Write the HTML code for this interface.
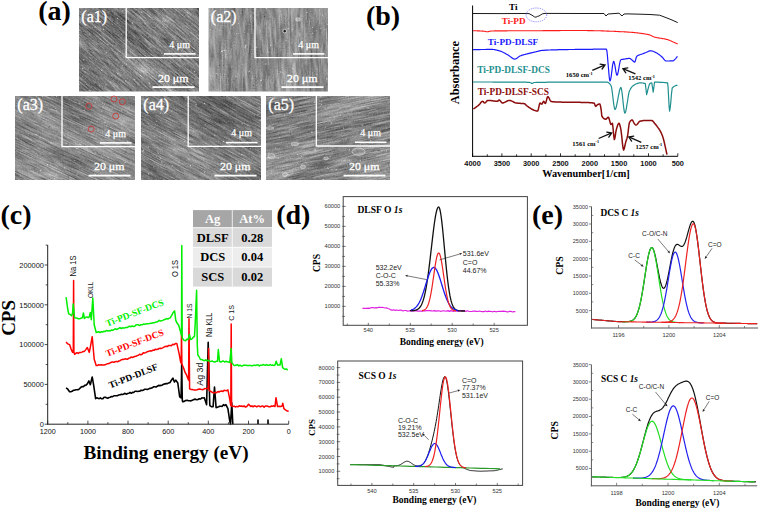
<!DOCTYPE html>
<html><head><meta charset="utf-8"><style>
html,body{margin:0;padding:0;background:#fff;width:760px;height:509px;overflow:hidden;}
svg{display:block;}
</style></head><body>
<svg width="760" height="509" viewBox="0 0 760 509">
<rect width="760" height="509" fill="#fff"/>
<text x="38.2" y="20.3" font-family='"Liberation Serif", serif' font-size="28" font-weight="bold" fill="#000" text-anchor="start"  >(a)</text>
<text x="365.9" y="25.3" font-family='"Liberation Serif", serif' font-size="28" font-weight="bold" fill="#000" text-anchor="start"  >(b)</text>
<text x="0.5" y="224.1" font-family='"Liberation Serif", serif' font-size="28" font-weight="bold" fill="#000" text-anchor="start"  >(c)</text>
<text x="276.2" y="223.5" font-family='"Liberation Serif", serif' font-size="28" font-weight="bold" fill="#000" text-anchor="start"  >(d)</text>
<text x="532.0" y="223.6" font-family='"Liberation Serif", serif' font-size="28" font-weight="bold" fill="#000" text-anchor="start"  >(e)</text>
<defs>
<clipPath id="ca1"><rect x="79" y="8" width="120" height="83.5"/></clipPath>
<filter id="fa1" x="0" y="0" width="1" height="1" color-interpolation-filters="sRGB"><feTurbulence type="fractalNoise" baseFrequency="0.06 0.9" numOctaves="3" seed="3" result="t"/><feColorMatrix in="t" type="matrix" values="1 0 0 0 0  1 0 0 0 0  1 0 0 0 0  0 0 0 0 1" result="g1"/><feTurbulence type="fractalNoise" baseFrequency="0.8" numOctaves="1" seed="23" result="t2"/><feColorMatrix in="t2" type="matrix" values="1 0 0 0 0  1 0 0 0 0  1 0 0 0 0  0 0 0 0 1" result="g2"/><feComposite in="g1" in2="g2" operator="arithmetic" k2="0.6" k3="0.4" result="g3"/><feTurbulence type="fractalNoise" baseFrequency="0.012 0.04" numOctaves="2" seed="43" result="t4"/><feColorMatrix in="t4" type="matrix" values="1 0 0 0 0  1 0 0 0 0  1 0 0 0 0  0 0 0 0 1" result="g4"/><feComposite in="g3" in2="g4" operator="arithmetic" k2="0.75" k3="0.35" k4="-0.05" result="g5"/><feColorMatrix in="g5" type="matrix" values="1.25 0 0 0 -0.145  1.25 0 0 0 -0.145  1.25 0 0 0 -0.145  0 0 0 0 1"/></filter>
<clipPath id="ca2"><rect x="208.5" y="8" width="119.5" height="83.5"/></clipPath>
<filter id="fa2" x="0" y="0" width="1" height="1" color-interpolation-filters="sRGB"><feTurbulence type="fractalNoise" baseFrequency="0.05 0.35" numOctaves="3" seed="7" result="t"/><feColorMatrix in="t" type="matrix" values="1 0 0 0 0  1 0 0 0 0  1 0 0 0 0  0 0 0 0 1" result="g1"/><feTurbulence type="fractalNoise" baseFrequency="0.8" numOctaves="1" seed="27" result="t2"/><feColorMatrix in="t2" type="matrix" values="1 0 0 0 0  1 0 0 0 0  1 0 0 0 0  0 0 0 0 1" result="g2"/><feComposite in="g1" in2="g2" operator="arithmetic" k2="0.6" k3="0.4" result="g3"/><feTurbulence type="fractalNoise" baseFrequency="0.012 0.04" numOctaves="2" seed="47" result="t4"/><feColorMatrix in="t4" type="matrix" values="1 0 0 0 0  1 0 0 0 0  1 0 0 0 0  0 0 0 0 1" result="g4"/><feComposite in="g3" in2="g4" operator="arithmetic" k2="0.75" k3="0.35" k4="-0.05" result="g5"/><feColorMatrix in="g5" type="matrix" values="0.9 0 0 0 0.100  0.9 0 0 0 0.100  0.9 0 0 0 0.100  0 0 0 0 1"/></filter>
<clipPath id="ca3"><rect x="15" y="96" width="120" height="84"/></clipPath>
<filter id="fa3" x="0" y="0" width="1" height="1" color-interpolation-filters="sRGB"><feTurbulence type="fractalNoise" baseFrequency="0.05 0.9" numOctaves="3" seed="11" result="t"/><feColorMatrix in="t" type="matrix" values="1 0 0 0 0  1 0 0 0 0  1 0 0 0 0  0 0 0 0 1" result="g1"/><feTurbulence type="fractalNoise" baseFrequency="0.8" numOctaves="1" seed="31" result="t2"/><feColorMatrix in="t2" type="matrix" values="1 0 0 0 0  1 0 0 0 0  1 0 0 0 0  0 0 0 0 1" result="g2"/><feComposite in="g1" in2="g2" operator="arithmetic" k2="0.6" k3="0.4" result="g3"/><feTurbulence type="fractalNoise" baseFrequency="0.012 0.04" numOctaves="2" seed="51" result="t4"/><feColorMatrix in="t4" type="matrix" values="1 0 0 0 0  1 0 0 0 0  1 0 0 0 0  0 0 0 0 1" result="g4"/><feComposite in="g3" in2="g4" operator="arithmetic" k2="0.75" k3="0.35" k4="-0.05" result="g5"/><feColorMatrix in="g5" type="matrix" values="1.05 0 0 0 0.005  1.05 0 0 0 0.005  1.05 0 0 0 0.005  0 0 0 0 1"/></filter>
<clipPath id="ca4"><rect x="141" y="96" width="120" height="84"/></clipPath>
<filter id="fa4" x="0" y="0" width="1" height="1" color-interpolation-filters="sRGB"><feTurbulence type="fractalNoise" baseFrequency="0.05 0.8" numOctaves="3" seed="5" result="t"/><feColorMatrix in="t" type="matrix" values="1 0 0 0 0  1 0 0 0 0  1 0 0 0 0  0 0 0 0 1" result="g1"/><feTurbulence type="fractalNoise" baseFrequency="0.8" numOctaves="1" seed="25" result="t2"/><feColorMatrix in="t2" type="matrix" values="1 0 0 0 0  1 0 0 0 0  1 0 0 0 0  0 0 0 0 1" result="g2"/><feComposite in="g1" in2="g2" operator="arithmetic" k2="0.6" k3="0.4" result="g3"/><feTurbulence type="fractalNoise" baseFrequency="0.012 0.04" numOctaves="2" seed="45" result="t4"/><feColorMatrix in="t4" type="matrix" values="1 0 0 0 0  1 0 0 0 0  1 0 0 0 0  0 0 0 0 1" result="g4"/><feComposite in="g3" in2="g4" operator="arithmetic" k2="0.75" k3="0.35" k4="-0.05" result="g5"/><feColorMatrix in="g5" type="matrix" values="1.1 0 0 0 -0.080  1.1 0 0 0 -0.080  1.1 0 0 0 -0.080  0 0 0 0 1"/></filter>
<clipPath id="ca5"><rect x="266" y="96" width="124" height="84"/></clipPath>
<filter id="fa5" x="0" y="0" width="1" height="1" color-interpolation-filters="sRGB"><feTurbulence type="fractalNoise" baseFrequency="0.04 0.8" numOctaves="3" seed="9" result="t"/><feColorMatrix in="t" type="matrix" values="1 0 0 0 0  1 0 0 0 0  1 0 0 0 0  0 0 0 0 1" result="g1"/><feTurbulence type="fractalNoise" baseFrequency="0.8" numOctaves="1" seed="29" result="t2"/><feColorMatrix in="t2" type="matrix" values="1 0 0 0 0  1 0 0 0 0  1 0 0 0 0  0 0 0 0 1" result="g2"/><feComposite in="g1" in2="g2" operator="arithmetic" k2="0.6" k3="0.4" result="g3"/><feTurbulence type="fractalNoise" baseFrequency="0.012 0.04" numOctaves="2" seed="49" result="t4"/><feColorMatrix in="t4" type="matrix" values="1 0 0 0 0  1 0 0 0 0  1 0 0 0 0  0 0 0 0 1" result="g4"/><feComposite in="g3" in2="g4" operator="arithmetic" k2="0.75" k3="0.35" k4="-0.05" result="g5"/><feColorMatrix in="g5" type="matrix" values="1.1 0 0 0 -0.030  1.1 0 0 0 -0.030  1.1 0 0 0 -0.030  0 0 0 0 1"/></filter>
</defs>
<g clip-path="url(#ca1)"><rect x="29.0" y="-60.25" width="220" height="220" filter="url(#fa1)" transform="rotate(40 139.0 49.75)"/></g>
<path d="M139.2,34.1L158.8,50.6M84.8,71.3L110.9,93.1M151.4,7.0L169.6,22.2M100.2,11.5L129.6,36.2M195.0,-8.7L222.0,13.9M147.5,32.5L159.4,42.5M152.3,35.9L174.7,54.7M149.4,1.4L174.0,22.1M196.3,89.7L216.8,107.0M71.2,-5.0L79.2,1.8M193.7,23.4L207.8,35.3M185.3,22.6L204.2,38.5M120.1,-3.6L140.0,13.0M182.0,9.8L192.4,18.6M118.0,-5.5L135.6,9.2M174.3,58.3L192.8,73.8M179.0,5.4L198.4,21.6M117.6,57.1L125.2,63.4M173.1,4.3L182.0,11.7M174.1,89.4L190.0,102.7M121.1,18.5L132.8,28.3M151.6,13.2L159.3,19.7M122.1,6.1L143.5,24.1M175.4,71.3L192.5,85.6M115.3,41.0L120.0,45.0M162.3,26.9L175.2,37.7M70.3,36.1L90.1,52.7M112.6,78.7L134.7,97.3M88.6,40.5L117.0,64.3M138.7,57.7L144.9,62.9M130.0,39.4L145.0,52.1M118.5,50.7L137.2,66.4M129.5,8.4L145.6,21.9M201.9,38.7L207.4,43.3M66.4,50.9L72.4,55.9M73.8,2.4L90.2,16.1M199.7,41.3L216.2,55.1M122.0,43.1L138.2,56.7M159.3,81.4L182.1,100.5M114.1,53.4L142.4,77.1M80.1,13.9L100.9,31.3M155.2,56.1L175.1,72.9M172.3,36.8L197.9,58.3M190.2,31.7L217.2,54.4M166.7,87.5L172.5,92.4M182.0,64.9L211.7,89.8M195.4,18.3L217.4,36.8M74.5,47.6L103.1,71.6M92.5,31.4L99.2,37.0M92.7,16.5L99.8,22.5M200.6,82.9L217.3,96.9M164.0,62.3L182.2,77.6M118.8,58.7L137.8,74.7M95.8,26.9L116.7,44.5M146.6,11.1L167.0,28.3M180.7,79.1L202.3,97.2M75.4,38.9L82.3,44.7M68.5,17.4L85.0,31.3M169.3,58.1L181.3,68.1M157.4,42.9L175.2,57.9M99.2,38.0L112.7,49.4M162.6,41.1L178.8,54.8M124.5,38.2L147.1,57.1M162.2,74.6L177.4,87.3M164.9,85.1L195.3,110.6M156.6,-6.4L183.2,16.0M179.5,-5.8L192.7,5.2M103.8,66.0L124.3,83.2M104.0,13.5L113.0,21.1M67.9,67.7L96.8,92.0" stroke="#fff" stroke-opacity="0.35" stroke-width="0.6" fill="none" clip-path="url(#ca1)"/>
<path d="M121.5,46.9L143.1,65.0M126.5,44.1L141.9,57.0M86.8,44.2L102.9,57.8M174.9,3.5L185.1,12.0M73.0,74.5L90.4,89.1M63.7,90.3L86.0,109.0M156.8,58.6L164.3,64.9M68.3,50.3L73.9,55.1M93.1,20.9L98.2,25.2M123.9,35.2L144.0,52.0M134.8,58.5L148.6,70.1M156.9,41.3L166.6,49.4M198.7,92.6L218.7,109.5M163.7,26.9L172.5,34.3M100.1,-2.6L118.8,13.1M119.2,80.7L130.9,90.5M200.8,83.8L205.4,87.6M91.7,86.7L105.0,97.8M203.3,36.6L209.2,41.6M152.3,74.6L161.9,82.6M70.0,23.1L92.4,41.8M170.6,6.4L179.7,14.0M73.5,-3.9L92.8,12.3M87.5,50.5L100.3,61.3M92.2,70.8L99.2,76.7M153.0,4.9L165.3,15.2M87.6,16.5L110.0,35.3M171.0,20.7L191.9,38.2M88.3,30.3L108.7,47.3M147.5,-1.2L170.2,17.9" stroke="#000" stroke-opacity="0.18" stroke-width="0.8" fill="none" clip-path="url(#ca1)"/>
<path d="M135.4,62.9a0.57,0.57 0 1,0 1.13,0a0.57,0.57 0 1,0 -1.13,0M95.7,8.9a0.45,0.45 0 1,0 0.90,0a0.45,0.45 0 1,0 -0.90,0M111.3,75.7a0.58,0.58 0 1,0 1.15,0a0.58,0.58 0 1,0 -1.15,0M150.6,54.6a0.56,0.56 0 1,0 1.13,0a0.56,0.56 0 1,0 -1.13,0M96.1,44.7a0.36,0.36 0 1,0 0.73,0a0.36,0.36 0 1,0 -0.73,0M187.1,12.9a0.63,0.63 0 1,0 1.26,0a0.63,0.63 0 1,0 -1.26,0M87.5,65.4a0.43,0.43 0 1,0 0.87,0a0.43,0.43 0 1,0 -0.87,0M127.2,78.3a0.31,0.31 0 1,0 0.61,0a0.31,0.31 0 1,0 -0.61,0M85.8,84.4a0.50,0.50 0 1,0 1.01,0a0.50,0.50 0 1,0 -1.01,0M89.2,90.4a0.68,0.68 0 1,0 1.36,0a0.68,0.68 0 1,0 -1.36,0M92.1,43.3a0.35,0.35 0 1,0 0.71,0a0.35,0.35 0 1,0 -0.71,0M116.1,59.9a0.37,0.37 0 1,0 0.73,0a0.37,0.37 0 1,0 -0.73,0M162.3,12.3a0.37,0.37 0 1,0 0.74,0a0.37,0.37 0 1,0 -0.74,0M176.4,41.4a0.47,0.47 0 1,0 0.94,0a0.47,0.47 0 1,0 -0.94,0M150.1,47.8a0.45,0.45 0 1,0 0.91,0a0.45,0.45 0 1,0 -0.91,0M82.0,68.6a0.69,0.69 0 1,0 1.37,0a0.69,0.69 0 1,0 -1.37,0M195.7,63.4a0.44,0.44 0 1,0 0.89,0a0.44,0.44 0 1,0 -0.89,0M122.0,65.6a0.57,0.57 0 1,0 1.14,0a0.57,0.57 0 1,0 -1.14,0M92.2,27.6a0.45,0.45 0 1,0 0.89,0a0.45,0.45 0 1,0 -0.89,0M139.9,75.6a0.50,0.50 0 1,0 1.00,0a0.50,0.50 0 1,0 -1.00,0M81.9,76.7a0.47,0.47 0 1,0 0.94,0a0.47,0.47 0 1,0 -0.94,0M140.8,26.6a0.47,0.47 0 1,0 0.94,0a0.47,0.47 0 1,0 -0.94,0M125.2,72.5a0.34,0.34 0 1,0 0.68,0a0.34,0.34 0 1,0 -0.68,0M144.4,22.9a0.58,0.58 0 1,0 1.16,0a0.58,0.58 0 1,0 -1.16,0M83.0,31.1a0.44,0.44 0 1,0 0.88,0a0.44,0.44 0 1,0 -0.88,0M154.9,12.3a0.48,0.48 0 1,0 0.97,0a0.48,0.48 0 1,0 -0.97,0M103.6,31.5a0.49,0.49 0 1,0 0.98,0a0.49,0.49 0 1,0 -0.98,0M193.4,48.2a0.68,0.68 0 1,0 1.36,0a0.68,0.68 0 1,0 -1.36,0M98.7,85.2a0.45,0.45 0 1,0 0.89,0a0.45,0.45 0 1,0 -0.89,0M101.0,70.5a0.66,0.66 0 1,0 1.33,0a0.66,0.66 0 1,0 -1.33,0M79.2,30.4a0.61,0.61 0 1,0 1.22,0a0.61,0.61 0 1,0 -1.22,0M119.7,28.2a0.30,0.30 0 1,0 0.61,0a0.30,0.30 0 1,0 -0.61,0M83.1,59.7a0.69,0.69 0 1,0 1.39,0a0.69,0.69 0 1,0 -1.39,0M198.5,50.1a0.31,0.31 0 1,0 0.62,0a0.31,0.31 0 1,0 -0.62,0M117.1,73.7a0.63,0.63 0 1,0 1.27,0a0.63,0.63 0 1,0 -1.27,0M155.2,27.2a0.51,0.51 0 1,0 1.02,0a0.51,0.51 0 1,0 -1.02,0M135.9,60.4a0.41,0.41 0 1,0 0.81,0a0.41,0.41 0 1,0 -0.81,0M192.2,82.7a0.36,0.36 0 1,0 0.73,0a0.36,0.36 0 1,0 -0.73,0M113.5,80.9a0.41,0.41 0 1,0 0.82,0a0.41,0.41 0 1,0 -0.82,0M191.7,51.0a0.58,0.58 0 1,0 1.16,0a0.58,0.58 0 1,0 -1.16,0M163.1,25.9a0.41,0.41 0 1,0 0.83,0a0.41,0.41 0 1,0 -0.83,0M109.0,65.1a0.58,0.58 0 1,0 1.16,0a0.58,0.58 0 1,0 -1.16,0M94.3,82.0a0.47,0.47 0 1,0 0.94,0a0.47,0.47 0 1,0 -0.94,0M107.3,44.3a0.69,0.69 0 1,0 1.38,0a0.69,0.69 0 1,0 -1.38,0M145.5,60.2a0.67,0.67 0 1,0 1.34,0a0.67,0.67 0 1,0 -1.34,0M194.0,71.5a0.47,0.47 0 1,0 0.93,0a0.47,0.47 0 1,0 -0.93,0M149.0,83.2a0.62,0.62 0 1,0 1.23,0a0.62,0.62 0 1,0 -1.23,0M148.2,37.0a0.45,0.45 0 1,0 0.89,0a0.45,0.45 0 1,0 -0.89,0M167.0,55.0a0.31,0.31 0 1,0 0.61,0a0.31,0.31 0 1,0 -0.61,0M163.6,83.5a0.62,0.62 0 1,0 1.24,0a0.62,0.62 0 1,0 -1.24,0M186.2,84.0a0.51,0.51 0 1,0 1.03,0a0.51,0.51 0 1,0 -1.03,0M173.4,39.7a0.34,0.34 0 1,0 0.68,0a0.34,0.34 0 1,0 -0.68,0M120.7,34.1a0.67,0.67 0 1,0 1.35,0a0.67,0.67 0 1,0 -1.35,0M161.1,53.2a0.55,0.55 0 1,0 1.10,0a0.55,0.55 0 1,0 -1.10,0M93.4,52.6a0.58,0.58 0 1,0 1.16,0a0.58,0.58 0 1,0 -1.16,0M125.8,28.5a0.46,0.46 0 1,0 0.93,0a0.46,0.46 0 1,0 -0.93,0M117.5,65.2a0.36,0.36 0 1,0 0.71,0a0.36,0.36 0 1,0 -0.71,0M89.3,34.1a0.58,0.58 0 1,0 1.16,0a0.58,0.58 0 1,0 -1.16,0M169.5,63.1a0.67,0.67 0 1,0 1.35,0a0.67,0.67 0 1,0 -1.35,0M122.4,10.5a0.50,0.50 0 1,0 0.99,0a0.50,0.50 0 1,0 -0.99,0M131.7,23.0a0.57,0.57 0 1,0 1.13,0a0.57,0.57 0 1,0 -1.13,0M119.5,27.9a0.43,0.43 0 1,0 0.86,0a0.43,0.43 0 1,0 -0.86,0M191.8,8.6a0.44,0.44 0 1,0 0.89,0a0.44,0.44 0 1,0 -0.89,0M112.1,24.8a0.47,0.47 0 1,0 0.95,0a0.47,0.47 0 1,0 -0.95,0M104.9,84.7a0.50,0.50 0 1,0 1.00,0a0.50,0.50 0 1,0 -1.00,0M162.3,21.6a0.49,0.49 0 1,0 0.97,0a0.49,0.49 0 1,0 -0.97,0M151.4,78.4a0.40,0.40 0 1,0 0.80,0a0.40,0.40 0 1,0 -0.80,0M133.5,79.4a0.63,0.63 0 1,0 1.27,0a0.63,0.63 0 1,0 -1.27,0M105.7,52.9a0.60,0.60 0 1,0 1.21,0a0.60,0.60 0 1,0 -1.21,0M125.9,64.2a0.57,0.57 0 1,0 1.13,0a0.57,0.57 0 1,0 -1.13,0M195.1,54.2a0.57,0.57 0 1,0 1.14,0a0.57,0.57 0 1,0 -1.14,0M120.6,69.1a0.43,0.43 0 1,0 0.86,0a0.43,0.43 0 1,0 -0.86,0M138.6,38.1a0.42,0.42 0 1,0 0.85,0a0.42,0.42 0 1,0 -0.85,0M94.8,26.8a0.52,0.52 0 1,0 1.04,0a0.52,0.52 0 1,0 -1.04,0M108.6,11.8a0.62,0.62 0 1,0 1.24,0a0.62,0.62 0 1,0 -1.24,0M112.7,86.2a0.54,0.54 0 1,0 1.08,0a0.54,0.54 0 1,0 -1.08,0M125.0,80.9a0.66,0.66 0 1,0 1.32,0a0.66,0.66 0 1,0 -1.32,0M117.0,18.5a0.56,0.56 0 1,0 1.11,0a0.56,0.56 0 1,0 -1.11,0M179.5,58.8a0.61,0.61 0 1,0 1.23,0a0.61,0.61 0 1,0 -1.23,0M128.1,59.6a0.41,0.41 0 1,0 0.81,0a0.41,0.41 0 1,0 -0.81,0M127.4,39.7a0.45,0.45 0 1,0 0.91,0a0.45,0.45 0 1,0 -0.91,0M126.6,75.4a0.37,0.37 0 1,0 0.74,0a0.37,0.37 0 1,0 -0.74,0M102.9,29.3a0.69,0.69 0 1,0 1.38,0a0.69,0.69 0 1,0 -1.38,0M141.1,12.4a0.63,0.63 0 1,0 1.27,0a0.63,0.63 0 1,0 -1.27,0M183.4,76.6a0.44,0.44 0 1,0 0.89,0a0.44,0.44 0 1,0 -0.89,0M166.8,33.5a0.35,0.35 0 1,0 0.71,0a0.35,0.35 0 1,0 -0.71,0M182.4,77.6a0.38,0.38 0 1,0 0.77,0a0.38,0.38 0 1,0 -0.77,0M184.2,10.1a0.42,0.42 0 1,0 0.85,0a0.42,0.42 0 1,0 -0.85,0M80.2,22.3a0.37,0.37 0 1,0 0.73,0a0.37,0.37 0 1,0 -0.73,0M164.5,32.8a0.38,0.38 0 1,0 0.75,0a0.38,0.38 0 1,0 -0.75,0" fill="#fff" fill-opacity="0.55" clip-path="url(#ca1)"/>
<path d="M109.6,65.2a0.51,0.51 0 1,0 1.01,0a0.51,0.51 0 1,0 -1.01,0M180.6,23.5a0.37,0.37 0 1,0 0.74,0a0.37,0.37 0 1,0 -0.74,0M96.1,26.8a0.52,0.52 0 1,0 1.04,0a0.52,0.52 0 1,0 -1.04,0M94.3,52.4a0.36,0.36 0 1,0 0.73,0a0.36,0.36 0 1,0 -0.73,0M113.8,44.0a0.55,0.55 0 1,0 1.10,0a0.55,0.55 0 1,0 -1.10,0M151.6,9.2a0.38,0.38 0 1,0 0.77,0a0.38,0.38 0 1,0 -0.77,0M96.1,80.8a0.54,0.54 0 1,0 1.09,0a0.54,0.54 0 1,0 -1.09,0M175.2,77.0a0.52,0.52 0 1,0 1.05,0a0.52,0.52 0 1,0 -1.05,0M192.5,74.3a0.38,0.38 0 1,0 0.75,0a0.38,0.38 0 1,0 -0.75,0M180.5,48.6a0.53,0.53 0 1,0 1.05,0a0.53,0.53 0 1,0 -1.05,0M146.3,43.9a0.41,0.41 0 1,0 0.82,0a0.41,0.41 0 1,0 -0.82,0M130.2,34.2a0.34,0.34 0 1,0 0.67,0a0.34,0.34 0 1,0 -0.67,0M176.8,74.7a0.60,0.60 0 1,0 1.19,0a0.60,0.60 0 1,0 -1.19,0M161.4,54.3a0.52,0.52 0 1,0 1.05,0a0.52,0.52 0 1,0 -1.05,0M94.7,64.5a0.43,0.43 0 1,0 0.87,0a0.43,0.43 0 1,0 -0.87,0M99.7,24.9a0.46,0.46 0 1,0 0.91,0a0.46,0.46 0 1,0 -0.91,0M108.9,46.4a0.48,0.48 0 1,0 0.96,0a0.48,0.48 0 1,0 -0.96,0M126.0,18.9a0.45,0.45 0 1,0 0.89,0a0.45,0.45 0 1,0 -0.89,0M106.9,27.7a0.36,0.36 0 1,0 0.72,0a0.36,0.36 0 1,0 -0.72,0M122.5,14.1a0.50,0.50 0 1,0 0.99,0a0.50,0.50 0 1,0 -0.99,0M192.9,40.5a0.52,0.52 0 1,0 1.03,0a0.52,0.52 0 1,0 -1.03,0M190.6,11.6a0.34,0.34 0 1,0 0.69,0a0.34,0.34 0 1,0 -0.69,0M175.2,78.0a0.49,0.49 0 1,0 0.98,0a0.49,0.49 0 1,0 -0.98,0M97.6,42.5a0.56,0.56 0 1,0 1.12,0a0.56,0.56 0 1,0 -1.12,0M185.0,75.1a0.36,0.36 0 1,0 0.72,0a0.36,0.36 0 1,0 -0.72,0" fill="#000" fill-opacity="0.35" clip-path="url(#ca1)"/>
<polyline points="126.2,8 126.2,57.6 199,57.6" fill="none" stroke="#fff" stroke-width="1.3"/>
<text x="81.3" y="21.6" font-family='"Liberation Serif", serif' font-size="16" fill="#fff" stroke="#fff" stroke-width="0.3">(a1)</text>
<text x="190" y="47.6" font-family='"Liberation Serif", serif' font-size="10" fill="#fff" stroke="#fff" stroke-width="0.25" text-anchor="end">4 μm</text>
<rect x="164" y="53.1" width="31.5" height="1.6" fill="#fff"/>
<text x="188.5" y="81.8" font-family='"Liberation Serif", serif' font-size="11" fill="#fff" stroke="#fff" stroke-width="0.3" text-anchor="end" textLength="30.5" lengthAdjust="spacingAndGlyphs">20 μm</text>
<rect x="152.5" y="86.2" width="42" height="1.8" fill="#fff"/>
<g clip-path="url(#ca2)"><rect x="158.25" y="-60.25" width="220" height="220" filter="url(#fa2)" transform="rotate(88 268.25 49.75)"/></g>
<path d="M332.1,9.1L332.3,15.9M337.6,12.0L338.0,22.1M288.7,15.7L290.0,51.9M230.5,88.9L231.1,105.7M281.8,79.8L282.9,109.1M327.2,67.5L327.5,75.1M321.2,50.7L321.7,67.3M224.6,73.1L225.5,98.9M328.7,58.8L330.0,97.4M277.0,56.9L278.0,83.7M234.3,88.7L234.8,105.3M307.0,82.7L308.0,110.9M217.8,69.1L218.8,97.7M223.9,-8.9L224.7,15.1M202.6,82.1L203.4,105.3M270.2,26.1L271.2,54.6M326.0,20.5L326.7,39.2M279.3,15.7L280.2,41.9M273.8,28.4L274.8,57.3M271.5,-12.8L272.9,27.0M247.8,32.8L248.5,52.5M327.8,84.9L328.6,108.2M253.8,-10.2L255.0,26.2M222.1,45.6L222.7,63.5M244.1,28.7L244.5,41.2M203.1,36.9L204.2,69.9M288.3,4.1L289.3,33.6M205.2,23.4L206.4,57.6M326.4,28.3L327.6,63.1M267.6,39.3L268.5,65.2M336.4,63.9L337.2,86.0M299.6,55.6L300.3,73.6M307.4,69.5L308.4,96.2M329.6,-11.6L330.4,11.4M286.8,27.3L287.2,39.2M294.8,35.4L295.3,50.5M204.0,89.1L204.7,107.1M214.7,13.1L215.2,27.7M319.1,9.0L319.6,24.4M211.9,40.1L212.3,53.2M245.9,55.3L247.2,92.8M314.5,-7.5L315.2,11.4M316.7,-5.0L317.2,7.9M266.3,21.8L267.4,53.3M298.4,38.8L298.9,53.3M230.5,21.5L230.8,29.7M290.7,-3.8L292.0,32.4M288.2,-7.6L289.0,15.3M282.3,-8.9L283.1,13.6M202.6,74.2L202.8,80.4M286.1,82.6L287.3,117.4M230.9,48.0L231.2,58.7M245.7,70.5L246.8,104.3M199.3,23.4L200.3,51.2M222.3,62.9L223.6,99.2M274.8,18.1L276.0,52.9M269.8,9.8L270.3,25.2M220.3,73.1L221.1,96.5M295.0,63.1L296.4,102.1M224.5,22.1L225.7,57.8M304.3,23.9L305.2,52.2M225.6,10.9L225.8,18.6M251.1,10.6L251.9,34.2M333.3,1.3L334.2,26.3M318.7,48.0L319.5,71.9M304.9,-18.9L306.3,19.4M293.7,64.5L294.9,98.5M212.0,-1.1L212.5,10.9M268.3,76.7L269.6,113.6M255.4,46.9L256.5,78.0" stroke="#fff" stroke-opacity="0.35" stroke-width="0.6" fill="none" clip-path="url(#ca2)"/>
<path d="M327.0,82.5L328.0,109.9M209.9,51.2L210.4,67.4M272.3,6.2L272.6,16.8M260.2,12.4L260.8,29.3M201.6,-4.6L202.4,18.4M256.9,39.3L257.7,62.9M248.1,-8.4L249.0,16.3M280.3,55.6L281.0,76.5M333.5,23.4L334.3,47.7M249.6,46.3L250.3,68.1M242.1,-1.8L242.7,15.6M298.4,50.8L298.9,67.5M287.9,11.7L288.3,22.0M243.4,77.1L243.8,87.8M214.3,4.7L214.6,11.7M236.5,44.4L237.4,70.1M244.4,29.8L244.9,42.7M240.7,68.9L241.4,88.1M234.1,-3.3L235.0,21.5M296.9,77.9L297.4,89.6M274.2,83.0L274.9,103.2M329.9,0.6L330.9,30.0M206.2,37.8L206.4,44.4M310.9,54.4L311.9,83.8M310.5,86.7L311.1,105.7M336.1,68.4L336.6,82.7M334.2,31.7L334.6,42.3M208.9,40.9L209.3,51.6M328.5,90.8L328.9,102.0M212.8,47.7L213.1,57.8" stroke="#000" stroke-opacity="0.18" stroke-width="0.8" fill="none" clip-path="url(#ca2)"/>
<path d="M293.3,78.1a0.37,0.37 0 1,0 0.75,0a0.37,0.37 0 1,0 -0.75,0M327.2,24.2a0.57,0.57 0 1,0 1.14,0a0.57,0.57 0 1,0 -1.14,0M219.1,71.3a0.36,0.36 0 1,0 0.72,0a0.36,0.36 0 1,0 -0.72,0M292.3,68.5a0.61,0.61 0 1,0 1.21,0a0.61,0.61 0 1,0 -1.21,0M260.5,80.3a0.70,0.70 0 1,0 1.39,0a0.70,0.70 0 1,0 -1.39,0M221.6,51.2a0.68,0.68 0 1,0 1.37,0a0.68,0.68 0 1,0 -1.37,0M296.4,45.1a0.42,0.42 0 1,0 0.84,0a0.42,0.42 0 1,0 -0.84,0M321.8,15.1a0.60,0.60 0 1,0 1.21,0a0.60,0.60 0 1,0 -1.21,0M308.8,21.2a0.43,0.43 0 1,0 0.86,0a0.43,0.43 0 1,0 -0.86,0M244.5,53.3a0.45,0.45 0 1,0 0.89,0a0.45,0.45 0 1,0 -0.89,0M314.9,85.2a0.43,0.43 0 1,0 0.85,0a0.43,0.43 0 1,0 -0.85,0M315.1,13.8a0.34,0.34 0 1,0 0.68,0a0.34,0.34 0 1,0 -0.68,0M287.4,74.7a0.63,0.63 0 1,0 1.26,0a0.63,0.63 0 1,0 -1.26,0M326.6,79.8a0.41,0.41 0 1,0 0.81,0a0.41,0.41 0 1,0 -0.81,0M296.9,85.2a0.34,0.34 0 1,0 0.67,0a0.34,0.34 0 1,0 -0.67,0M267.2,20.9a0.36,0.36 0 1,0 0.71,0a0.36,0.36 0 1,0 -0.71,0M265.1,64.0a0.69,0.69 0 1,0 1.38,0a0.69,0.69 0 1,0 -1.38,0M223.5,50.2a0.70,0.70 0 1,0 1.40,0a0.70,0.70 0 1,0 -1.40,0M299.5,52.4a0.40,0.40 0 1,0 0.79,0a0.40,0.40 0 1,0 -0.79,0M283.3,29.8a0.56,0.56 0 1,0 1.12,0a0.56,0.56 0 1,0 -1.12,0M285.4,40.7a0.62,0.62 0 1,0 1.24,0a0.62,0.62 0 1,0 -1.24,0M256.1,47.2a0.63,0.63 0 1,0 1.27,0a0.63,0.63 0 1,0 -1.27,0M237.9,23.5a0.53,0.53 0 1,0 1.06,0a0.53,0.53 0 1,0 -1.06,0M260.0,81.0a0.40,0.40 0 1,0 0.80,0a0.40,0.40 0 1,0 -0.80,0M252.4,12.8a0.48,0.48 0 1,0 0.96,0a0.48,0.48 0 1,0 -0.96,0M245.2,45.5a0.61,0.61 0 1,0 1.21,0a0.61,0.61 0 1,0 -1.21,0M212.4,90.6a0.58,0.58 0 1,0 1.17,0a0.58,0.58 0 1,0 -1.17,0M304.9,53.0a0.53,0.53 0 1,0 1.06,0a0.53,0.53 0 1,0 -1.06,0M257.1,41.1a0.39,0.39 0 1,0 0.78,0a0.39,0.39 0 1,0 -0.78,0M244.3,32.5a0.43,0.43 0 1,0 0.87,0a0.43,0.43 0 1,0 -0.87,0M316.4,74.7a0.56,0.56 0 1,0 1.11,0a0.56,0.56 0 1,0 -1.11,0M210.0,29.9a0.52,0.52 0 1,0 1.03,0a0.52,0.52 0 1,0 -1.03,0M290.7,43.0a0.55,0.55 0 1,0 1.11,0a0.55,0.55 0 1,0 -1.11,0M316.2,30.3a0.45,0.45 0 1,0 0.91,0a0.45,0.45 0 1,0 -0.91,0M298.8,34.6a0.59,0.59 0 1,0 1.18,0a0.59,0.59 0 1,0 -1.18,0M255.5,9.6a0.49,0.49 0 1,0 0.97,0a0.49,0.49 0 1,0 -0.97,0M216.0,73.5a0.64,0.64 0 1,0 1.28,0a0.64,0.64 0 1,0 -1.28,0M271.4,83.1a0.39,0.39 0 1,0 0.77,0a0.39,0.39 0 1,0 -0.77,0M261.4,22.7a0.32,0.32 0 1,0 0.64,0a0.32,0.32 0 1,0 -0.64,0M306.3,12.4a0.67,0.67 0 1,0 1.35,0a0.67,0.67 0 1,0 -1.35,0M274.7,66.5a0.32,0.32 0 1,0 0.64,0a0.32,0.32 0 1,0 -0.64,0M316.6,74.3a0.34,0.34 0 1,0 0.68,0a0.34,0.34 0 1,0 -0.68,0M229.8,19.8a0.50,0.50 0 1,0 1.00,0a0.50,0.50 0 1,0 -1.00,0M217.4,74.7a0.50,0.50 0 1,0 1.00,0a0.50,0.50 0 1,0 -1.00,0M292.1,29.3a0.56,0.56 0 1,0 1.12,0a0.56,0.56 0 1,0 -1.12,0M262.2,62.1a0.46,0.46 0 1,0 0.93,0a0.46,0.46 0 1,0 -0.93,0M326.1,78.7a0.63,0.63 0 1,0 1.27,0a0.63,0.63 0 1,0 -1.27,0M248.9,24.0a0.36,0.36 0 1,0 0.72,0a0.36,0.36 0 1,0 -0.72,0M223.8,88.8a0.41,0.41 0 1,0 0.83,0a0.41,0.41 0 1,0 -0.83,0M312.0,27.4a0.55,0.55 0 1,0 1.10,0a0.55,0.55 0 1,0 -1.10,0M237.7,33.6a0.60,0.60 0 1,0 1.20,0a0.60,0.60 0 1,0 -1.20,0M280.8,87.0a0.39,0.39 0 1,0 0.79,0a0.39,0.39 0 1,0 -0.79,0M240.4,13.2a0.39,0.39 0 1,0 0.77,0a0.39,0.39 0 1,0 -0.77,0M325.2,55.1a0.49,0.49 0 1,0 0.98,0a0.49,0.49 0 1,0 -0.98,0M248.7,71.4a0.58,0.58 0 1,0 1.15,0a0.58,0.58 0 1,0 -1.15,0M226.7,11.9a0.37,0.37 0 1,0 0.74,0a0.37,0.37 0 1,0 -0.74,0M305.8,69.2a0.39,0.39 0 1,0 0.78,0a0.39,0.39 0 1,0 -0.78,0M235.9,33.7a0.57,0.57 0 1,0 1.14,0a0.57,0.57 0 1,0 -1.14,0M297.5,27.9a0.43,0.43 0 1,0 0.86,0a0.43,0.43 0 1,0 -0.86,0M236.3,87.0a0.52,0.52 0 1,0 1.04,0a0.52,0.52 0 1,0 -1.04,0M320.2,28.2a0.55,0.55 0 1,0 1.11,0a0.55,0.55 0 1,0 -1.11,0M276.0,85.8a0.45,0.45 0 1,0 0.89,0a0.45,0.45 0 1,0 -0.89,0M235.1,76.3a0.68,0.68 0 1,0 1.36,0a0.68,0.68 0 1,0 -1.36,0M269.0,35.8a0.33,0.33 0 1,0 0.67,0a0.33,0.33 0 1,0 -0.67,0M261.1,85.2a0.44,0.44 0 1,0 0.89,0a0.44,0.44 0 1,0 -0.89,0M261.7,55.1a0.40,0.40 0 1,0 0.79,0a0.40,0.40 0 1,0 -0.79,0M220.8,51.3a0.69,0.69 0 1,0 1.37,0a0.69,0.69 0 1,0 -1.37,0M312.1,33.2a0.61,0.61 0 1,0 1.23,0a0.61,0.61 0 1,0 -1.23,0M307.5,56.7a0.44,0.44 0 1,0 0.89,0a0.44,0.44 0 1,0 -0.89,0M231.3,66.8a0.57,0.57 0 1,0 1.15,0a0.57,0.57 0 1,0 -1.15,0M233.7,19.8a0.35,0.35 0 1,0 0.69,0a0.35,0.35 0 1,0 -0.69,0M307.0,81.9a0.51,0.51 0 1,0 1.01,0a0.51,0.51 0 1,0 -1.01,0M281.1,67.1a0.36,0.36 0 1,0 0.73,0a0.36,0.36 0 1,0 -0.73,0M269.9,45.4a0.65,0.65 0 1,0 1.30,0a0.65,0.65 0 1,0 -1.30,0M227.7,78.7a0.36,0.36 0 1,0 0.71,0a0.36,0.36 0 1,0 -0.71,0M281.1,82.4a0.33,0.33 0 1,0 0.66,0a0.33,0.33 0 1,0 -0.66,0M265.8,8.4a0.50,0.50 0 1,0 1.01,0a0.50,0.50 0 1,0 -1.01,0M266.0,88.1a0.49,0.49 0 1,0 0.99,0a0.49,0.49 0 1,0 -0.99,0M316.6,68.9a0.64,0.64 0 1,0 1.27,0a0.64,0.64 0 1,0 -1.27,0M249.8,16.0a0.55,0.55 0 1,0 1.11,0a0.55,0.55 0 1,0 -1.11,0M221.6,60.3a0.37,0.37 0 1,0 0.74,0a0.37,0.37 0 1,0 -0.74,0M280.0,72.0a0.68,0.68 0 1,0 1.37,0a0.68,0.68 0 1,0 -1.37,0M232.1,22.6a0.47,0.47 0 1,0 0.94,0a0.47,0.47 0 1,0 -0.94,0M324.4,29.3a0.49,0.49 0 1,0 0.98,0a0.49,0.49 0 1,0 -0.98,0M253.5,13.2a0.52,0.52 0 1,0 1.03,0a0.52,0.52 0 1,0 -1.03,0M244.6,47.3a0.60,0.60 0 1,0 1.19,0a0.60,0.60 0 1,0 -1.19,0M287.7,28.4a0.56,0.56 0 1,0 1.12,0a0.56,0.56 0 1,0 -1.12,0M272.3,71.9a0.30,0.30 0 1,0 0.60,0a0.30,0.30 0 1,0 -0.60,0M241.6,64.2a0.52,0.52 0 1,0 1.05,0a0.52,0.52 0 1,0 -1.05,0M268.2,52.2a0.55,0.55 0 1,0 1.09,0a0.55,0.55 0 1,0 -1.09,0" fill="#fff" fill-opacity="0.55" clip-path="url(#ca2)"/>
<path d="M253.0,85.4a0.55,0.55 0 1,0 1.11,0a0.55,0.55 0 1,0 -1.11,0M233.6,80.8a0.49,0.49 0 1,0 0.98,0a0.49,0.49 0 1,0 -0.98,0M213.2,87.6a0.38,0.38 0 1,0 0.75,0a0.38,0.38 0 1,0 -0.75,0M244.6,43.4a0.48,0.48 0 1,0 0.95,0a0.48,0.48 0 1,0 -0.95,0M222.8,65.3a0.55,0.55 0 1,0 1.10,0a0.55,0.55 0 1,0 -1.10,0M269.2,74.3a0.49,0.49 0 1,0 0.97,0a0.49,0.49 0 1,0 -0.97,0M306.7,23.1a0.41,0.41 0 1,0 0.82,0a0.41,0.41 0 1,0 -0.82,0M264.0,16.7a0.59,0.59 0 1,0 1.18,0a0.59,0.59 0 1,0 -1.18,0M284.0,16.2a0.47,0.47 0 1,0 0.95,0a0.47,0.47 0 1,0 -0.95,0M257.7,23.8a0.35,0.35 0 1,0 0.70,0a0.35,0.35 0 1,0 -0.70,0M263.1,13.9a0.47,0.47 0 1,0 0.94,0a0.47,0.47 0 1,0 -0.94,0M269.5,18.6a0.56,0.56 0 1,0 1.13,0a0.56,0.56 0 1,0 -1.13,0M212.8,22.4a0.55,0.55 0 1,0 1.09,0a0.55,0.55 0 1,0 -1.09,0M234.4,43.4a0.47,0.47 0 1,0 0.94,0a0.47,0.47 0 1,0 -0.94,0M260.1,49.3a0.45,0.45 0 1,0 0.90,0a0.45,0.45 0 1,0 -0.90,0M265.6,12.8a0.54,0.54 0 1,0 1.09,0a0.54,0.54 0 1,0 -1.09,0M241.9,12.0a0.42,0.42 0 1,0 0.84,0a0.42,0.42 0 1,0 -0.84,0M305.4,60.5a0.44,0.44 0 1,0 0.87,0a0.44,0.44 0 1,0 -0.87,0M265.1,26.3a0.49,0.49 0 1,0 0.97,0a0.49,0.49 0 1,0 -0.97,0M250.0,13.4a0.34,0.34 0 1,0 0.68,0a0.34,0.34 0 1,0 -0.68,0M219.0,65.2a0.56,0.56 0 1,0 1.13,0a0.56,0.56 0 1,0 -1.13,0M298.4,26.3a0.34,0.34 0 1,0 0.69,0a0.34,0.34 0 1,0 -0.69,0M321.7,39.2a0.35,0.35 0 1,0 0.70,0a0.35,0.35 0 1,0 -0.70,0M276.3,59.7a0.46,0.46 0 1,0 0.92,0a0.46,0.46 0 1,0 -0.92,0M262.1,33.4a0.45,0.45 0 1,0 0.90,0a0.45,0.45 0 1,0 -0.90,0" fill="#000" fill-opacity="0.35" clip-path="url(#ca2)"/>
<polyline points="255,8 255,57.6 328,57.6" fill="none" stroke="#fff" stroke-width="1.3"/>
<text x="210.8" y="21.6" font-family='"Liberation Serif", serif' font-size="16" fill="#fff" stroke="#fff" stroke-width="0.3">(a2)</text>
<text x="319" y="47.6" font-family='"Liberation Serif", serif' font-size="10" fill="#fff" stroke="#fff" stroke-width="0.25" text-anchor="end">4 μm</text>
<rect x="293" y="53.1" width="31.5" height="1.6" fill="#fff"/>
<text x="317.5" y="81.8" font-family='"Liberation Serif", serif' font-size="11" fill="#fff" stroke="#fff" stroke-width="0.3" text-anchor="end" textLength="30.5" lengthAdjust="spacingAndGlyphs">20 μm</text>
<rect x="281.5" y="86.2" width="42" height="1.8" fill="#fff"/>
<g clip-path="url(#ca3)"><rect x="-35.0" y="28.0" width="220" height="220" filter="url(#fa3)" transform="rotate(25 75.0 138.0)"/></g>
<path d="M63.3,139.6L94.8,154.2M122.5,173.9L139.1,181.6M130.4,126.6L145.3,133.6M13.1,136.8L23.3,141.6M28.7,142.7L58.1,156.3M106.7,93.3L114.0,96.7M25.1,136.1L56.4,150.7M105.3,177.6L128.9,188.6M86.6,112.8L101.7,119.9M21.8,136.0L45.9,147.3M76.0,122.5L94.5,131.1M28.1,165.3L51.5,176.2M102.8,167.1L116.9,173.7M4.7,107.6L38.1,123.2M101.1,121.3L130.5,135.0M48.8,174.1L57.0,177.9M99.5,183.7L117.9,192.2M62.7,96.4L76.6,102.9M34.0,115.0L41.5,118.6M36.1,91.8L57.7,101.9M44.6,101.6L79.1,117.7M31.8,133.6L64.8,149.0M99.1,180.8L123.3,192.1M112.9,86.2L140.9,99.3M37.5,112.6L66.6,126.2M100.5,117.7L117.2,125.4M31.8,177.5L56.2,188.8M37.8,139.7L45.0,143.0M25.0,129.9L60.4,146.4M110.7,136.2L139.6,149.7M22.2,149.8L58.3,166.6M8.7,174.6L44.5,191.3M38.6,162.3L74.5,179.0M13.8,128.8L37.6,139.9M101.8,107.0L130.4,120.3M89.5,168.7L117.6,181.8M114.4,143.7L136.6,154.0M59.8,123.7L79.5,132.9M69.1,124.5L79.0,129.1M53.2,180.8L68.1,187.8M132.9,168.0L152.3,177.1M18.1,169.3L52.9,185.5M34.2,148.9L62.8,162.2M85.6,95.6L98.3,101.5M93.0,145.9L119.1,158.1M29.6,170.6L59.0,184.3M65.5,171.5L80.3,178.3M62.0,131.9L97.3,148.3M121.5,114.6L151.0,128.3M30.2,170.2L63.1,185.5M93.0,86.2L107.9,93.1M25.7,136.9L32.2,140.0M-2.3,88.9L29.8,103.8M72.0,168.1L106.5,184.2M75.2,169.7L94.0,178.4M80.7,98.9L99.8,107.9M0.9,125.9L36.0,142.2M140.5,162.4L147.3,165.6M130.4,135.1L156.6,147.4M54.4,163.1L69.6,170.1M14.8,131.1L26.0,136.4M22.9,100.2L49.9,112.9M87.1,102.8L113.7,115.2M2.6,181.3L15.3,187.2M60.7,117.1L92.5,131.9M50.6,96.0L82.5,110.9M72.8,107.3L100.2,120.1M115.5,156.4L145.3,170.3M50.9,108.8L58.0,112.1M122.1,106.3L138.9,114.1" stroke="#fff" stroke-opacity="0.35" stroke-width="0.6" fill="none" clip-path="url(#ca3)"/>
<path d="M71.0,159.0L92.7,169.1M112.9,109.6L139.3,121.9M73.4,158.6L95.3,168.8M128.4,111.4L141.8,117.6M94.5,141.8L116.3,151.9M53.2,184.0L58.8,186.7M103.0,123.6L109.0,126.3M94.2,88.9L104.8,93.8M46.0,100.2L55.0,104.4M11.7,172.3L18.9,175.7M14.9,88.1L40.1,99.9M68.1,165.3L94.7,177.7M67.4,123.8L81.3,130.3M28.8,141.7L55.3,154.0M63.1,158.9L87.9,170.5M112.5,151.7L129.9,159.8M6.7,119.7L30.7,130.8M61.4,154.2L72.4,159.4M75.4,103.5L97.9,114.1M108.9,83.2L128.8,92.5M13.6,182.6L22.9,186.9M13.6,174.4L32.4,183.2M-5.2,129.0L18.3,139.9M22.2,161.5L34.0,167.0M63.6,125.6L70.2,128.7M50.1,135.9L69.0,144.7M71.3,99.3L89.9,108.0M41.8,177.8L49.4,181.4M104.9,90.8L122.6,99.0M44.0,129.1L64.4,138.6" stroke="#000" stroke-opacity="0.18" stroke-width="0.8" fill="none" clip-path="url(#ca3)"/>
<path d="M53.8,178.6a0.68,0.68 0 1,0 1.37,0a0.68,0.68 0 1,0 -1.37,0M124.5,162.4a0.65,0.65 0 1,0 1.30,0a0.65,0.65 0 1,0 -1.30,0M14.6,148.7a0.40,0.40 0 1,0 0.80,0a0.40,0.40 0 1,0 -0.80,0M102.1,132.3a0.52,0.52 0 1,0 1.05,0a0.52,0.52 0 1,0 -1.05,0M79.5,144.4a0.63,0.63 0 1,0 1.26,0a0.63,0.63 0 1,0 -1.26,0M132.2,125.0a0.62,0.62 0 1,0 1.24,0a0.62,0.62 0 1,0 -1.24,0M121.4,128.9a0.35,0.35 0 1,0 0.70,0a0.35,0.35 0 1,0 -0.70,0M74.2,160.2a0.51,0.51 0 1,0 1.02,0a0.51,0.51 0 1,0 -1.02,0M36.7,155.3a0.43,0.43 0 1,0 0.86,0a0.43,0.43 0 1,0 -0.86,0M120.8,110.2a0.54,0.54 0 1,0 1.08,0a0.54,0.54 0 1,0 -1.08,0M60.9,178.7a0.36,0.36 0 1,0 0.71,0a0.36,0.36 0 1,0 -0.71,0M120.2,131.1a0.45,0.45 0 1,0 0.90,0a0.45,0.45 0 1,0 -0.90,0M39.3,137.5a0.67,0.67 0 1,0 1.34,0a0.67,0.67 0 1,0 -1.34,0M134.4,174.9a0.54,0.54 0 1,0 1.09,0a0.54,0.54 0 1,0 -1.09,0M42.8,138.6a0.56,0.56 0 1,0 1.12,0a0.56,0.56 0 1,0 -1.12,0M50.2,178.9a0.33,0.33 0 1,0 0.67,0a0.33,0.33 0 1,0 -0.67,0M42.8,113.1a0.37,0.37 0 1,0 0.73,0a0.37,0.37 0 1,0 -0.73,0M22.2,116.1a0.45,0.45 0 1,0 0.90,0a0.45,0.45 0 1,0 -0.90,0M127.2,141.8a0.55,0.55 0 1,0 1.10,0a0.55,0.55 0 1,0 -1.10,0M56.2,110.3a0.53,0.53 0 1,0 1.05,0a0.53,0.53 0 1,0 -1.05,0M101.8,103.1a0.56,0.56 0 1,0 1.12,0a0.56,0.56 0 1,0 -1.12,0M39.7,154.0a0.44,0.44 0 1,0 0.88,0a0.44,0.44 0 1,0 -0.88,0M32.1,107.8a0.62,0.62 0 1,0 1.23,0a0.62,0.62 0 1,0 -1.23,0M79.2,103.2a0.66,0.66 0 1,0 1.32,0a0.66,0.66 0 1,0 -1.32,0M47.9,119.5a0.30,0.30 0 1,0 0.60,0a0.30,0.30 0 1,0 -0.60,0M50.4,143.0a0.66,0.66 0 1,0 1.32,0a0.66,0.66 0 1,0 -1.32,0M50.5,137.8a0.33,0.33 0 1,0 0.66,0a0.33,0.33 0 1,0 -0.66,0M97.0,121.2a0.45,0.45 0 1,0 0.90,0a0.45,0.45 0 1,0 -0.90,0M46.8,164.7a0.69,0.69 0 1,0 1.38,0a0.69,0.69 0 1,0 -1.38,0M31.2,133.9a0.34,0.34 0 1,0 0.69,0a0.34,0.34 0 1,0 -0.69,0M104.7,172.2a0.35,0.35 0 1,0 0.70,0a0.35,0.35 0 1,0 -0.70,0M96.4,121.5a0.48,0.48 0 1,0 0.96,0a0.48,0.48 0 1,0 -0.96,0M83.1,128.3a0.56,0.56 0 1,0 1.12,0a0.56,0.56 0 1,0 -1.12,0M53.8,137.7a0.44,0.44 0 1,0 0.89,0a0.44,0.44 0 1,0 -0.89,0M65.4,108.0a0.44,0.44 0 1,0 0.89,0a0.44,0.44 0 1,0 -0.89,0M27.8,148.2a0.47,0.47 0 1,0 0.93,0a0.47,0.47 0 1,0 -0.93,0M64.8,171.4a0.36,0.36 0 1,0 0.73,0a0.36,0.36 0 1,0 -0.73,0M78.0,147.2a0.55,0.55 0 1,0 1.11,0a0.55,0.55 0 1,0 -1.11,0M105.6,125.8a0.67,0.67 0 1,0 1.34,0a0.67,0.67 0 1,0 -1.34,0M94.6,102.3a0.54,0.54 0 1,0 1.08,0a0.54,0.54 0 1,0 -1.08,0M76.4,174.6a0.59,0.59 0 1,0 1.18,0a0.59,0.59 0 1,0 -1.18,0M95.3,153.0a0.58,0.58 0 1,0 1.17,0a0.58,0.58 0 1,0 -1.17,0M68.1,137.3a0.51,0.51 0 1,0 1.02,0a0.51,0.51 0 1,0 -1.02,0M16.9,138.9a0.47,0.47 0 1,0 0.94,0a0.47,0.47 0 1,0 -0.94,0M65.7,143.4a0.56,0.56 0 1,0 1.12,0a0.56,0.56 0 1,0 -1.12,0M61.4,144.3a0.39,0.39 0 1,0 0.79,0a0.39,0.39 0 1,0 -0.79,0M131.5,151.8a0.58,0.58 0 1,0 1.16,0a0.58,0.58 0 1,0 -1.16,0M103.2,98.2a0.37,0.37 0 1,0 0.74,0a0.37,0.37 0 1,0 -0.74,0M60.0,132.9a0.46,0.46 0 1,0 0.92,0a0.46,0.46 0 1,0 -0.92,0M76.6,148.7a0.60,0.60 0 1,0 1.20,0a0.60,0.60 0 1,0 -1.20,0M97.5,130.1a0.64,0.64 0 1,0 1.28,0a0.64,0.64 0 1,0 -1.28,0M112.1,176.7a0.31,0.31 0 1,0 0.61,0a0.31,0.31 0 1,0 -0.61,0M83.7,110.6a0.64,0.64 0 1,0 1.29,0a0.64,0.64 0 1,0 -1.29,0M127.9,152.1a0.43,0.43 0 1,0 0.86,0a0.43,0.43 0 1,0 -0.86,0M119.1,139.0a0.58,0.58 0 1,0 1.16,0a0.58,0.58 0 1,0 -1.16,0M37.2,105.0a0.63,0.63 0 1,0 1.27,0a0.63,0.63 0 1,0 -1.27,0M117.7,127.8a0.33,0.33 0 1,0 0.67,0a0.33,0.33 0 1,0 -0.67,0M50.3,172.5a0.39,0.39 0 1,0 0.78,0a0.39,0.39 0 1,0 -0.78,0M104.3,122.3a0.68,0.68 0 1,0 1.35,0a0.68,0.68 0 1,0 -1.35,0M55.4,175.7a0.50,0.50 0 1,0 1.01,0a0.50,0.50 0 1,0 -1.01,0M15.5,129.1a0.47,0.47 0 1,0 0.94,0a0.47,0.47 0 1,0 -0.94,0M32.7,103.2a0.52,0.52 0 1,0 1.05,0a0.52,0.52 0 1,0 -1.05,0M101.7,157.5a0.43,0.43 0 1,0 0.86,0a0.43,0.43 0 1,0 -0.86,0M36.0,134.5a0.59,0.59 0 1,0 1.18,0a0.59,0.59 0 1,0 -1.18,0M39.8,170.5a0.69,0.69 0 1,0 1.38,0a0.69,0.69 0 1,0 -1.38,0M55.2,108.2a0.52,0.52 0 1,0 1.04,0a0.52,0.52 0 1,0 -1.04,0M32.9,171.2a0.54,0.54 0 1,0 1.07,0a0.54,0.54 0 1,0 -1.07,0M64.1,167.9a0.61,0.61 0 1,0 1.22,0a0.61,0.61 0 1,0 -1.22,0M103.7,104.4a0.45,0.45 0 1,0 0.90,0a0.45,0.45 0 1,0 -0.90,0M55.8,168.3a0.40,0.40 0 1,0 0.81,0a0.40,0.40 0 1,0 -0.81,0M27.7,133.6a0.42,0.42 0 1,0 0.84,0a0.42,0.42 0 1,0 -0.84,0M93.7,127.1a0.35,0.35 0 1,0 0.70,0a0.35,0.35 0 1,0 -0.70,0M94.6,174.4a0.58,0.58 0 1,0 1.15,0a0.58,0.58 0 1,0 -1.15,0M82.8,102.1a0.38,0.38 0 1,0 0.76,0a0.38,0.38 0 1,0 -0.76,0M94.3,175.4a0.49,0.49 0 1,0 0.98,0a0.49,0.49 0 1,0 -0.98,0M131.1,105.1a0.41,0.41 0 1,0 0.83,0a0.41,0.41 0 1,0 -0.83,0M49.5,153.5a0.45,0.45 0 1,0 0.89,0a0.45,0.45 0 1,0 -0.89,0M93.0,100.7a0.57,0.57 0 1,0 1.14,0a0.57,0.57 0 1,0 -1.14,0M101.0,111.6a0.37,0.37 0 1,0 0.73,0a0.37,0.37 0 1,0 -0.73,0M63.9,135.4a0.49,0.49 0 1,0 0.98,0a0.49,0.49 0 1,0 -0.98,0M128.5,107.5a0.55,0.55 0 1,0 1.10,0a0.55,0.55 0 1,0 -1.10,0M76.1,148.3a0.41,0.41 0 1,0 0.83,0a0.41,0.41 0 1,0 -0.83,0M105.9,165.0a0.31,0.31 0 1,0 0.62,0a0.31,0.31 0 1,0 -0.62,0M56.1,96.3a0.54,0.54 0 1,0 1.07,0a0.54,0.54 0 1,0 -1.07,0M104.3,130.0a0.69,0.69 0 1,0 1.38,0a0.69,0.69 0 1,0 -1.38,0M107.7,151.6a0.34,0.34 0 1,0 0.69,0a0.34,0.34 0 1,0 -0.69,0M50.2,164.3a0.49,0.49 0 1,0 0.98,0a0.49,0.49 0 1,0 -0.98,0M41.8,96.1a0.60,0.60 0 1,0 1.19,0a0.60,0.60 0 1,0 -1.19,0M46.6,104.9a0.50,0.50 0 1,0 1.00,0a0.50,0.50 0 1,0 -1.00,0M100.3,144.6a0.30,0.30 0 1,0 0.61,0a0.30,0.30 0 1,0 -0.61,0" fill="#fff" fill-opacity="0.55" clip-path="url(#ca3)"/>
<path d="M96.4,103.7a0.49,0.49 0 1,0 0.97,0a0.49,0.49 0 1,0 -0.97,0M115.6,166.1a0.45,0.45 0 1,0 0.91,0a0.45,0.45 0 1,0 -0.91,0M90.3,127.0a0.46,0.46 0 1,0 0.92,0a0.46,0.46 0 1,0 -0.92,0M27.5,153.4a0.48,0.48 0 1,0 0.96,0a0.48,0.48 0 1,0 -0.96,0M48.3,127.8a0.52,0.52 0 1,0 1.04,0a0.52,0.52 0 1,0 -1.04,0M67.7,176.6a0.59,0.59 0 1,0 1.18,0a0.59,0.59 0 1,0 -1.18,0M115.3,103.6a0.32,0.32 0 1,0 0.65,0a0.32,0.32 0 1,0 -0.65,0M49.1,126.3a0.51,0.51 0 1,0 1.02,0a0.51,0.51 0 1,0 -1.02,0M113.7,143.3a0.49,0.49 0 1,0 0.98,0a0.49,0.49 0 1,0 -0.98,0M83.3,98.9a0.46,0.46 0 1,0 0.92,0a0.46,0.46 0 1,0 -0.92,0M40.3,131.0a0.30,0.30 0 1,0 0.61,0a0.30,0.30 0 1,0 -0.61,0M93.4,172.5a0.32,0.32 0 1,0 0.64,0a0.32,0.32 0 1,0 -0.64,0M84.2,98.0a0.41,0.41 0 1,0 0.81,0a0.41,0.41 0 1,0 -0.81,0M33.6,168.3a0.52,0.52 0 1,0 1.04,0a0.52,0.52 0 1,0 -1.04,0M122.1,114.3a0.52,0.52 0 1,0 1.03,0a0.52,0.52 0 1,0 -1.03,0M98.4,138.9a0.57,0.57 0 1,0 1.15,0a0.57,0.57 0 1,0 -1.15,0M89.5,119.8a0.52,0.52 0 1,0 1.03,0a0.52,0.52 0 1,0 -1.03,0M72.3,113.9a0.49,0.49 0 1,0 0.97,0a0.49,0.49 0 1,0 -0.97,0M20.3,133.7a0.47,0.47 0 1,0 0.93,0a0.47,0.47 0 1,0 -0.93,0M15.0,150.5a0.33,0.33 0 1,0 0.65,0a0.33,0.33 0 1,0 -0.65,0M92.7,124.7a0.31,0.31 0 1,0 0.62,0a0.31,0.31 0 1,0 -0.62,0M134.6,101.4a0.35,0.35 0 1,0 0.69,0a0.35,0.35 0 1,0 -0.69,0M75.2,116.6a0.46,0.46 0 1,0 0.92,0a0.46,0.46 0 1,0 -0.92,0M71.4,144.4a0.46,0.46 0 1,0 0.93,0a0.46,0.46 0 1,0 -0.93,0M49.8,113.8a0.51,0.51 0 1,0 1.02,0a0.51,0.51 0 1,0 -1.02,0" fill="#000" fill-opacity="0.35" clip-path="url(#ca3)"/>
<polyline points="62,96 62,146.6 135,146.6" fill="none" stroke="#fff" stroke-width="1.3"/>
<text x="17.3" y="109.6" font-family='"Liberation Serif", serif' font-size="16" fill="#fff" stroke="#fff" stroke-width="0.3">(a3)</text>
<text x="126" y="136.6" font-family='"Liberation Serif", serif' font-size="10" fill="#fff" stroke="#fff" stroke-width="0.25" text-anchor="end">4 μm</text>
<rect x="100" y="142.1" width="31.5" height="1.6" fill="#fff"/>
<text x="124.5" y="170.3" font-family='"Liberation Serif", serif' font-size="11" fill="#fff" stroke="#fff" stroke-width="0.3" text-anchor="end" textLength="30.5" lengthAdjust="spacingAndGlyphs">20 μm</text>
<rect x="88.5" y="174.7" width="42" height="1.8" fill="#fff"/>
<g clip-path="url(#ca4)"><rect x="91.0" y="28.0" width="220" height="220" filter="url(#fa4)" transform="rotate(28 201.0 138.0)"/></g>
<path d="M172.7,131.2L190.5,140.7M181.0,121.9L206.1,135.2M164.4,150.6L170.0,153.5M168.5,118.3L178.1,123.4M220.6,110.5L249.6,126.0M248.8,103.8L280.9,120.9M241.0,153.8L247.1,157.0M187.9,147.4L202.0,155.0M155.9,114.7L168.9,121.7M232.3,117.4L250.3,127.0M214.0,180.9L228.1,188.4M122.0,179.2L152.3,195.3M235.5,137.1L247.8,143.7M143.1,112.6L162.2,122.7M126.6,151.5L153.8,165.9M122.8,168.3L142.9,178.9M245.0,127.6L274.2,143.2M184.5,144.4L204.7,155.1M128.1,97.7L140.3,104.2M177.1,118.7L198.6,130.1M215.9,123.6L230.8,131.6M188.2,177.4L217.0,192.7M216.7,167.7L228.8,174.2M140.7,93.3L149.6,98.1M115.8,142.3L148.7,159.8M130.1,148.5L163.7,166.3M225.9,95.4L250.4,108.4M164.0,103.0L169.6,106.0M200.3,179.3L208.8,183.8M148.4,124.7L154.8,128.1M186.5,156.9L205.6,167.0M130.8,86.2L142.1,92.1M214.2,176.8L234.6,187.6M136.6,103.7L154.4,113.2M137.0,93.2L155.3,102.9M232.8,102.2L264.6,119.2M247.6,127.8L259.7,134.2M141.8,147.4L171.9,163.4M242.4,102.9L260.5,112.5M127.0,113.9L141.2,121.4M130.8,84.6L165.9,103.3M163.0,132.2L184.4,143.6M186.9,141.9L207.3,152.7M187.5,87.8L211.8,100.7M217.3,157.4L232.0,165.2M182.2,162.6L209.3,177.1M133.1,118.0L143.6,123.6M222.0,123.3L239.1,132.4M148.8,126.1L175.6,140.4M210.8,104.5L227.9,113.6M202.0,83.2L234.4,100.4M129.3,148.4L139.1,153.6M258.9,154.8L270.9,161.1M186.0,165.7L217.0,182.2M210.0,145.1L237.6,159.7M247.3,133.1L271.1,145.7M236.8,136.0L248.7,142.3M198.9,115.2L225.6,129.4M231.4,178.0L240.0,182.6M120.5,175.6L147.8,190.1M253.7,161.6L287.6,179.7M140.9,99.0L164.6,111.6M220.2,89.2L254.0,107.2M154.0,102.3L172.4,112.1M152.7,93.3L160.3,97.4M122.7,94.8L148.4,108.5M231.3,161.6L249.1,171.1M220.8,89.7L252.0,106.3M180.0,94.3L196.8,103.2M149.8,158.9L166.4,167.7" stroke="#fff" stroke-opacity="0.35" stroke-width="0.6" fill="none" clip-path="url(#ca4)"/>
<path d="M191.3,163.1L216.9,176.7M161.4,160.3L181.7,171.1M220.7,95.9L226.5,99.0M179.5,160.8L190.1,166.5M189.6,112.8L212.8,125.2M250.1,120.7L276.6,134.8M127.8,164.2L151.6,176.9M143.6,154.8L160.7,163.9M256.4,103.4L273.1,112.3M248.6,149.3L260.5,155.6M134.8,179.7L150.1,187.8M259.2,94.7L281.7,106.7M242.0,180.2L247.7,183.2M172.5,85.7L193.7,97.0M174.0,182.3L187.3,189.3M234.2,173.5L244.6,179.0M200.7,181.2L217.2,189.9M170.4,107.9L192.3,119.6M149.4,144.3L166.5,153.3M198.9,94.3L218.1,104.6M253.1,115.9L265.5,122.4M252.7,143.2L263.8,149.1M126.0,161.0L138.7,167.7M187.0,109.4L205.8,119.3M229.6,116.4L236.5,120.0M266.3,179.1L272.0,182.2M203.1,153.7L216.9,161.0M224.5,181.1L242.3,190.6M180.5,103.5L191.1,109.2M147.2,94.9L157.0,100.1" stroke="#000" stroke-opacity="0.18" stroke-width="0.8" fill="none" clip-path="url(#ca4)"/>
<path d="M162.3,151.6a0.43,0.43 0 1,0 0.87,0a0.43,0.43 0 1,0 -0.87,0M164.3,137.1a0.50,0.50 0 1,0 1.00,0a0.50,0.50 0 1,0 -1.00,0M198.2,134.5a0.41,0.41 0 1,0 0.81,0a0.41,0.41 0 1,0 -0.81,0M171.0,154.1a0.43,0.43 0 1,0 0.86,0a0.43,0.43 0 1,0 -0.86,0M221.3,162.1a0.65,0.65 0 1,0 1.29,0a0.65,0.65 0 1,0 -1.29,0M253.9,115.7a0.39,0.39 0 1,0 0.79,0a0.39,0.39 0 1,0 -0.79,0M228.8,144.3a0.38,0.38 0 1,0 0.76,0a0.38,0.38 0 1,0 -0.76,0M221.7,169.4a0.63,0.63 0 1,0 1.27,0a0.63,0.63 0 1,0 -1.27,0M166.6,121.1a0.30,0.30 0 1,0 0.61,0a0.30,0.30 0 1,0 -0.61,0M257.5,114.5a0.59,0.59 0 1,0 1.18,0a0.59,0.59 0 1,0 -1.18,0M205.0,145.9a0.51,0.51 0 1,0 1.02,0a0.51,0.51 0 1,0 -1.02,0M239.6,146.4a0.42,0.42 0 1,0 0.84,0a0.42,0.42 0 1,0 -0.84,0M154.1,136.1a0.67,0.67 0 1,0 1.34,0a0.67,0.67 0 1,0 -1.34,0M157.9,153.5a0.55,0.55 0 1,0 1.10,0a0.55,0.55 0 1,0 -1.10,0M159.7,113.4a0.57,0.57 0 1,0 1.15,0a0.57,0.57 0 1,0 -1.15,0M192.9,130.2a0.49,0.49 0 1,0 0.98,0a0.49,0.49 0 1,0 -0.98,0M152.6,155.2a0.54,0.54 0 1,0 1.07,0a0.54,0.54 0 1,0 -1.07,0M204.5,124.5a0.62,0.62 0 1,0 1.25,0a0.62,0.62 0 1,0 -1.25,0M239.5,141.8a0.34,0.34 0 1,0 0.67,0a0.34,0.34 0 1,0 -0.67,0M158.4,108.8a0.33,0.33 0 1,0 0.66,0a0.33,0.33 0 1,0 -0.66,0M218.4,141.7a0.38,0.38 0 1,0 0.76,0a0.38,0.38 0 1,0 -0.76,0M249.6,148.9a0.62,0.62 0 1,0 1.23,0a0.62,0.62 0 1,0 -1.23,0M238.7,153.2a0.51,0.51 0 1,0 1.02,0a0.51,0.51 0 1,0 -1.02,0M258.6,107.2a0.58,0.58 0 1,0 1.15,0a0.58,0.58 0 1,0 -1.15,0M246.5,136.2a0.63,0.63 0 1,0 1.25,0a0.63,0.63 0 1,0 -1.25,0M162.4,131.0a0.41,0.41 0 1,0 0.82,0a0.41,0.41 0 1,0 -0.82,0M188.3,155.0a0.36,0.36 0 1,0 0.71,0a0.36,0.36 0 1,0 -0.71,0M181.2,167.1a0.42,0.42 0 1,0 0.84,0a0.42,0.42 0 1,0 -0.84,0M155.6,179.5a0.52,0.52 0 1,0 1.03,0a0.52,0.52 0 1,0 -1.03,0M142.8,144.0a0.36,0.36 0 1,0 0.72,0a0.36,0.36 0 1,0 -0.72,0M160.0,158.1a0.56,0.56 0 1,0 1.12,0a0.56,0.56 0 1,0 -1.12,0M191.6,139.2a0.52,0.52 0 1,0 1.05,0a0.52,0.52 0 1,0 -1.05,0M195.5,104.5a0.61,0.61 0 1,0 1.21,0a0.61,0.61 0 1,0 -1.21,0M233.0,131.4a0.46,0.46 0 1,0 0.92,0a0.46,0.46 0 1,0 -0.92,0M213.8,135.6a0.47,0.47 0 1,0 0.93,0a0.47,0.47 0 1,0 -0.93,0M245.8,172.0a0.36,0.36 0 1,0 0.72,0a0.36,0.36 0 1,0 -0.72,0M161.0,161.9a0.68,0.68 0 1,0 1.37,0a0.68,0.68 0 1,0 -1.37,0M228.3,120.9a0.32,0.32 0 1,0 0.65,0a0.32,0.32 0 1,0 -0.65,0M239.7,174.1a0.60,0.60 0 1,0 1.21,0a0.60,0.60 0 1,0 -1.21,0M228.8,177.7a0.51,0.51 0 1,0 1.02,0a0.51,0.51 0 1,0 -1.02,0M252.3,118.0a0.33,0.33 0 1,0 0.66,0a0.33,0.33 0 1,0 -0.66,0M241.1,154.7a0.62,0.62 0 1,0 1.24,0a0.62,0.62 0 1,0 -1.24,0M156.1,121.2a0.53,0.53 0 1,0 1.07,0a0.53,0.53 0 1,0 -1.07,0M148.2,123.6a0.54,0.54 0 1,0 1.08,0a0.54,0.54 0 1,0 -1.08,0M253.0,156.4a0.46,0.46 0 1,0 0.92,0a0.46,0.46 0 1,0 -0.92,0M189.4,139.1a0.60,0.60 0 1,0 1.19,0a0.60,0.60 0 1,0 -1.19,0M259.8,96.9a0.67,0.67 0 1,0 1.34,0a0.67,0.67 0 1,0 -1.34,0M236.9,99.8a0.40,0.40 0 1,0 0.81,0a0.40,0.40 0 1,0 -0.81,0M173.5,114.1a0.36,0.36 0 1,0 0.73,0a0.36,0.36 0 1,0 -0.73,0M156.9,152.8a0.48,0.48 0 1,0 0.95,0a0.48,0.48 0 1,0 -0.95,0M153.2,166.8a0.63,0.63 0 1,0 1.27,0a0.63,0.63 0 1,0 -1.27,0M171.6,165.7a0.61,0.61 0 1,0 1.22,0a0.61,0.61 0 1,0 -1.22,0M204.0,103.4a0.58,0.58 0 1,0 1.17,0a0.58,0.58 0 1,0 -1.17,0M245.3,170.5a0.68,0.68 0 1,0 1.36,0a0.68,0.68 0 1,0 -1.36,0M160.1,178.0a0.34,0.34 0 1,0 0.67,0a0.34,0.34 0 1,0 -0.67,0M184.1,141.3a0.56,0.56 0 1,0 1.11,0a0.56,0.56 0 1,0 -1.11,0M203.9,172.2a0.61,0.61 0 1,0 1.22,0a0.61,0.61 0 1,0 -1.22,0M243.6,152.8a0.48,0.48 0 1,0 0.96,0a0.48,0.48 0 1,0 -0.96,0M142.8,150.3a0.67,0.67 0 1,0 1.35,0a0.67,0.67 0 1,0 -1.35,0M163.5,179.7a0.31,0.31 0 1,0 0.61,0a0.31,0.31 0 1,0 -0.61,0M188.1,159.1a0.59,0.59 0 1,0 1.17,0a0.59,0.59 0 1,0 -1.17,0M209.9,119.6a0.40,0.40 0 1,0 0.80,0a0.40,0.40 0 1,0 -0.80,0M157.5,150.2a0.31,0.31 0 1,0 0.61,0a0.31,0.31 0 1,0 -0.61,0M156.0,156.2a0.48,0.48 0 1,0 0.96,0a0.48,0.48 0 1,0 -0.96,0M142.4,131.6a0.67,0.67 0 1,0 1.34,0a0.67,0.67 0 1,0 -1.34,0M202.1,118.6a0.35,0.35 0 1,0 0.71,0a0.35,0.35 0 1,0 -0.71,0M200.5,116.4a0.41,0.41 0 1,0 0.82,0a0.41,0.41 0 1,0 -0.82,0M147.7,146.9a0.62,0.62 0 1,0 1.23,0a0.62,0.62 0 1,0 -1.23,0M201.4,147.4a0.42,0.42 0 1,0 0.83,0a0.42,0.42 0 1,0 -0.83,0M259.4,120.1a0.67,0.67 0 1,0 1.33,0a0.67,0.67 0 1,0 -1.33,0M142.1,151.5a0.65,0.65 0 1,0 1.30,0a0.65,0.65 0 1,0 -1.30,0M208.9,114.1a0.37,0.37 0 1,0 0.73,0a0.37,0.37 0 1,0 -0.73,0M259.2,179.4a0.39,0.39 0 1,0 0.79,0a0.39,0.39 0 1,0 -0.79,0M189.8,165.6a0.65,0.65 0 1,0 1.29,0a0.65,0.65 0 1,0 -1.29,0M144.1,141.8a0.40,0.40 0 1,0 0.80,0a0.40,0.40 0 1,0 -0.80,0M150.5,154.2a0.49,0.49 0 1,0 0.99,0a0.49,0.49 0 1,0 -0.99,0M165.6,159.8a0.43,0.43 0 1,0 0.86,0a0.43,0.43 0 1,0 -0.86,0M172.2,121.1a0.38,0.38 0 1,0 0.76,0a0.38,0.38 0 1,0 -0.76,0M241.5,123.7a0.67,0.67 0 1,0 1.35,0a0.67,0.67 0 1,0 -1.35,0M222.8,141.3a0.66,0.66 0 1,0 1.32,0a0.66,0.66 0 1,0 -1.32,0M185.2,99.0a0.56,0.56 0 1,0 1.12,0a0.56,0.56 0 1,0 -1.12,0M147.9,173.9a0.69,0.69 0 1,0 1.38,0a0.69,0.69 0 1,0 -1.38,0M187.3,103.5a0.68,0.68 0 1,0 1.37,0a0.68,0.68 0 1,0 -1.37,0M171.5,177.2a0.49,0.49 0 1,0 0.98,0a0.49,0.49 0 1,0 -0.98,0M246.9,169.4a0.36,0.36 0 1,0 0.72,0a0.36,0.36 0 1,0 -0.72,0M180.7,132.2a0.38,0.38 0 1,0 0.76,0a0.38,0.38 0 1,0 -0.76,0M252.1,113.6a0.39,0.39 0 1,0 0.79,0a0.39,0.39 0 1,0 -0.79,0M162.3,108.7a0.63,0.63 0 1,0 1.25,0a0.63,0.63 0 1,0 -1.25,0M165.0,145.5a0.35,0.35 0 1,0 0.70,0a0.35,0.35 0 1,0 -0.70,0M237.7,161.9a0.68,0.68 0 1,0 1.35,0a0.68,0.68 0 1,0 -1.35,0" fill="#fff" fill-opacity="0.55" clip-path="url(#ca4)"/>
<path d="M221.8,161.9a0.46,0.46 0 1,0 0.91,0a0.46,0.46 0 1,0 -0.91,0M201.8,129.1a0.60,0.60 0 1,0 1.20,0a0.60,0.60 0 1,0 -1.20,0M175.3,108.5a0.38,0.38 0 1,0 0.76,0a0.38,0.38 0 1,0 -0.76,0M171.9,123.5a0.38,0.38 0 1,0 0.76,0a0.38,0.38 0 1,0 -0.76,0M153.5,123.3a0.39,0.39 0 1,0 0.79,0a0.39,0.39 0 1,0 -0.79,0M209.0,112.9a0.32,0.32 0 1,0 0.64,0a0.32,0.32 0 1,0 -0.64,0M164.9,141.6a0.42,0.42 0 1,0 0.83,0a0.42,0.42 0 1,0 -0.83,0M228.6,163.5a0.42,0.42 0 1,0 0.85,0a0.42,0.42 0 1,0 -0.85,0M152.4,157.2a0.53,0.53 0 1,0 1.05,0a0.53,0.53 0 1,0 -1.05,0M188.1,151.3a0.39,0.39 0 1,0 0.78,0a0.39,0.39 0 1,0 -0.78,0M250.2,166.0a0.54,0.54 0 1,0 1.08,0a0.54,0.54 0 1,0 -1.08,0M255.0,115.6a0.46,0.46 0 1,0 0.93,0a0.46,0.46 0 1,0 -0.93,0M228.3,163.3a0.42,0.42 0 1,0 0.83,0a0.42,0.42 0 1,0 -0.83,0M157.3,148.6a0.33,0.33 0 1,0 0.66,0a0.33,0.33 0 1,0 -0.66,0M225.2,96.6a0.44,0.44 0 1,0 0.87,0a0.44,0.44 0 1,0 -0.87,0M198.1,106.1a0.44,0.44 0 1,0 0.89,0a0.44,0.44 0 1,0 -0.89,0M200.4,127.0a0.57,0.57 0 1,0 1.14,0a0.57,0.57 0 1,0 -1.14,0M244.6,170.8a0.37,0.37 0 1,0 0.75,0a0.37,0.37 0 1,0 -0.75,0M143.8,127.6a0.33,0.33 0 1,0 0.67,0a0.33,0.33 0 1,0 -0.67,0M225.3,118.1a0.34,0.34 0 1,0 0.68,0a0.34,0.34 0 1,0 -0.68,0M174.5,129.9a0.52,0.52 0 1,0 1.04,0a0.52,0.52 0 1,0 -1.04,0M195.8,121.3a0.50,0.50 0 1,0 1.01,0a0.50,0.50 0 1,0 -1.01,0M145.9,113.6a0.51,0.51 0 1,0 1.01,0a0.51,0.51 0 1,0 -1.01,0M230.9,104.5a0.32,0.32 0 1,0 0.64,0a0.32,0.32 0 1,0 -0.64,0M201.4,151.1a0.30,0.30 0 1,0 0.61,0a0.30,0.30 0 1,0 -0.61,0" fill="#000" fill-opacity="0.35" clip-path="url(#ca4)"/>
<polyline points="188.2,96 188.2,146.3 261,146.3" fill="none" stroke="#fff" stroke-width="1.3"/>
<text x="143.3" y="109.6" font-family='"Liberation Serif", serif' font-size="16" fill="#fff" stroke="#fff" stroke-width="0.3">(a4)</text>
<text x="252" y="136.3" font-family='"Liberation Serif", serif' font-size="10" fill="#fff" stroke="#fff" stroke-width="0.25" text-anchor="end">4 μm</text>
<rect x="226" y="141.8" width="31.5" height="1.6" fill="#fff"/>
<text x="250.5" y="170.3" font-family='"Liberation Serif", serif' font-size="11" fill="#fff" stroke="#fff" stroke-width="0.3" text-anchor="end" textLength="30.5" lengthAdjust="spacingAndGlyphs">20 μm</text>
<rect x="214.5" y="174.7" width="42" height="1.8" fill="#fff"/>
<g clip-path="url(#ca5)"><rect x="218.0" y="28.0" width="220" height="220" filter="url(#fa5)" transform="rotate(-12 328.0 138.0)"/></g>
<path d="M259.4,102.3L285.1,96.9M271.0,102.0L292.3,97.5M306.7,110.2L325.6,106.2M371.2,100.9L383.3,98.3M255.5,111.9L264.5,110.0M378.4,122.8L417.2,114.6M263.3,182.4L286.0,177.6M348.0,156.5L362.9,153.3M284.4,157.8L294.6,155.6M244.4,169.1L271.4,163.3M275.4,144.0L311.5,136.3M286.3,101.0L306.0,96.8M276.6,125.0L283.6,123.5M356.8,171.8L375.1,167.9M291.6,116.8L329.2,108.8M376.6,156.1L388.2,153.6M274.7,167.1L286.9,164.5M351.7,130.5L358.6,129.1M276.2,182.8L292.8,179.2M343.6,167.2L362.7,163.2M312.9,178.7L342.9,172.3M320.6,144.9L341.4,140.4M310.4,157.3L324.4,154.3M373.9,118.1L387.4,115.2M385.1,89.6L404.5,85.5M318.8,135.3L352.3,128.2M350.0,139.1L356.0,137.8M388.9,125.9L406.7,122.1M283.0,107.4L292.3,105.4M267.1,157.6L282.8,154.3M325.4,154.7L333.7,153.0M349.1,109.7L381.8,102.7M375.6,134.7L392.1,131.2M309.6,183.7L348.1,175.5M349.5,129.7L368.7,125.7M340.3,123.7L372.4,116.9M293.7,148.4L316.8,143.4M313.9,177.3L349.4,169.8M358.9,155.0L378.0,151.0M295.4,137.6L329.5,130.3M355.0,97.0L368.9,94.0M248.2,121.2L281.6,114.1M330.8,91.6L361.6,85.0M341.3,136.3L348.2,134.8M240.9,97.1L275.9,89.7M298.4,95.5L331.3,88.5M316.2,123.6L335.1,119.6M269.8,93.0L301.9,86.2M370.7,125.1L395.7,119.8M361.6,92.7L400.7,84.4M268.7,125.6L276.6,123.9M277.8,104.1L292.2,101.1M309.8,154.6L332.2,149.8M355.8,185.7L369.1,182.9M301.4,148.1L314.1,145.4M250.1,174.8L273.0,170.0M302.1,154.8L317.1,151.6M299.5,103.7L319.6,99.4M284.3,146.9L319.3,139.5M356.3,157.3L381.7,152.0M361.5,107.2L399.0,99.2M268.0,179.9L290.3,175.1M353.8,188.4L360.9,186.9M293.7,100.7L309.9,97.3M275.3,158.2L309.1,151.0M288.4,129.6L298.2,127.5M263.9,103.7L271.8,102.0M362.8,119.6L391.4,113.5M355.8,113.3L376.8,108.8M333.2,136.0L359.7,130.4" stroke="#fff" stroke-opacity="0.35" stroke-width="0.6" fill="none" clip-path="url(#ca5)"/>
<path d="M322.1,124.7L347.8,119.2M290.6,140.6L304.5,137.6M311.7,188.2L320.0,186.4M313.0,110.9L327.1,107.9M389.8,122.4L409.9,118.1M308.2,163.7L324.6,160.2M272.8,132.8L288.3,129.5M364.9,145.6L375.4,143.4M344.1,118.9L362.0,115.1M275.5,131.3L299.8,126.1M318.4,166.8L342.1,161.7M332.9,154.7L348.1,151.5M340.9,167.7L349.1,166.0M386.5,125.2L395.6,123.2M273.9,122.2L281.3,120.6M302.7,131.4L323.9,126.9M312.5,185.5L333.9,181.0M291.1,179.4L313.4,174.6M381.0,165.4L409.6,159.3M271.2,118.0L299.9,111.9M245.5,185.0L272.8,179.2M261.9,104.6L289.3,98.8M382.8,178.9L405.6,174.0M362.4,118.7L368.4,117.4M332.3,180.7L360.5,174.8M325.2,87.9L335.1,85.8M317.4,110.7L323.9,109.3M279.3,138.9L288.2,137.0M268.9,103.9L275.6,102.5M363.5,177.2L374.1,174.9" stroke="#000" stroke-opacity="0.18" stroke-width="0.8" fill="none" clip-path="url(#ca5)"/>
<path d="M332.5,120.3a0.31,0.31 0 1,0 0.62,0a0.31,0.31 0 1,0 -0.62,0M346.6,113.6a0.40,0.40 0 1,0 0.81,0a0.40,0.40 0 1,0 -0.81,0M314.6,149.9a0.70,0.70 0 1,0 1.39,0a0.70,0.70 0 1,0 -1.39,0M322.5,179.5a0.70,0.70 0 1,0 1.39,0a0.70,0.70 0 1,0 -1.39,0M295.7,102.1a0.36,0.36 0 1,0 0.73,0a0.36,0.36 0 1,0 -0.73,0M369.7,146.4a0.67,0.67 0 1,0 1.33,0a0.67,0.67 0 1,0 -1.33,0M386.0,151.0a0.51,0.51 0 1,0 1.03,0a0.51,0.51 0 1,0 -1.03,0M273.8,98.0a0.62,0.62 0 1,0 1.24,0a0.62,0.62 0 1,0 -1.24,0M348.8,160.1a0.53,0.53 0 1,0 1.05,0a0.53,0.53 0 1,0 -1.05,0M348.9,149.7a0.66,0.66 0 1,0 1.32,0a0.66,0.66 0 1,0 -1.32,0M279.4,137.5a0.42,0.42 0 1,0 0.85,0a0.42,0.42 0 1,0 -0.85,0M368.4,169.7a0.40,0.40 0 1,0 0.80,0a0.40,0.40 0 1,0 -0.80,0M275.5,116.4a0.43,0.43 0 1,0 0.85,0a0.43,0.43 0 1,0 -0.85,0M360.8,130.4a0.60,0.60 0 1,0 1.20,0a0.60,0.60 0 1,0 -1.20,0M302.9,140.0a0.37,0.37 0 1,0 0.75,0a0.37,0.37 0 1,0 -0.75,0M345.4,139.1a0.65,0.65 0 1,0 1.29,0a0.65,0.65 0 1,0 -1.29,0M383.3,139.7a0.33,0.33 0 1,0 0.65,0a0.33,0.33 0 1,0 -0.65,0M381.7,175.4a0.49,0.49 0 1,0 0.98,0a0.49,0.49 0 1,0 -0.98,0M325.8,174.3a0.40,0.40 0 1,0 0.80,0a0.40,0.40 0 1,0 -0.80,0M297.1,154.4a0.57,0.57 0 1,0 1.14,0a0.57,0.57 0 1,0 -1.14,0M350.6,165.6a0.50,0.50 0 1,0 1.01,0a0.50,0.50 0 1,0 -1.01,0M317.7,114.9a0.39,0.39 0 1,0 0.77,0a0.39,0.39 0 1,0 -0.77,0M311.3,132.3a0.60,0.60 0 1,0 1.19,0a0.60,0.60 0 1,0 -1.19,0M342.4,138.9a0.45,0.45 0 1,0 0.90,0a0.45,0.45 0 1,0 -0.90,0M342.9,128.1a0.62,0.62 0 1,0 1.24,0a0.62,0.62 0 1,0 -1.24,0M345.4,154.4a0.45,0.45 0 1,0 0.90,0a0.45,0.45 0 1,0 -0.90,0M329.5,156.6a0.68,0.68 0 1,0 1.37,0a0.68,0.68 0 1,0 -1.37,0M331.0,122.9a0.58,0.58 0 1,0 1.15,0a0.58,0.58 0 1,0 -1.15,0M280.5,124.1a0.31,0.31 0 1,0 0.63,0a0.31,0.31 0 1,0 -0.63,0M334.1,117.3a0.46,0.46 0 1,0 0.91,0a0.46,0.46 0 1,0 -0.91,0M363.3,149.4a0.31,0.31 0 1,0 0.63,0a0.31,0.31 0 1,0 -0.63,0M320.3,96.6a0.63,0.63 0 1,0 1.26,0a0.63,0.63 0 1,0 -1.26,0M327.2,167.4a0.41,0.41 0 1,0 0.81,0a0.41,0.41 0 1,0 -0.81,0M367.4,107.6a0.65,0.65 0 1,0 1.29,0a0.65,0.65 0 1,0 -1.29,0M313.7,102.2a0.67,0.67 0 1,0 1.33,0a0.67,0.67 0 1,0 -1.33,0M369.2,112.3a0.53,0.53 0 1,0 1.06,0a0.53,0.53 0 1,0 -1.06,0M324.6,108.0a0.47,0.47 0 1,0 0.94,0a0.47,0.47 0 1,0 -0.94,0M386.0,128.0a0.60,0.60 0 1,0 1.21,0a0.60,0.60 0 1,0 -1.21,0M359.7,160.6a0.54,0.54 0 1,0 1.09,0a0.54,0.54 0 1,0 -1.09,0M377.4,124.7a0.49,0.49 0 1,0 0.98,0a0.49,0.49 0 1,0 -0.98,0M321.0,104.5a0.50,0.50 0 1,0 0.99,0a0.50,0.50 0 1,0 -0.99,0M360.2,144.2a0.37,0.37 0 1,0 0.74,0a0.37,0.37 0 1,0 -0.74,0M295.8,136.7a0.34,0.34 0 1,0 0.68,0a0.34,0.34 0 1,0 -0.68,0M290.5,158.1a0.34,0.34 0 1,0 0.69,0a0.34,0.34 0 1,0 -0.69,0M279.7,109.3a0.51,0.51 0 1,0 1.01,0a0.51,0.51 0 1,0 -1.01,0M268.1,153.7a0.53,0.53 0 1,0 1.05,0a0.53,0.53 0 1,0 -1.05,0M359.6,161.1a0.59,0.59 0 1,0 1.18,0a0.59,0.59 0 1,0 -1.18,0M329.6,121.5a0.54,0.54 0 1,0 1.08,0a0.54,0.54 0 1,0 -1.08,0M284.0,115.2a0.58,0.58 0 1,0 1.16,0a0.58,0.58 0 1,0 -1.16,0M339.6,107.6a0.48,0.48 0 1,0 0.95,0a0.48,0.48 0 1,0 -0.95,0M339.7,114.7a0.56,0.56 0 1,0 1.12,0a0.56,0.56 0 1,0 -1.12,0M283.3,109.8a0.47,0.47 0 1,0 0.93,0a0.47,0.47 0 1,0 -0.93,0M301.2,156.4a0.47,0.47 0 1,0 0.93,0a0.47,0.47 0 1,0 -0.93,0M301.3,164.8a0.63,0.63 0 1,0 1.27,0a0.63,0.63 0 1,0 -1.27,0M361.4,106.1a0.41,0.41 0 1,0 0.82,0a0.41,0.41 0 1,0 -0.82,0M277.7,158.5a0.49,0.49 0 1,0 0.97,0a0.49,0.49 0 1,0 -0.97,0M277.2,174.6a0.33,0.33 0 1,0 0.66,0a0.33,0.33 0 1,0 -0.66,0M271.1,171.6a0.48,0.48 0 1,0 0.96,0a0.48,0.48 0 1,0 -0.96,0M371.7,145.4a0.35,0.35 0 1,0 0.71,0a0.35,0.35 0 1,0 -0.71,0M325.3,160.0a0.31,0.31 0 1,0 0.61,0a0.31,0.31 0 1,0 -0.61,0M361.9,125.4a0.51,0.51 0 1,0 1.01,0a0.51,0.51 0 1,0 -1.01,0M305.3,162.2a0.49,0.49 0 1,0 0.99,0a0.49,0.49 0 1,0 -0.99,0M321.4,101.3a0.59,0.59 0 1,0 1.18,0a0.59,0.59 0 1,0 -1.18,0M287.2,146.7a0.30,0.30 0 1,0 0.60,0a0.30,0.30 0 1,0 -0.60,0M279.0,148.7a0.41,0.41 0 1,0 0.83,0a0.41,0.41 0 1,0 -0.83,0M339.5,154.1a0.44,0.44 0 1,0 0.88,0a0.44,0.44 0 1,0 -0.88,0M331.8,128.7a0.32,0.32 0 1,0 0.63,0a0.32,0.32 0 1,0 -0.63,0M370.1,140.6a0.65,0.65 0 1,0 1.29,0a0.65,0.65 0 1,0 -1.29,0M345.0,149.0a0.34,0.34 0 1,0 0.69,0a0.34,0.34 0 1,0 -0.69,0M342.6,132.2a0.41,0.41 0 1,0 0.82,0a0.41,0.41 0 1,0 -0.82,0M279.7,111.1a0.33,0.33 0 1,0 0.66,0a0.33,0.33 0 1,0 -0.66,0M347.5,131.7a0.35,0.35 0 1,0 0.70,0a0.35,0.35 0 1,0 -0.70,0M335.6,169.6a0.67,0.67 0 1,0 1.34,0a0.67,0.67 0 1,0 -1.34,0M275.1,148.2a0.55,0.55 0 1,0 1.09,0a0.55,0.55 0 1,0 -1.09,0M325.0,127.3a0.49,0.49 0 1,0 0.97,0a0.49,0.49 0 1,0 -0.97,0M308.1,129.0a0.37,0.37 0 1,0 0.74,0a0.37,0.37 0 1,0 -0.74,0M351.3,167.7a0.69,0.69 0 1,0 1.38,0a0.69,0.69 0 1,0 -1.38,0M311.9,115.6a0.40,0.40 0 1,0 0.80,0a0.40,0.40 0 1,0 -0.80,0M268.2,152.2a0.36,0.36 0 1,0 0.72,0a0.36,0.36 0 1,0 -0.72,0M327.6,168.6a0.58,0.58 0 1,0 1.16,0a0.58,0.58 0 1,0 -1.16,0M343.6,160.4a0.54,0.54 0 1,0 1.09,0a0.54,0.54 0 1,0 -1.09,0M367.8,147.3a0.39,0.39 0 1,0 0.78,0a0.39,0.39 0 1,0 -0.78,0M274.4,174.8a0.35,0.35 0 1,0 0.69,0a0.35,0.35 0 1,0 -0.69,0M331.4,169.6a0.64,0.64 0 1,0 1.27,0a0.64,0.64 0 1,0 -1.27,0M359.5,100.0a0.31,0.31 0 1,0 0.63,0a0.31,0.31 0 1,0 -0.63,0M330.3,104.3a0.39,0.39 0 1,0 0.78,0a0.39,0.39 0 1,0 -0.78,0M297.0,163.1a0.63,0.63 0 1,0 1.25,0a0.63,0.63 0 1,0 -1.25,0M364.3,169.9a0.65,0.65 0 1,0 1.30,0a0.65,0.65 0 1,0 -1.30,0M288.1,179.8a0.44,0.44 0 1,0 0.88,0a0.44,0.44 0 1,0 -0.88,0M353.3,162.2a0.39,0.39 0 1,0 0.78,0a0.39,0.39 0 1,0 -0.78,0" fill="#fff" fill-opacity="0.55" clip-path="url(#ca5)"/>
<path d="M267.1,105.4a0.42,0.42 0 1,0 0.84,0a0.42,0.42 0 1,0 -0.84,0M350.5,107.7a0.33,0.33 0 1,0 0.67,0a0.33,0.33 0 1,0 -0.67,0M294.4,159.6a0.34,0.34 0 1,0 0.69,0a0.34,0.34 0 1,0 -0.69,0M357.5,151.6a0.34,0.34 0 1,0 0.68,0a0.34,0.34 0 1,0 -0.68,0M332.0,133.6a0.42,0.42 0 1,0 0.85,0a0.42,0.42 0 1,0 -0.85,0M389.2,103.8a0.31,0.31 0 1,0 0.61,0a0.31,0.31 0 1,0 -0.61,0M382.2,129.8a0.36,0.36 0 1,0 0.72,0a0.36,0.36 0 1,0 -0.72,0M306.4,126.7a0.59,0.59 0 1,0 1.17,0a0.59,0.59 0 1,0 -1.17,0M291.6,114.2a0.48,0.48 0 1,0 0.95,0a0.48,0.48 0 1,0 -0.95,0M333.3,176.1a0.55,0.55 0 1,0 1.10,0a0.55,0.55 0 1,0 -1.10,0M309.5,113.1a0.55,0.55 0 1,0 1.10,0a0.55,0.55 0 1,0 -1.10,0M388.1,98.6a0.52,0.52 0 1,0 1.04,0a0.52,0.52 0 1,0 -1.04,0M373.3,150.7a0.37,0.37 0 1,0 0.73,0a0.37,0.37 0 1,0 -0.73,0M364.4,157.3a0.36,0.36 0 1,0 0.72,0a0.36,0.36 0 1,0 -0.72,0M345.2,114.4a0.31,0.31 0 1,0 0.62,0a0.31,0.31 0 1,0 -0.62,0M307.2,124.1a0.42,0.42 0 1,0 0.84,0a0.42,0.42 0 1,0 -0.84,0M345.6,166.2a0.59,0.59 0 1,0 1.18,0a0.59,0.59 0 1,0 -1.18,0M386.5,179.5a0.54,0.54 0 1,0 1.07,0a0.54,0.54 0 1,0 -1.07,0M303.5,110.8a0.49,0.49 0 1,0 0.97,0a0.49,0.49 0 1,0 -0.97,0M333.4,152.7a0.33,0.33 0 1,0 0.66,0a0.33,0.33 0 1,0 -0.66,0M289.4,173.4a0.48,0.48 0 1,0 0.96,0a0.48,0.48 0 1,0 -0.96,0M351.8,104.0a0.42,0.42 0 1,0 0.84,0a0.42,0.42 0 1,0 -0.84,0M378.3,150.5a0.60,0.60 0 1,0 1.19,0a0.60,0.60 0 1,0 -1.19,0M289.9,134.2a0.54,0.54 0 1,0 1.08,0a0.54,0.54 0 1,0 -1.08,0M320.7,162.3a0.47,0.47 0 1,0 0.94,0a0.47,0.47 0 1,0 -0.94,0" fill="#000" fill-opacity="0.35" clip-path="url(#ca5)"/>
<polyline points="316.3,96 316.3,146 390,146" fill="none" stroke="#fff" stroke-width="1.3"/>
<text x="268.3" y="109.6" font-family='"Liberation Serif", serif' font-size="16" fill="#fff" stroke="#fff" stroke-width="0.3">(a5)</text>
<text x="381" y="136" font-family='"Liberation Serif", serif' font-size="10" fill="#fff" stroke="#fff" stroke-width="0.25" text-anchor="end">4 μm</text>
<rect x="355" y="141.5" width="31.5" height="1.6" fill="#fff"/>
<text x="379.5" y="170.3" font-family='"Liberation Serif", serif' font-size="11" fill="#fff" stroke="#fff" stroke-width="0.3" text-anchor="end" textLength="30.5" lengthAdjust="spacingAndGlyphs">20 μm</text>
<rect x="343.5" y="174.7" width="42" height="1.8" fill="#fff"/>
<ellipse cx="298" cy="19.5" rx="2.2" ry="1.8" fill="#fff" fill-opacity="0.36" stroke="#fff" stroke-opacity="0.6" stroke-width="0.7"/>
<ellipse cx="271.5" cy="156" rx="3.5" ry="2.5" fill="#fff" fill-opacity="0.15" stroke="#fff" stroke-opacity="0.6" stroke-width="0.7"/>
<ellipse cx="295" cy="144" rx="4" ry="1.6" fill="#fff" fill-opacity="0.18" stroke="#fff" stroke-opacity="0.6" stroke-width="0.7"/>
<ellipse cx="326" cy="158.3" rx="2.5" ry="1.3" fill="#fff" fill-opacity="0.21" stroke="#fff" stroke-opacity="0.6" stroke-width="0.7"/>
<ellipse cx="358.5" cy="151.7" rx="6.5" ry="3.6" fill="#fff" fill-opacity="0.12" stroke="#fff" stroke-opacity="0.6" stroke-width="0.7"/>
<ellipse cx="303" cy="166.8" rx="2.5" ry="1.8" fill="#fff" fill-opacity="0.18" stroke="#fff" stroke-opacity="0.6" stroke-width="0.7"/>
<ellipse cx="285" cy="174.5" rx="2.5" ry="2" fill="#fff" fill-opacity="0.15" stroke="#fff" stroke-opacity="0.6" stroke-width="0.7"/>
<ellipse cx="270" cy="128" rx="4" ry="1.2" fill="#fff" fill-opacity="0.18" stroke="#fff" stroke-opacity="0.6" stroke-width="0.7"/>
<circle cx="284.7" cy="31.1" r="1.8" fill="#222" stroke="#ddd" stroke-width="0.8"/>
<circle cx="88.9" cy="106.2" r="3" fill="none" stroke="#d03030" stroke-width="0.8"/>
<circle cx="114" cy="99" r="3" fill="none" stroke="#d03030" stroke-width="0.8"/>
<circle cx="122.3" cy="101.8" r="3" fill="none" stroke="#d03030" stroke-width="0.8"/>
<circle cx="115.7" cy="116.1" r="3" fill="none" stroke="#d03030" stroke-width="0.8"/>
<circle cx="91.2" cy="129" r="3" fill="none" stroke="#d03030" stroke-width="0.8"/>
<line x1="472.6" y1="5.5" x2="472.6" y2="156.8" stroke="#000" stroke-width="1"/>
<line x1="472.1" y1="156.3" x2="677.8" y2="156.3" stroke="#000" stroke-width="1"/>
<line x1="472.6" y1="156.3" x2="472.6" y2="153.3" stroke="#000" stroke-width="0.8"/>
<line x1="487.3" y1="156.3" x2="487.3" y2="154.3" stroke="#000" stroke-width="0.8"/>
<line x1="501.9" y1="156.3" x2="501.9" y2="153.3" stroke="#000" stroke-width="0.8"/>
<line x1="516.6" y1="156.3" x2="516.6" y2="154.3" stroke="#000" stroke-width="0.8"/>
<line x1="531.2" y1="156.3" x2="531.2" y2="153.3" stroke="#000" stroke-width="0.8"/>
<line x1="545.9" y1="156.3" x2="545.9" y2="154.3" stroke="#000" stroke-width="0.8"/>
<line x1="560.5" y1="156.3" x2="560.5" y2="153.3" stroke="#000" stroke-width="0.8"/>
<line x1="575.2" y1="156.3" x2="575.2" y2="154.3" stroke="#000" stroke-width="0.8"/>
<line x1="589.8" y1="156.3" x2="589.8" y2="153.3" stroke="#000" stroke-width="0.8"/>
<line x1="604.5" y1="156.3" x2="604.5" y2="154.3" stroke="#000" stroke-width="0.8"/>
<line x1="619.1" y1="156.3" x2="619.1" y2="153.3" stroke="#000" stroke-width="0.8"/>
<line x1="633.8" y1="156.3" x2="633.8" y2="154.3" stroke="#000" stroke-width="0.8"/>
<line x1="648.5" y1="156.3" x2="648.5" y2="153.3" stroke="#000" stroke-width="0.8"/>
<line x1="663.1" y1="156.3" x2="663.1" y2="154.3" stroke="#000" stroke-width="0.8"/>
<line x1="677.8" y1="156.3" x2="677.8" y2="153.3" stroke="#000" stroke-width="0.8"/>
<text x="472.6" y="165.8" font-family='"Liberation Sans", sans-serif' font-size="7.4" font-weight="bold" fill="#111" text-anchor="middle"  >4000</text>
<text x="501.9" y="165.8" font-family='"Liberation Sans", sans-serif' font-size="7.4" font-weight="bold" fill="#111" text-anchor="middle"  >3500</text>
<text x="531.2" y="165.8" font-family='"Liberation Sans", sans-serif' font-size="7.4" font-weight="bold" fill="#111" text-anchor="middle"  >3000</text>
<text x="560.5" y="165.8" font-family='"Liberation Sans", sans-serif' font-size="7.4" font-weight="bold" fill="#111" text-anchor="middle"  >2500</text>
<text x="589.8" y="165.8" font-family='"Liberation Sans", sans-serif' font-size="7.4" font-weight="bold" fill="#111" text-anchor="middle"  >2000</text>
<text x="619.1" y="165.8" font-family='"Liberation Sans", sans-serif' font-size="7.4" font-weight="bold" fill="#111" text-anchor="middle"  >1500</text>
<text x="648.5" y="165.8" font-family='"Liberation Sans", sans-serif' font-size="7.4" font-weight="bold" fill="#111" text-anchor="middle"  >1000</text>
<text x="677.8" y="165.8" font-family='"Liberation Sans", sans-serif' font-size="7.4" font-weight="bold" fill="#111" text-anchor="middle"  >500</text>
<text x="586.0" y="177.3" font-family='"Liberation Serif", serif' font-size="10.3" font-weight="bold" fill="#000" text-anchor="middle"  >Wavenumber[1/cm]</text>
<text x="455.0" y="72.6" font-family='"Liberation Serif", serif' font-size="12.4" font-weight="bold" fill="#000" text-anchor="middle" dominant-baseline="central" transform="rotate(-90 455.0 72.6)">Absorbance</text>
<polyline points="473.0,13.5 500.0,13.6 525.0,13.5 529.0,13.6 532.0,15.2 534.5,16.9 536.0,17.2 537.5,16.4 539.0,16.0 540.5,15.0 542.5,13.8 545.0,13.4 580.0,13.5 604.0,13.5 606.0,16.0 608.0,14.0 619.0,13.2 622.0,16.0 624.0,14.0 628.0,13.9 640.0,14.2 650.0,14.5 659.6,15.2 667.0,18.0 672.0,20.0 677.7,22.6" fill="none" stroke="#1a1a1a" stroke-width="1.0" stroke-linejoin="round" />
<polyline points="473.0,30.7 473.5,30.7 474.0,30.7 474.5,30.8 475.0,30.8 475.5,30.8 476.0,30.8 476.5,30.8 477.0,30.8 477.5,30.9 478.0,30.9 478.5,30.9 479.0,30.9 479.5,30.9 480.0,31.0 480.5,31.0 481.0,31.0 481.5,31.0 482.0,31.1 482.5,31.1 483.0,31.1 483.5,31.2 484.0,31.2 484.6,31.3 485.1,31.4 485.7,31.5 486.3,31.7 486.8,31.8 487.4,31.8 487.9,31.8 488.4,31.6 488.9,31.5 489.5,31.3 490.0,31.2 490.5,31.1 491.0,31.0 491.5,31.0 492.0,31.0 492.5,31.0 493.0,31.0 493.5,31.0 494.0,31.0 494.5,30.9 495.0,30.9 495.5,30.9 496.0,30.9 496.5,30.9 497.0,30.9 497.5,30.9 498.0,30.9 498.5,30.9 499.0,30.9 499.5,30.9 500.0,30.9 500.5,30.9 501.0,30.9 501.5,30.9 502.0,30.9 502.5,30.9 503.0,30.9 503.5,30.9 504.0,30.9 504.5,30.9 505.0,30.9 505.5,30.9 506.0,30.9 506.5,30.9 507.0,30.9 507.5,30.8 508.0,30.8 508.5,30.8 509.0,30.8 509.5,30.8 510.0,30.8 510.5,30.8 511.0,30.8 511.5,30.8 512.0,30.8 512.5,30.8 513.0,30.8 513.5,30.8 514.0,30.8 514.5,30.8 515.0,30.8 515.5,30.8 516.0,30.8 516.5,30.8 517.0,30.8 517.5,30.8 518.0,30.8 518.5,30.8 519.0,30.8 519.5,30.8 520.0,30.8 520.5,30.8 521.0,30.8 521.5,30.8 522.0,30.8 522.5,30.8 523.0,30.8 523.5,30.8 524.0,30.8 524.5,30.8 525.0,30.8 525.5,30.8 526.0,30.8 526.5,30.8 527.0,30.8 527.5,30.8 528.0,30.7 528.5,30.7 529.0,30.7 529.5,30.7 530.0,30.7 530.5,30.7 531.0,30.7 531.5,30.7 532.0,30.7 532.5,30.7 533.0,30.7 533.5,30.7 534.0,30.7 534.5,30.7 535.0,30.7 535.5,30.7 536.0,30.7 536.5,30.7 537.0,30.7 537.5,30.7 538.0,30.7 538.5,30.7 539.0,30.7 539.5,30.7 540.0,30.7 540.5,30.7 541.0,30.7 541.5,30.7 542.0,30.7 542.5,30.7 543.0,30.6 543.5,30.6 544.0,30.6 544.5,30.6 545.0,30.6 545.5,30.6 546.0,30.6 546.5,30.6 547.0,30.6 547.5,30.6 548.0,30.6 548.5,30.6 549.0,30.6 549.5,30.6 550.0,30.6 550.5,30.6 551.0,30.6 551.5,30.6 552.0,30.6 552.5,30.6 553.0,30.6 553.5,30.6 554.0,30.6 554.5,30.6 555.0,30.6 555.5,30.6 556.0,30.6 556.5,30.6 557.0,30.6 557.5,30.6 558.0,30.6 558.5,30.6 559.0,30.6 559.5,30.6 560.0,30.6 560.5,30.5 561.0,30.5 561.5,30.5 562.0,30.5 562.5,30.5 563.0,30.5 563.5,30.5 564.0,30.5 564.5,30.5 565.0,30.5 565.5,30.5 566.0,30.5 566.5,30.5 567.0,30.5 567.5,30.5 568.0,30.5 568.5,30.5 569.0,30.5 569.5,30.5 570.0,30.5 570.5,30.5 571.0,30.5 571.5,30.5 572.0,30.5 572.5,30.5 573.0,30.5 573.5,30.5 574.0,30.5 574.5,30.5 575.0,30.5 575.5,30.5 576.0,30.5 576.5,30.5 577.0,30.5 577.5,30.5 578.0,30.5 578.5,30.5 579.0,30.5 579.5,30.5 580.0,30.5 580.5,30.5 581.0,30.5 581.5,30.5 582.0,30.5 582.5,30.5 583.0,30.5 583.5,30.5 584.0,30.5 584.5,30.5 585.0,30.5 585.6,30.5 586.1,30.5 586.6,30.5 587.1,30.5 587.6,30.6 588.1,30.6 588.6,30.6 589.1,30.6 589.6,30.6 590.1,30.6 590.6,30.6 591.1,30.6 591.6,30.6 592.1,30.6 592.6,30.6 593.1,30.6 593.6,30.7 594.1,30.7 594.6,30.7 595.1,30.7 595.6,30.7 596.1,30.7 596.7,30.7 597.2,30.7 597.7,30.8 598.2,30.8 598.7,30.8 599.2,30.8 599.7,30.8 600.2,30.8 600.7,30.8 601.2,30.9 601.7,30.9 602.2,30.9 602.7,30.9 603.2,30.9 603.7,30.9 604.2,31.0 604.7,31.0 605.2,31.0 605.7,31.0 606.2,31.0 606.7,31.1 607.3,31.1 607.8,31.1 608.3,31.1 608.8,31.1 609.3,31.2 609.8,31.2 610.3,31.2 610.8,31.2 611.3,31.2 611.8,31.3 612.3,31.3 612.8,31.3 613.3,31.3 613.8,31.3 614.3,31.4 614.8,31.4 615.3,31.4 615.8,31.4 616.3,31.5 616.8,31.5 617.3,31.5 617.8,31.5 618.4,31.6 618.9,31.6 619.4,31.6 619.9,31.6 620.4,31.7 620.9,31.7 621.4,31.7 621.9,31.7 622.4,31.8 622.9,31.8 623.4,31.8 623.9,31.8 624.4,31.9 624.9,31.9 625.4,31.9 625.9,31.9 626.4,32.0 626.9,32.0 627.4,32.0 627.9,32.1 628.4,32.1 628.9,32.1 629.4,32.2 629.9,32.2 630.4,32.2 630.9,32.3 631.4,32.3 631.9,32.4 632.4,32.4 632.9,32.4 633.4,32.5 633.9,32.5 634.4,32.6 634.9,32.6 635.4,32.7 636.0,32.7 636.5,32.8 637.0,32.9 637.5,32.9 638.0,33.0 638.5,33.0 639.0,33.1 639.5,33.2 640.0,33.2 640.5,33.3 641.0,33.4 641.5,33.4 642.0,33.5 642.5,33.6 643.0,33.6 643.5,33.7 644.0,33.8 644.5,33.9 645.0,34.0 645.5,34.0 646.0,34.1 646.5,34.2 647.0,34.3 647.5,34.4 648.0,34.5 648.5,34.6 649.0,34.8 649.5,34.9 650.0,35.1 650.5,35.3 651.0,35.6 651.5,35.8 652.0,36.0 652.5,36.2 653.0,36.5 653.5,36.7 654.0,36.9 654.5,37.1 655.0,37.2 655.5,37.3 656.0,37.4 656.5,37.6 657.0,37.7 657.5,37.8 658.0,37.9 658.5,37.9 659.0,38.0 659.5,38.1 660.0,38.2 660.5,38.3 661.0,38.3 661.5,38.4 662.0,38.5 662.5,38.6 663.0,38.7 663.5,38.8 664.0,38.8 664.5,38.9 665.0,39.0 665.5,39.1 666.0,39.3 666.5,39.4 667.0,39.5 667.5,39.6 668.0,39.8 668.5,40.0 669.0,40.1 669.5,40.3 670.1,40.5 670.6,40.8 671.1,41.0 671.6,41.2 672.1,41.4 672.6,41.7 673.1,41.9 673.6,42.1 674.1,42.4 674.6,42.6 675.2,42.9 675.7,43.1 676.2,43.3 676.7,43.6 677.2,43.8 677.7,44.0" fill="none" stroke="#ff1a1a" stroke-width="1.1" stroke-linejoin="round" />
<polyline points="473.0,49.7 473.5,49.7 474.0,49.7 474.5,49.7 475.0,49.7 475.5,49.7 476.0,49.6 476.5,49.6 477.0,49.6 477.5,49.6 478.1,49.6 478.6,49.6 479.1,49.6 479.6,49.6 480.1,49.6 480.6,49.5 481.1,49.5 481.6,49.5 482.1,49.5 482.6,49.5 483.1,49.5 483.6,49.5 484.1,49.5 484.6,49.5 485.1,49.5 485.6,49.5 486.1,49.4 486.6,49.4 487.2,49.4 487.7,49.4 488.2,49.4 488.7,49.4 489.2,49.4 489.7,49.4 490.2,49.4 490.7,49.4 491.2,49.4 491.7,49.4 492.2,49.4 492.7,49.4 493.3,49.5 493.8,49.5 494.3,49.6 494.8,49.7 495.3,49.8 495.9,49.9 496.4,50.0 496.9,50.2 497.4,50.3 497.9,50.4 498.4,50.6 499.0,50.7 499.5,50.9 500.0,51.0 500.5,51.2 501.0,51.3 501.5,51.5 502.0,51.7 502.5,52.0 503.0,52.2 503.5,52.5 504.0,52.7 504.5,53.0 505.0,53.3 505.5,53.6 506.0,53.9 506.5,54.2 507.0,54.4 507.5,54.7 508.0,55.0 508.5,55.3 509.1,55.7 509.6,56.1 510.1,56.5 510.7,56.9 511.2,57.3 511.7,57.7 512.2,58.1 512.8,58.4 513.3,58.7 513.8,58.9 514.4,59.1 514.9,59.1 515.4,59.0 515.9,58.8 516.4,58.6 516.9,58.2 517.5,57.8 518.0,57.4 518.5,57.0 519.0,56.6 519.5,56.3 520.0,56.0 520.5,55.8 521.1,55.6 521.6,55.4 522.1,55.2 522.6,55.1 523.2,54.9 523.7,54.8 524.2,54.6 524.7,54.5 525.3,54.4 525.8,54.2 526.3,54.1 526.8,54.0 527.4,53.8 527.9,53.7 528.4,53.6 528.9,53.4 529.4,53.3 529.9,53.2 530.4,53.1 530.9,52.9 531.5,52.8 532.0,52.7 532.5,52.6 533.0,52.5 533.5,52.3 534.0,52.2 534.5,52.1 535.0,52.0 535.5,51.9 536.1,51.7 536.6,51.6 537.1,51.5 537.6,51.3 538.2,51.2 538.7,51.1 539.2,50.9 539.8,50.8 540.3,50.7 540.8,50.6 541.3,50.5 541.9,50.4 542.4,50.4 542.9,50.4 543.4,50.3 543.9,50.3 544.4,50.3 544.9,50.2 545.4,50.2 545.9,50.2 546.4,50.1 546.9,50.1 547.4,50.1 547.9,50.1 548.4,50.0 548.9,50.0 549.4,50.0 549.9,50.0 550.4,50.0 550.9,49.9 551.5,49.9 552.0,49.9 552.5,49.9 553.0,49.9 553.5,49.9 554.0,49.8 554.5,49.8 555.0,49.8 555.5,49.8 556.0,49.8 556.5,49.8 557.0,49.8 557.5,49.8 558.0,49.7 558.5,49.7 559.0,49.7 559.5,49.7 560.0,49.7 560.5,49.7 561.0,49.7 561.5,49.7 562.0,49.7 562.5,49.7 563.0,49.6 563.5,49.6 564.0,49.6 564.5,49.6 565.0,49.6 565.5,49.6 566.1,49.6 566.6,49.6 567.1,49.6 567.6,49.6 568.1,49.6 568.6,49.5 569.1,49.5 569.6,49.5 570.1,49.5 570.6,49.5 571.1,49.5 571.6,49.5 572.1,49.5 572.6,49.5 573.1,49.5 573.6,49.5 574.1,49.5 574.6,49.5 575.1,49.4 575.6,49.4 576.1,49.4 576.6,49.4 577.1,49.4 577.7,49.4 578.2,49.4 578.7,49.4 579.2,49.4 579.7,49.4 580.2,49.4 580.7,49.4 581.2,49.4 581.7,49.4 582.2,49.4 582.7,49.3 583.2,49.3 583.7,49.3 584.2,49.3 584.7,49.3 585.2,49.3 585.7,49.3 586.2,49.3 586.7,49.3 587.2,49.3 587.7,49.3 588.2,49.3 588.7,49.3 589.3,49.3 589.8,49.3 590.3,49.3 590.8,49.3 591.3,49.3 591.8,49.3 592.3,49.3 592.8,49.3 593.3,49.2 593.8,49.2 594.3,49.2 594.8,49.2 595.3,49.2 595.8,49.2 596.3,49.2 596.8,49.2 597.3,49.2 597.8,49.2 598.3,49.2 598.8,49.2 599.3,49.2 599.8,49.2 600.3,49.2 600.9,49.2 601.4,49.2 601.9,49.2 602.4,49.2 602.9,49.2 603.4,49.2 603.9,49.2 604.4,49.2 604.9,49.2 605.4,49.2 605.9,49.2 606.4,49.2 606.9,51.0 607.4,55.5 607.9,61.7 608.5,68.5 609.0,74.7 609.5,79.2 610.0,81.0 610.5,79.9 611.1,77.1 611.6,73.2 612.1,69.1 612.6,65.2 613.2,62.4 613.7,61.3 614.2,62.3 614.8,64.9 615.4,68.3 615.9,71.7 616.5,74.3 617.0,75.3 617.6,74.5 618.1,72.3 618.7,69.3 619.2,66.0 619.8,63.0 620.3,60.7 620.9,59.7 621.4,59.5 621.9,59.4 622.4,59.3 623.0,59.3 623.5,59.2 624.0,59.1 624.5,59.1 625.0,59.0 625.5,58.9 626.0,58.8 626.5,58.7 627.0,58.7 627.5,58.6 628.0,58.5 628.5,58.4 629.0,58.4 629.5,58.4 630.0,58.5 630.5,58.8 631.0,59.2 631.5,59.6 632.0,60.0 632.5,60.5 633.1,61.0 633.6,61.5 634.2,61.9 634.7,62.1 635.2,61.3 635.7,59.5 636.2,57.5 636.7,56.4 637.2,56.0 637.8,55.6 638.3,55.3 638.8,55.1 639.4,54.9 639.9,54.7 640.5,54.5 641.0,54.3 641.5,54.2 642.1,54.0 642.6,53.8 643.2,53.6 643.7,53.4 644.3,53.1 644.9,52.9 645.4,52.7 646.0,52.5 646.5,52.3 647.0,52.1 647.5,51.8 648.0,51.6 648.5,51.3 649.0,51.1 649.5,50.9 650.0,50.8 650.5,50.8 651.0,50.8 651.5,50.9 652.0,51.0 652.5,51.1 653.0,51.3 653.5,51.5 654.1,51.7 654.6,51.9 655.1,52.2 655.6,52.4 656.1,52.7 656.6,52.9 657.1,53.2 657.6,53.5 658.2,53.9 658.7,54.2 659.3,54.7 659.8,55.1 660.4,55.6 660.9,56.1 661.5,56.5 662.0,57.0 662.5,57.5 663.1,58.1 663.6,58.8 664.1,59.5 664.7,60.1 665.2,60.5 665.8,60.9 666.3,61.0 666.8,61.0 667.3,61.0 667.8,61.0 668.3,61.0 668.8,61.0 669.3,61.0 669.9,60.9 670.4,60.9 670.9,60.9 671.4,60.9 671.9,60.9 672.4,60.8 672.9,60.8 673.4,60.7 673.9,60.4 674.4,59.9 674.9,59.4 675.5,58.8 676.0,58.2 676.5,57.5 677.0,56.9 677.5,56.4" fill="none" stroke="#1a1aff" stroke-width="1.2" stroke-linejoin="round" />
<polyline points="473.0,82.0 473.5,82.0 474.0,82.0 474.5,82.0 475.0,82.0 475.5,82.0 476.0,82.0 476.5,82.0 477.0,82.0 477.5,82.0 478.0,82.0 478.5,82.0 479.0,82.0 479.5,82.0 480.0,82.0 480.5,82.0 481.0,82.0 481.5,82.0 482.0,82.0 482.5,82.0 483.0,82.0 483.5,82.0 484.0,82.0 484.5,82.0 485.0,82.0 485.5,82.0 486.0,82.0 486.5,82.0 487.0,82.0 487.5,82.0 488.0,82.0 488.5,82.0 489.0,82.0 489.5,82.0 490.0,82.0 490.5,82.0 491.0,82.0 491.5,82.0 492.0,82.0 492.5,82.0 493.0,82.1 493.5,82.1 494.0,82.1 494.5,82.1 495.0,82.1 495.5,82.1 496.0,82.1 496.5,82.1 497.0,82.1 497.5,82.1 498.0,82.1 498.5,82.1 499.0,82.1 499.5,82.1 500.0,82.1 500.5,82.1 501.0,82.1 501.5,82.1 502.0,82.1 502.5,82.1 503.0,82.1 503.5,82.1 504.0,82.1 504.5,82.1 505.0,82.1 505.5,82.1 506.0,82.1 506.5,82.1 507.0,82.1 507.5,82.1 508.0,82.1 508.5,82.1 509.0,82.1 509.5,82.1 510.0,82.1 510.5,82.1 511.0,82.1 511.5,82.1 512.0,82.1 512.5,82.1 513.0,82.1 513.5,82.1 514.0,82.1 514.5,82.1 515.0,82.1 515.5,82.1 516.0,82.1 516.5,82.1 517.0,82.1 517.5,82.1 518.0,82.1 518.5,82.1 519.0,82.2 519.5,82.2 520.0,82.2 520.5,82.2 521.0,82.2 521.5,82.2 522.0,82.2 522.5,82.2 523.0,82.2 523.5,82.2 524.0,82.2 524.5,82.2 525.0,82.2 525.5,82.2 526.0,82.2 526.5,82.2 527.0,82.3 527.5,82.3 528.0,82.3 528.5,82.4 529.0,82.4 529.5,82.4 530.0,82.5 530.5,82.7 531.1,83.0 531.7,83.4 532.2,83.5 532.8,83.2 533.4,82.8 534.0,82.5 534.5,82.5 535.0,82.5 535.5,82.5 536.0,82.4 536.5,82.4 537.0,82.4 537.5,82.4 538.0,82.4 538.5,82.4 539.0,82.4 539.5,82.4 540.0,82.3 540.5,82.3 541.0,82.3 541.5,82.3 542.0,82.3 542.5,82.3 543.0,82.3 543.5,82.3 544.0,82.3 544.5,82.3 545.0,82.3 545.5,82.3 546.0,82.3 546.5,82.3 547.0,82.2 547.5,82.2 548.0,82.2 548.5,82.2 549.0,82.2 549.5,82.2 550.0,82.2 550.5,82.2 551.0,82.2 551.5,82.2 552.0,82.2 552.5,82.2 553.0,82.2 553.5,82.2 554.0,82.2 554.5,82.2 555.0,82.2 555.5,82.2 556.0,82.2 556.5,82.2 557.0,82.2 557.5,82.2 558.0,82.2 558.5,82.2 559.0,82.2 559.5,82.2 560.0,82.2 560.5,82.2 561.0,82.2 561.5,82.2 562.0,82.2 562.5,82.2 563.0,82.2 563.5,82.2 564.0,82.2 564.5,82.2 565.0,82.2 565.5,82.2 566.0,82.2 566.5,82.2 567.0,82.2 567.5,82.2 568.0,82.2 568.5,82.2 569.0,82.2 569.5,82.2 570.0,82.2 570.5,82.2 571.0,82.2 571.5,82.2 572.0,82.2 572.5,82.2 573.0,82.2 573.5,82.2 574.0,82.2 574.5,82.2 575.0,82.2 575.5,82.2 576.0,82.2 576.5,82.2 577.0,82.2 577.5,82.2 578.0,82.2 578.5,82.2 579.0,82.2 579.5,82.2 580.0,82.2 580.5,82.2 581.0,82.2 581.5,82.2 582.0,82.2 582.5,82.2 583.0,82.2 583.5,82.2 584.0,82.2 584.5,82.2 585.0,82.2 585.5,82.2 586.0,82.2 586.5,82.2 587.0,82.2 587.5,82.2 588.0,82.2 588.5,82.2 589.0,82.2 589.5,82.2 590.0,82.2 590.5,82.2 591.0,82.2 591.5,82.2 592.0,82.2 592.5,82.2 593.0,82.2 593.5,82.2 594.0,82.2 594.5,82.2 595.0,82.2 595.5,82.2 596.0,82.2 596.5,82.2 597.0,82.2 597.5,82.2 598.0,82.2 598.5,82.2 599.0,82.2 599.5,82.2 600.0,82.2 600.5,82.2 601.0,82.2 601.5,82.2 602.0,82.2 602.5,82.2 603.0,82.2 603.5,82.2 604.1,82.2 604.6,82.2 605.1,82.2 605.6,82.2 606.1,82.2 606.6,82.2 607.1,82.2 607.7,82.3 608.2,82.5 608.8,82.9 609.3,83.4 609.9,84.0 610.4,84.7 611.0,85.5 611.5,87.1 612.0,90.1 612.5,94.0 613.0,98.2 613.5,102.4 614.0,106.0 614.5,108.5 615.0,109.5 615.5,109.0 616.1,107.6 616.6,105.5 617.1,102.9 617.7,100.0 618.2,97.0 618.8,94.1 619.3,91.5 619.8,89.4 620.4,88.0 620.9,87.5 621.4,88.6 621.9,91.5 622.4,95.6 622.9,100.3 623.4,105.1 623.9,109.2 624.4,112.1 624.9,113.2 625.4,112.5 625.9,110.7 626.4,108.1 626.9,104.9 627.5,101.5 628.0,98.0 628.5,94.9 629.0,92.4 629.5,90.8 630.1,89.7 630.6,88.7 631.2,87.8 631.7,87.1 632.3,86.4 632.8,85.9 633.4,85.5 633.9,85.2 634.4,84.9 634.9,84.6 635.4,84.3 635.9,84.0 636.4,83.8 637.0,83.6 637.5,83.4 638.0,83.2 638.5,83.1 639.0,83.0 639.5,82.9 640.0,82.9 640.5,82.9 641.1,82.9 641.6,82.9 642.1,83.0 642.6,83.0 643.2,83.1 643.7,83.2 644.2,83.3 644.8,83.4 645.3,83.6 646.0,89.2 646.6,94.7 647.2,92.7 647.9,89.5 648.4,87.7 648.9,85.9 649.4,84.4 649.9,83.6 650.5,83.2 651.2,83.0 651.8,82.9 652.5,87.5 653.2,92.1 653.9,87.2 654.5,82.2 655.0,82.2 655.5,82.2 656.0,82.2 656.5,82.2 657.0,82.2 657.5,82.2 658.0,82.2 658.5,82.2 659.0,82.2 659.5,82.3 660.0,82.3 660.5,82.3 661.0,82.3 661.6,82.3 662.1,82.4 662.6,82.4 663.1,82.4 663.6,82.5 664.1,82.5 664.6,82.6 665.1,82.6 665.6,82.7 666.1,82.7 666.6,82.8 667.1,82.8 667.6,82.9 668.1,87.4 668.6,97.1 669.1,106.8 669.6,111.2 670.2,107.7 670.9,101.3 671.5,93.6 672.2,88.2 672.7,87.5 673.3,87.0 673.8,86.6 674.3,86.3 674.9,86.0 675.4,85.8 675.9,85.6 676.4,85.4 677.0,85.2 677.5,84.9" fill="none" stroke="#1f8f8f" stroke-width="1.2" stroke-linejoin="round" />
<polyline points="473.4,109.0 473.9,108.6 474.4,108.3 475.0,107.9 475.5,107.5 476.0,107.2 476.5,106.8 477.0,106.4 477.6,106.0 478.1,105.6 478.6,105.2 479.1,104.7 479.7,104.1 480.2,103.5 480.7,102.8 481.2,102.2 481.8,101.7 482.3,101.4 482.8,101.3 483.4,101.7 483.9,102.6 484.5,103.0 485.0,102.9 485.5,102.5 486.0,102.0 486.5,101.4 487.0,100.9 487.5,100.5 488.0,100.4 488.5,100.4 489.0,100.4 489.6,100.5 490.1,100.5 490.6,100.6 491.1,100.6 491.7,100.7 492.2,100.8 492.7,100.8 493.2,100.9 493.7,101.0 494.3,101.1 494.8,101.1 495.3,101.2 495.8,101.2 496.4,101.3 496.9,101.3 497.4,101.3 498.0,101.0 498.5,100.3 499.1,100.0 499.7,100.2 500.2,100.8 500.8,101.5 501.4,102.2 501.9,102.8 502.5,103.0 503.0,103.0 503.5,102.8 504.1,102.6 504.6,102.4 505.1,102.1 505.6,101.8 506.2,101.6 506.7,101.3 507.2,101.0 507.7,100.8 508.3,100.6 508.8,100.4 509.3,100.4 509.8,100.4 510.4,100.5 510.9,100.7 511.4,100.9 512.0,101.2 512.5,101.4 513.0,101.7 513.5,102.0 514.1,102.3 514.6,102.5 515.1,102.7 515.7,102.9 516.2,103.0 516.7,103.1 517.2,103.1 517.7,103.2 518.2,103.2 518.7,103.2 519.2,103.3 519.7,103.3 520.2,103.3 520.7,103.4 521.2,103.4 521.7,103.4 522.2,103.5 522.7,103.5 523.2,103.6 523.7,103.6 524.2,103.7 524.7,103.8 525.3,104.2 525.8,104.9 526.4,105.5 526.9,105.9 527.4,106.2 527.9,106.6 528.4,107.0 528.9,107.3 529.5,107.7 530.0,108.0 530.5,108.3 531.0,108.7 531.5,109.0 532.0,109.3 532.5,109.5 533.0,109.8 533.5,110.0 534.0,110.2 534.5,110.4 535.1,110.6 535.6,110.7 536.1,110.9 536.6,110.9 537.1,111.0 537.6,111.0 538.1,110.2 538.6,108.2 539.1,105.8 539.6,103.8 540.1,103.0 540.7,103.3 541.2,103.9 541.8,104.2 542.4,103.4 543.0,102.1 543.6,101.3 544.2,101.9 544.7,102.9 545.3,103.5 545.8,102.8 546.3,101.1 546.8,99.0 547.3,97.3 547.8,96.6 548.3,96.9 548.8,97.6 549.3,98.5 549.8,99.6 550.3,100.6 550.8,101.3 551.3,101.6 551.8,101.6 552.3,101.7 552.8,101.7 553.3,101.8 553.8,101.8 554.3,101.8 554.8,101.9 555.3,101.9 555.8,101.9 556.3,101.9 556.8,102.0 557.3,102.0 557.8,102.0 558.3,102.0 558.8,102.1 559.3,102.1 559.8,102.1 560.3,102.1 560.8,102.1 561.3,102.1 561.8,102.2 562.4,102.2 562.9,102.2 563.4,102.2 563.9,102.2 564.4,102.2 564.9,102.2 565.4,102.2 565.9,102.2 566.4,102.2 566.9,102.2 567.4,102.2 567.9,102.3 568.4,102.3 568.9,102.3 569.4,102.3 569.9,102.3 570.4,102.3 570.9,102.3 571.4,102.3 571.9,102.3 572.4,102.3 572.9,102.3 573.4,102.3 573.9,102.3 574.4,102.3 574.9,102.3 575.4,102.3 575.9,102.3 576.4,102.3 576.9,102.3 577.4,102.3 577.9,102.3 578.4,102.3 578.9,102.3 579.4,102.3 579.9,102.3 580.4,102.3 580.9,102.4 581.4,102.4 581.9,102.4 582.4,102.4 582.9,102.4 583.5,102.4 584.0,102.4 584.5,102.4 585.0,102.5 585.5,102.5 586.0,102.5 586.5,102.5 587.0,102.5 587.5,102.6 588.0,102.6 588.5,102.6 589.0,102.6 589.5,102.7 590.0,102.7 590.5,102.7 591.0,102.8 591.5,102.8 592.0,102.8 592.5,102.9 593.0,102.9 593.5,103.0 594.0,103.0 594.6,103.9 595.1,105.5 595.7,106.4 596.3,106.0 596.8,105.3 597.4,104.7 597.9,104.5 598.4,104.3 598.9,104.1 599.4,104.0 599.9,104.0 600.5,105.9 601.2,110.0 601.8,115.9 602.3,116.8 602.8,117.5 603.3,118.1 603.8,118.5 604.3,118.8 604.8,119.0 605.3,119.2 605.8,119.2 606.3,119.0 606.8,118.5 607.4,117.9 607.9,117.4 608.4,117.2 608.9,118.0 609.4,119.8 610.0,121.9 610.5,123.7 611.0,124.5 611.7,123.8 612.4,123.2 613.0,127.5 613.7,135.3 614.3,139.6 614.8,138.4 615.3,135.5 615.8,132.2 616.3,129.7 616.8,127.9 617.4,126.1 617.9,124.6 618.5,123.6 619.0,123.2 619.6,124.2 620.3,126.7 620.9,129.7 621.4,133.4 622.0,138.7 622.5,144.1 623.1,148.4 623.6,150.1 624.2,148.7 624.9,145.8 625.5,142.9 626.0,141.3 626.5,139.8 627.0,138.3 627.5,136.3 628.0,133.1 628.5,128.7 629.0,124.7 629.5,122.5 630.0,121.6 630.5,120.9 631.1,120.4 631.6,120.0 632.1,119.9 632.6,120.3 633.1,121.2 633.6,122.3 634.1,123.2 634.7,124.0 635.4,124.8 636.0,125.1 636.5,124.9 637.0,124.5 637.5,124.0 638.0,123.3 638.5,122.6 639.0,121.9 639.5,121.5 640.0,121.2 640.5,121.1 641.1,121.0 641.6,120.9 642.1,120.8 642.6,120.7 643.2,120.6 643.7,120.6 644.2,120.5 644.8,120.5 645.3,120.5 645.8,120.5 646.3,120.5 646.8,120.5 647.3,120.5 647.8,120.5 648.3,120.5 648.8,120.5 649.3,120.5 649.8,120.5 650.3,120.5 650.8,120.5 651.3,120.5 651.8,120.5 652.3,120.7 652.9,121.2 653.4,121.8 654.0,122.5 654.5,123.2 655.0,123.8 655.5,124.4 656.1,125.0 656.6,125.7 657.1,126.4 657.7,127.2 658.2,127.9 658.8,128.7 659.3,129.5 659.9,130.4 660.4,131.3 661.0,132.4 661.5,133.5 662.0,134.7 662.5,136.1 663.0,137.6 663.5,139.3 664.0,141.2 664.5,143.4 665.0,145.6 665.5,147.9 666.0,150.2 666.5,152.5 667.0,154.7" fill="none" stroke="#8b0d0d" stroke-width="1.5" stroke-linejoin="round" />
<ellipse cx="536.4" cy="14.9" rx="10.3" ry="6.9" fill="none" stroke="#6b6bff" stroke-width="0.8" stroke-dasharray="1.2,1"/>
<text x="513.3" y="9.8" font-family='"Liberation Serif", serif' font-size="9.2" font-weight="bold" fill="#000" text-anchor="middle"  >Ti</text>
<text x="513.7" y="24.3" font-family='"Liberation Serif", serif' font-size="9.2" font-weight="bold" fill="#ff1a1a" text-anchor="middle"  >Ti-PD</text>
<text x="513.0" y="44.9" font-family='"Liberation Serif", serif' font-size="9.2" font-weight="bold" fill="#1a1aff" text-anchor="middle"  >Ti-PD-DLSF</text>
<text x="513.5" y="73.0" font-family='"Liberation Serif", serif' font-size="9.3" font-weight="bold" fill="#1f8f8f" text-anchor="middle"  >Ti-PD-DLSF-DCS</text>
<text x="513.3" y="94.9" font-family='"Liberation Serif", serif' font-size="9.3" font-weight="bold" fill="#8b0d0d" text-anchor="middle"  >Ti-PD-DLSF-SCS</text>
<text x="565.8" y="77.2" font-family='"Liberation Serif", serif' font-size="6.6" font-weight="bold" fill="#000">1650 cm<tspan font-size="4.2" dy="-2.6">-1</tspan></text>
<text x="628.2" y="80.3" font-family='"Liberation Serif", serif' font-size="6.6" font-weight="bold" fill="#000">1542 cm<tspan font-size="4.2" dy="-2.6">-1</tspan></text>
<text x="572.3" y="145.8" font-family='"Liberation Serif", serif' font-size="6.6" font-weight="bold" fill="#000">1561 cm<tspan font-size="4.2" dy="-2.6">-1</tspan></text>
<text x="635.4" y="148.9" font-family='"Liberation Serif", serif' font-size="6.6" font-weight="bold" fill="#000">1257 cm<tspan font-size="4.2" dy="-2.6">-1</tspan></text>
<line x1="592.3" y1="70.3" x2="604.4" y2="65.1" stroke="#111" stroke-width="1.3"/>
<polyline points="600.1,64.1 605.0,64.9 602.1,69.0" fill="none" stroke="#111" stroke-width="1.3" stroke-linejoin="miter" stroke-linecap="round"/>
<line x1="635.4" y1="73.8" x2="623.5" y2="68.9" stroke="#111" stroke-width="1.3"/>
<polyline points="625.8,72.8 622.9,68.7 627.8,67.8" fill="none" stroke="#111" stroke-width="1.3" stroke-linejoin="miter" stroke-linecap="round"/>
<line x1="598.6" y1="138.5" x2="611.1" y2="133.2" stroke="#111" stroke-width="1.3"/>
<polyline points="606.8,132.2 611.7,133.0 608.8,137.1" fill="none" stroke="#111" stroke-width="1.3" stroke-linejoin="miter" stroke-linecap="round"/>
<line x1="641.3" y1="142.4" x2="629.4" y2="137.2" stroke="#111" stroke-width="1.3"/>
<polyline points="631.6,141.1 628.8,137.0 633.7,136.2" fill="none" stroke="#111" stroke-width="1.3" stroke-linejoin="miter" stroke-linecap="round"/>
<polyline points="66.1,387.8 67.8,389.2 69.6,391.7 70.8,391.8 72.1,391.3 73.3,390.3 74.5,390.2 75.8,389.8 77.0,389.7 78.3,389.6 79.5,388.8 80.8,387.4 82.1,386.5 83.4,386.8 84.7,385.4 86.0,385.1 87.3,383.9 88.9,380.9 90.3,384.8 92.2,377.0 93.6,384.8 95.6,398.6 96.8,397.8 98.0,398.3 99.2,398.6 100.4,397.9 101.6,398.8 102.9,398.6 104.1,397.3 105.3,397.2 106.5,397.8 107.7,398.3 108.9,397.6 110.1,397.2 111.4,396.6 112.6,396.7 113.9,395.8 115.1,395.8 116.4,395.8 117.6,395.6 118.8,395.0 120.1,394.7 121.3,394.4 122.6,394.5 123.8,394.0 125.0,393.3 126.3,394.2 127.5,393.5 128.8,393.3 130.0,392.4 131.3,393.3 132.5,392.3 133.7,392.5 135.0,391.2 136.2,391.2 137.4,391.5 138.7,391.2 139.9,391.2 141.1,390.2 142.3,390.5 143.6,390.0 144.8,389.2 146.0,389.3 147.3,389.5 148.5,389.1 149.7,388.4 151.0,388.2 152.2,387.8 153.5,386.8 154.7,386.7 156.0,387.1 157.3,386.2 158.6,385.4 159.8,385.6 161.1,385.4 162.4,385.0 163.6,384.2 164.9,383.9 166.2,383.6 167.5,383.6 168.7,382.9 170.0,382.5 171.4,380.2 172.9,378.1 174.4,382.0 175.8,380.1 177.8,383.0 179.7,396.8 181.1,397.8 181.7,364.0 182.3,400.0 182.7,401.7 184.2,401.4 185.6,400.5 187.1,400.3 188.6,400.7 189.8,400.8 191.0,400.9 192.2,400.2 193.4,399.7 194.6,399.1 195.8,399.4 197.1,399.8 198.3,399.3 199.5,398.7 200.7,399.0 201.9,397.9 203.1,398.0 204.3,397.8 206.6,404.7 208.2,342.2 209.8,405.6 211.4,406.7 213.1,406.6 214.5,387.0 216.1,407.6 217.3,407.3 218.6,406.8 219.8,406.2 221.0,406.2 222.2,406.4 223.4,404.7 224.7,405.5 225.9,404.7 227.9,408.6 229.8,421.4 230.5,424.0 231.8,402.7 232.8,424.2" fill="none" stroke="#000" stroke-width="1.6" stroke-linejoin="round" />
<polyline points="66.1,342.0 67.8,343.9 69.6,344.6 71.1,349.1 72.6,352.4 73.3,352.0 73.6,280.5 73.9,352.0 74.6,354.4 75.8,353.3 77.0,352.8 78.3,353.4 79.5,352.4 80.7,352.5 82.0,352.1 83.2,351.4 84.4,351.4 85.8,349.6 87.3,347.5 89.3,352.4 90.8,344.7 92.2,336.7 94.2,359.3 96.2,365.6 97.5,365.5 98.7,364.7 100.0,364.9 101.3,364.7 102.6,364.9 103.8,365.1 105.1,364.8 106.4,364.1 107.6,363.7 108.9,363.6 110.1,362.9 111.4,362.3 112.6,361.9 113.8,362.2 115.1,361.7 116.3,361.4 117.5,361.8 118.8,361.0 120.0,360.7 121.2,359.9 122.4,359.3 123.7,359.4 124.9,358.8 126.1,359.0 127.4,359.3 128.6,358.3 129.8,358.1 131.0,357.0 132.3,357.6 133.5,357.0 134.7,356.5 135.9,356.3 137.2,355.6 138.4,355.3 139.6,354.2 140.8,354.7 142.1,354.2 143.3,352.7 144.5,353.0 145.8,352.6 147.0,351.8 148.2,351.4 149.4,351.1 150.6,350.7 151.8,351.0 153.0,350.1 154.3,350.2 155.5,349.2 156.7,349.6 157.9,349.3 159.1,348.4 160.3,348.2 161.5,348.4 162.7,347.8 163.9,347.1 165.2,346.4 166.4,346.2 167.6,346.4 168.8,345.4 170.0,345.5 171.4,345.7 172.7,344.3 174.1,344.8 175.4,343.6 176.8,343.4 179.1,353.6 180.7,362.4 181.2,363.0 181.5,332.2 181.9,364.0 183.7,368.3 185.1,372.4 186.6,375.2 188.6,380.1 189.0,318.7 189.6,388.9 190.8,389.4 192.1,389.4 193.3,389.7 194.5,389.9 195.8,390.0 197.1,389.8 198.4,389.3 199.7,389.0 201.1,389.4 202.4,389.8 203.7,389.3 205.0,388.4 206.3,388.9 208.3,388.0 208.6,348.5 208.9,390.0 210.2,391.2 211.5,391.8 212.8,392.7 214.1,392.9 215.4,392.2 216.6,392.7 217.9,391.5 219.1,392.0 220.4,391.2 221.6,390.9 222.9,391.5 224.1,390.2 225.4,390.5 226.6,390.7 227.9,389.9 229.4,397.4 230.8,405.6 231.2,324.1 231.6,406.0 232.8,406.5 234.1,406.1 235.3,407.0 236.6,406.4 237.9,406.8 239.2,405.8 240.4,406.3 241.7,406.0 243.0,406.7 244.3,405.9 245.5,407.1 246.8,406.5 248.6,404.2 250.7,406.5 251.9,405.8 253.1,406.8 254.3,405.8 255.6,406.2 256.8,406.9 258.0,406.0 259.2,406.1 260.4,406.8 261.6,406.3 262.9,405.9 264.1,407.2 265.3,406.0 266.5,405.9 267.7,406.3 268.9,406.7 270.1,406.8 271.4,406.0 272.6,406.3 273.8,405.8 275.0,406.5 276.0,397.7 277.5,406.5 279.0,406.3 280.6,406.5 282.1,406.0 282.8,403.3 283.9,408.6 285.1,409.6 286.3,410.5 287.5,411.0 288.7,411.3" fill="none" stroke="#ff0000" stroke-width="1.5" stroke-linejoin="round" />
<polyline points="66.1,297.2 67.7,309.0 68.7,313.9 70.2,314.5 71.6,315.8 72.6,313.0 73.2,304.0 74.6,317.8 75.8,318.1 77.0,318.1 78.3,318.7 79.5,318.8 81.0,318.3 82.5,317.5 83.4,312.9 84.4,318.4 85.6,317.4 86.8,316.9 88.1,317.7 89.3,316.8 90.3,312.5 91.3,319.7 92.8,298.1 94.2,324.7 96.2,332.5 97.5,332.0 98.7,331.7 100.0,332.6 101.3,331.7 102.6,332.0 103.8,331.3 105.1,331.4 106.4,330.5 107.6,331.0 108.9,330.6 110.1,330.9 111.4,330.1 112.6,330.2 113.8,329.8 115.1,328.7 116.3,329.5 117.5,329.0 118.8,328.3 120.0,327.7 121.2,328.6 122.4,327.8 123.7,327.9 124.9,327.9 126.1,327.4 127.4,327.4 128.6,326.6 129.8,326.3 131.0,326.7 132.3,326.0 133.5,326.5 134.7,326.2 135.9,324.9 137.2,324.8 138.4,324.8 139.6,325.6 140.8,324.7 142.1,324.8 143.3,324.1 144.5,324.3 145.8,323.9 147.0,323.7 148.2,323.7 149.4,323.5 150.6,323.2 151.9,323.3 153.1,322.7 154.3,322.7 155.5,322.3 156.8,322.1 158.0,321.4 159.2,320.3 160.4,321.0 161.6,320.8 162.9,320.4 164.1,319.6 165.3,319.5 166.5,318.5 167.8,319.0 169.0,318.3 170.2,317.9 171.7,315.3 173.1,312.6 174.6,310.9 175.8,320.4 177.2,323.3 178.7,325.3 180.8,332.9 181.5,335.0 181.8,245.5 182.2,338.0 184.2,340.4 185.5,340.8 186.8,339.3 188.1,339.6 189.4,334.5 190.7,339.6 192.0,338.9 193.2,337.3 194.5,336.3 195.2,324.0 196.6,290.3 197.3,345.0 197.8,354.9 199.1,356.7 200.4,359.5 201.7,359.4 203.1,360.3 204.4,360.7 205.8,359.8 207.1,360.8 208.4,360.2 209.8,361.4 211.1,361.3 212.4,361.1 213.7,361.8 214.9,362.0 216.2,361.3 217.5,361.3 218.3,349.6 219.5,361.3 220.8,362.1 222.1,361.3 223.4,361.1 224.7,362.0 225.9,361.3 227.2,361.7 228.5,362.1 229.8,362.4 231.1,348.5 231.8,362.6 234.0,365.4 235.2,365.5 236.4,364.9 237.6,364.7 238.8,365.9 240.0,365.1 241.2,366.0 242.4,365.9 243.6,365.2 244.9,365.3 246.1,365.3 247.3,365.5 248.5,365.4 249.7,365.4 250.9,365.4 252.1,365.9 253.3,365.3 254.5,365.2 255.7,365.5 256.9,364.9 258.1,364.9 259.3,365.9 260.5,365.2 261.7,365.3 262.9,364.5 264.1,365.1 265.4,365.3 266.6,364.5 267.8,365.3 269.0,365.3 270.2,364.5 271.4,365.3 272.6,365.1 273.8,365.4 275.0,365.1 276.2,361.3 277.5,365.1 278.8,364.9 280.0,365.1 281.3,358.7 282.6,367.7 283.9,368.6 285.1,369.3 286.4,368.9 287.7,370.2" fill="none" stroke="#00ee00" stroke-width="1.5" stroke-linejoin="round" />
<line x1="258.0" y1="419.5" x2="258.0" y2="424.0" stroke="#000" stroke-width="1.6"/>
<line x1="268.0" y1="419.5" x2="268.0" y2="424.0" stroke="#000" stroke-width="1.6"/>
<line x1="47.7" y1="245.0" x2="47.7" y2="424.7" stroke="#222" stroke-width="1"/>
<line x1="47.2" y1="424.2" x2="288.7" y2="424.2" stroke="#222" stroke-width="1"/>
<line x1="44.7" y1="424.2" x2="47.7" y2="424.2" stroke="#222" stroke-width="0.8"/>
<line x1="45.7" y1="404.3" x2="47.7" y2="404.3" stroke="#222" stroke-width="0.8"/>
<line x1="44.7" y1="384.4" x2="47.7" y2="384.4" stroke="#222" stroke-width="0.8"/>
<line x1="45.7" y1="364.5" x2="47.7" y2="364.5" stroke="#222" stroke-width="0.8"/>
<line x1="44.7" y1="344.6" x2="47.7" y2="344.6" stroke="#222" stroke-width="0.8"/>
<line x1="45.7" y1="324.7" x2="47.7" y2="324.7" stroke="#222" stroke-width="0.8"/>
<line x1="44.7" y1="304.8" x2="47.7" y2="304.8" stroke="#222" stroke-width="0.8"/>
<line x1="45.7" y1="284.9" x2="47.7" y2="284.9" stroke="#222" stroke-width="0.8"/>
<line x1="44.7" y1="265.0" x2="47.7" y2="265.0" stroke="#222" stroke-width="0.8"/>
<line x1="45.7" y1="245.1" x2="47.7" y2="245.1" stroke="#222" stroke-width="0.8"/>
<text x="43.9" y="427.0" font-family='"Liberation Sans", sans-serif' font-size="7.8" fill="#111" text-anchor="end" textLength="4.1" lengthAdjust="spacingAndGlyphs">0</text>
<text x="43.9" y="387.2" font-family='"Liberation Sans", sans-serif' font-size="7.8" fill="#111" text-anchor="end" textLength="20.5" lengthAdjust="spacingAndGlyphs">50000</text>
<text x="43.9" y="347.4" font-family='"Liberation Sans", sans-serif' font-size="7.8" fill="#111" text-anchor="end" textLength="24.6" lengthAdjust="spacingAndGlyphs">100000</text>
<text x="43.9" y="307.6" font-family='"Liberation Sans", sans-serif' font-size="7.8" fill="#111" text-anchor="end" textLength="24.6" lengthAdjust="spacingAndGlyphs">150000</text>
<text x="43.9" y="267.8" font-family='"Liberation Sans", sans-serif' font-size="7.8" fill="#111" text-anchor="end" textLength="24.6" lengthAdjust="spacingAndGlyphs">200000</text>
<line x1="47.7" y1="424.2" x2="47.7" y2="420.7" stroke="#222" stroke-width="0.8"/>
<line x1="67.8" y1="424.2" x2="67.8" y2="422.2" stroke="#222" stroke-width="0.8"/>
<line x1="87.9" y1="424.2" x2="87.9" y2="420.7" stroke="#222" stroke-width="0.8"/>
<line x1="107.9" y1="424.2" x2="107.9" y2="422.2" stroke="#222" stroke-width="0.8"/>
<line x1="128.0" y1="424.2" x2="128.0" y2="420.7" stroke="#222" stroke-width="0.8"/>
<line x1="148.1" y1="424.2" x2="148.1" y2="422.2" stroke="#222" stroke-width="0.8"/>
<line x1="168.2" y1="424.2" x2="168.2" y2="420.7" stroke="#222" stroke-width="0.8"/>
<line x1="188.3" y1="424.2" x2="188.3" y2="422.2" stroke="#222" stroke-width="0.8"/>
<line x1="208.3" y1="424.2" x2="208.3" y2="420.7" stroke="#222" stroke-width="0.8"/>
<line x1="228.4" y1="424.2" x2="228.4" y2="422.2" stroke="#222" stroke-width="0.8"/>
<line x1="248.5" y1="424.2" x2="248.5" y2="420.7" stroke="#222" stroke-width="0.8"/>
<line x1="268.6" y1="424.2" x2="268.6" y2="422.2" stroke="#222" stroke-width="0.8"/>
<line x1="288.7" y1="424.2" x2="288.7" y2="420.7" stroke="#222" stroke-width="0.8"/>
<text x="47.7" y="434.4" font-family='"Liberation Sans", sans-serif' font-size="7.8" fill="#111" text-anchor="middle" textLength="16.0" lengthAdjust="spacingAndGlyphs">1200</text>
<text x="87.9" y="434.4" font-family='"Liberation Sans", sans-serif' font-size="7.8" fill="#111" text-anchor="middle" textLength="16.0" lengthAdjust="spacingAndGlyphs">1000</text>
<text x="128.0" y="434.4" font-family='"Liberation Sans", sans-serif' font-size="7.8" fill="#111" text-anchor="middle" textLength="12.0" lengthAdjust="spacingAndGlyphs">800</text>
<text x="168.2" y="434.4" font-family='"Liberation Sans", sans-serif' font-size="7.8" fill="#111" text-anchor="middle" textLength="12.0" lengthAdjust="spacingAndGlyphs">600</text>
<text x="208.3" y="434.4" font-family='"Liberation Sans", sans-serif' font-size="7.8" fill="#111" text-anchor="middle" textLength="12.0" lengthAdjust="spacingAndGlyphs">400</text>
<text x="248.5" y="434.4" font-family='"Liberation Sans", sans-serif' font-size="7.8" fill="#111" text-anchor="middle" textLength="12.0" lengthAdjust="spacingAndGlyphs">200</text>
<text x="288.7" y="434.4" font-family='"Liberation Sans", sans-serif' font-size="7.8" fill="#111" text-anchor="middle" textLength="4.0" lengthAdjust="spacingAndGlyphs">0</text>
<text x="8.9" y="317.9" font-family='"Liberation Serif", serif' font-size="19" font-weight="bold" fill="#000" text-anchor="middle" dominant-baseline="central" transform="rotate(-90 8.9 317.9)">CPS</text>
<text x="166.0" y="458.7" font-family='"Liberation Serif", serif' font-size="19.2" font-weight="bold" fill="#000" text-anchor="middle"  >Binding energy (eV)</text>
<text x="73.9" y="266.0" font-family='"Liberation Sans", sans-serif' font-size="8.2" fill="#111" text-anchor="middle" dominant-baseline="central" textLength="20.8" lengthAdjust="spacingAndGlyphs" transform="rotate(-90 73.9 266.0)">Na 1S</text>
<text x="90.7" y="289.8" font-family='"Liberation Sans", sans-serif' font-size="7.0" fill="#111" text-anchor="middle" dominant-baseline="central" textLength="16.5" lengthAdjust="spacingAndGlyphs" transform="rotate(-90 90.7 289.8)">OKLL</text>
<text x="174.9" y="268.5" font-family='"Liberation Sans", sans-serif' font-size="8.4" fill="#111" text-anchor="middle" dominant-baseline="central" textLength="17.2" lengthAdjust="spacingAndGlyphs" transform="rotate(-90 174.9 268.5)">O 1S</text>
<text x="189.5" y="311.0" font-family='"Liberation Sans", sans-serif' font-size="7.8" fill="#111" text-anchor="middle" dominant-baseline="central" textLength="14.8" lengthAdjust="spacingAndGlyphs" transform="rotate(-90 189.5 311.0)">N 1S</text>
<text x="209.5" y="324.8" font-family='"Liberation Sans", sans-serif' font-size="8.2" fill="#111" text-anchor="middle" dominant-baseline="central" textLength="24.4" lengthAdjust="spacingAndGlyphs" transform="rotate(-90 209.5 324.8)">Na KLL</text>
<text x="231.7" y="312.9" font-family='"Liberation Sans", sans-serif' font-size="8.1" fill="#111" text-anchor="middle" dominant-baseline="central" textLength="15.7" lengthAdjust="spacingAndGlyphs" transform="rotate(-90 231.7 312.9)">C 1S</text>
<text x="199.9" y="374.2" font-family='"Liberation Sans", sans-serif' font-size="9.6" fill="#111" text-anchor="middle" dominant-baseline="central" textLength="23.1" lengthAdjust="spacingAndGlyphs" transform="rotate(-90 199.9 374.2)">Ag 3d</text>
<text x="134.8" y="312.9" font-family='"Liberation Serif", serif' font-size="9.5" font-weight="bold" fill="#00ee00" text-anchor="middle" dominant-baseline="central" transform="rotate(-21 134.8 312.9)">Ti-PD-SF-DCS</text>
<text x="134.8" y="343.1" font-family='"Liberation Serif", serif' font-size="9.5" font-weight="bold" fill="#ff0000" text-anchor="middle" dominant-baseline="central" transform="rotate(-21 134.8 343.1)">Ti-PD-SF-DCS</text>
<text x="133.3" y="376.0" font-family='"Liberation Serif", serif' font-size="9.5" font-weight="bold" fill="#000" text-anchor="middle" dominant-baseline="central" transform="rotate(-22 133.3 376.0)">Ti-PD-DLSF</text>
<rect x="193" y="210.1" width="79" height="17.599999999999994" fill="#a6a6a6"/>
<rect x="193" y="227.7" width="79" height="19.600000000000023" fill="#d9d9d9"/>
<rect x="193" y="247.3" width="79" height="19.80000000000001" fill="#ededed"/>
<rect x="193" y="267.1" width="79" height="19.5" fill="#d9d9d9"/>
<line x1="193.0" y1="227.7" x2="272.0" y2="227.7" stroke="#fff" stroke-width="0.8"/>
<line x1="193.0" y1="247.3" x2="272.0" y2="247.3" stroke="#fff" stroke-width="0.8"/>
<line x1="193.0" y1="267.1" x2="272.0" y2="267.1" stroke="#fff" stroke-width="0.8"/>
<line x1="232.3" y1="210.1" x2="232.3" y2="286.6" stroke="#fff" stroke-width="0.8"/>
<text x="212.7" y="223.1" font-family='"Liberation Serif", serif' font-size="12.5" font-weight="bold" fill="#fff" text-anchor="middle"  >Ag</text>
<text x="252.2" y="223.1" font-family='"Liberation Serif", serif' font-size="12.5" font-weight="bold" fill="#fff" text-anchor="middle"  >At%</text>
<text x="212.7" y="241.7" font-family='"Liberation Serif", serif' font-size="12.5" font-weight="bold" fill="#000" text-anchor="middle"  >DLSF</text>
<text x="252.2" y="241.7" font-family='"Liberation Serif", serif' font-size="12.5" font-weight="bold" fill="#000" text-anchor="middle"  >0.28</text>
<text x="212.7" y="261.4" font-family='"Liberation Serif", serif' font-size="12.5" font-weight="bold" fill="#000" text-anchor="middle"  >DCS</text>
<text x="252.2" y="261.4" font-family='"Liberation Serif", serif' font-size="12.5" font-weight="bold" fill="#000" text-anchor="middle"  >0.04</text>
<text x="212.7" y="281.1" font-family='"Liberation Serif", serif' font-size="12.5" font-weight="bold" fill="#000" text-anchor="middle"  >SCS</text>
<text x="252.2" y="281.1" font-family='"Liberation Serif", serif' font-size="12.5" font-weight="bold" fill="#000" text-anchor="middle"  >0.02</text>
<rect x="343.2" y="196.6" width="184.2" height="128.70000000000002" fill="none" stroke="#444" stroke-width="1.0"/>
<line x1="342.2" y1="316.4" x2="345.0" y2="316.4" stroke="#444" stroke-width="0.7"/>
<line x1="342.2" y1="306.4" x2="345.7" y2="306.4" stroke="#444" stroke-width="0.7"/>
<line x1="342.2" y1="296.4" x2="345.0" y2="296.4" stroke="#444" stroke-width="0.7"/>
<line x1="342.2" y1="286.4" x2="345.7" y2="286.4" stroke="#444" stroke-width="0.7"/>
<line x1="342.2" y1="276.4" x2="345.0" y2="276.4" stroke="#444" stroke-width="0.7"/>
<line x1="342.2" y1="266.4" x2="345.7" y2="266.4" stroke="#444" stroke-width="0.7"/>
<line x1="342.2" y1="256.4" x2="345.0" y2="256.4" stroke="#444" stroke-width="0.7"/>
<line x1="342.2" y1="246.4" x2="345.7" y2="246.4" stroke="#444" stroke-width="0.7"/>
<line x1="342.2" y1="236.4" x2="345.0" y2="236.4" stroke="#444" stroke-width="0.7"/>
<line x1="342.2" y1="226.4" x2="345.7" y2="226.4" stroke="#444" stroke-width="0.7"/>
<line x1="342.2" y1="216.4" x2="345.0" y2="216.4" stroke="#444" stroke-width="0.7"/>
<line x1="342.2" y1="206.4" x2="345.7" y2="206.4" stroke="#444" stroke-width="0.7"/>
<text x="340.3" y="308.4" font-family='"Liberation Sans", sans-serif' font-size="5.7" font-weight="normal" fill="#333" text-anchor="end"  >10000</text>
<text x="340.3" y="288.4" font-family='"Liberation Sans", sans-serif' font-size="5.7" font-weight="normal" fill="#333" text-anchor="end"  >20000</text>
<text x="340.3" y="268.4" font-family='"Liberation Sans", sans-serif' font-size="5.7" font-weight="normal" fill="#333" text-anchor="end"  >30000</text>
<text x="340.3" y="248.4" font-family='"Liberation Sans", sans-serif' font-size="5.7" font-weight="normal" fill="#333" text-anchor="end"  >40000</text>
<text x="340.3" y="228.4" font-family='"Liberation Sans", sans-serif' font-size="5.7" font-weight="normal" fill="#333" text-anchor="end"  >50000</text>
<text x="340.3" y="208.4" font-family='"Liberation Sans", sans-serif' font-size="5.7" font-weight="normal" fill="#333" text-anchor="end"  >60000</text>
<line x1="347.3" y1="325.3" x2="347.3" y2="323.5" stroke="#444" stroke-width="0.7"/>
<line x1="368.3" y1="325.3" x2="368.3" y2="322.8" stroke="#444" stroke-width="0.7"/>
<line x1="389.3" y1="325.3" x2="389.3" y2="323.5" stroke="#444" stroke-width="0.7"/>
<line x1="410.3" y1="325.3" x2="410.3" y2="322.8" stroke="#444" stroke-width="0.7"/>
<line x1="431.2" y1="325.3" x2="431.2" y2="323.5" stroke="#444" stroke-width="0.7"/>
<line x1="452.2" y1="325.3" x2="452.2" y2="322.8" stroke="#444" stroke-width="0.7"/>
<line x1="473.2" y1="325.3" x2="473.2" y2="323.5" stroke="#444" stroke-width="0.7"/>
<line x1="494.2" y1="325.3" x2="494.2" y2="322.8" stroke="#444" stroke-width="0.7"/>
<text x="368.3" y="331.8" font-family='"Liberation Sans", sans-serif' font-size="5.7" font-weight="normal" fill="#333" text-anchor="middle"  >540</text>
<text x="410.3" y="331.8" font-family='"Liberation Sans", sans-serif' font-size="5.7" font-weight="normal" fill="#333" text-anchor="middle"  >535</text>
<text x="452.2" y="331.8" font-family='"Liberation Sans", sans-serif' font-size="5.7" font-weight="normal" fill="#333" text-anchor="middle"  >530</text>
<text x="494.2" y="331.8" font-family='"Liberation Sans", sans-serif' font-size="5.7" font-weight="normal" fill="#333" text-anchor="middle"  >525</text>
<text x="316.5" y="263.0" font-family='"Liberation Serif", serif' font-size="9.6" font-weight="bold" fill="#000" text-anchor="middle" dominant-baseline="central" transform="rotate(-90 316.5 263.0)">CPS</text>
<text x="399.7" y="344.5" font-family='"Liberation Serif", serif' font-size="9.5" font-weight="bold">Bonding energy (eV)</text>
<text x="357.4" y="213.4" font-family='"Liberation Serif", serif' font-size="9.6" font-weight="bold">DLSF O <tspan font-style="italic">1s</tspan></text>
<polyline points="362.4,308.3 363.9,308.4 365.4,308.4 366.9,308.4 368.4,308.2 369.9,308.3 371.4,307.5 372.9,307.7 374.4,308.0 375.9,307.6 377.4,307.8 378.9,307.2 380.4,307.5 381.9,307.3 383.4,307.5 384.9,308.0 386.4,307.9 387.9,308.5 389.4,309.0 390.9,309.9 392.4,310.2 393.9,309.8 395.4,310.4 396.9,310.0 398.4,310.5 399.9,310.2 401.4,310.2 402.9,311.0 404.4,310.5 405.9,310.5 407.4,311.1 408.9,311.0 410.4,310.6 411.9,311.1 413.4,310.8 414.9,310.9 416.4,310.6 417.9,311.2 419.4,311.0 420.9,311.2 422.4,311.2 423.9,310.7 425.4,310.8 426.9,310.6 428.4,310.6 429.9,310.6 431.4,310.8 432.9,311.0 434.4,310.6 435.9,311.1 437.4,310.8 438.9,310.8 440.4,311.3 441.9,311.0 443.4,310.9 444.9,311.0 446.4,311.2 447.9,310.6 449.4,311.4 450.9,310.6 452.4,311.2 453.9,311.3 455.4,310.6 456.9,311.2 458.4,310.9 459.9,311.1 461.4,310.6 462.9,310.6 464.4,310.8 465.9,311.4 467.4,310.8 468.9,311.3 470.4,311.5 471.9,311.5 473.4,311.1 474.9,311.1 476.4,311.3 477.9,311.5 479.4,311.0 480.9,311.5 482.4,311.6 483.9,311.6 485.4,311.0 486.9,311.7 488.4,311.1 489.9,311.3 491.4,311.5 492.9,311.8 494.4,311.3 495.9,311.8 497.4,311.5 498.9,311.3 500.4,311.4 501.9,311.3 503.4,311.2 504.9,311.3 506.4,311.7 507.9,312.0 509.4,311.4 510.9,311.3 512.4,312.0 513.9,311.7 515.4,311.6" fill="none" stroke="#e020e0" stroke-width="1.2" stroke-linejoin="round" />
<polyline points="410.0,310.7 410.5,310.7 411.0,310.7 411.5,310.7 412.0,310.7 412.5,310.6 413.0,310.6 413.5,310.5 414.0,310.5 414.5,310.4 415.0,310.3 415.5,310.2 416.0,310.1 416.5,309.9 417.0,309.7 417.5,309.4 418.0,309.1 418.5,308.7 419.0,308.3 419.5,307.8 420.0,307.1 420.5,306.4 421.0,305.6 421.5,304.7 422.0,303.6 422.5,302.3 423.0,300.9 423.5,299.3 424.0,297.6 424.5,295.6 425.0,293.4 425.5,291.0 426.0,288.4 426.5,285.6 427.0,282.5 427.5,279.2 428.0,275.7 428.5,272.0 429.0,268.2 429.5,264.1 430.0,260.0 430.5,255.7 431.0,251.3 431.5,247.0 432.0,242.6 432.5,238.3 433.0,234.1 433.5,230.0 434.0,226.2 434.5,222.5 435.0,219.2 435.5,216.2 436.0,213.5 436.5,211.3 437.0,209.5 437.5,208.2 438.0,207.3 438.5,207.0 439.0,207.2 439.5,208.2 440.0,210.0 440.5,212.4 441.0,215.5 441.5,219.2 442.0,223.4 442.5,228.0 443.0,233.0 443.5,238.2 444.0,243.6 444.5,249.0 445.0,254.4 445.5,259.7 446.0,264.9 446.5,269.9 447.0,274.6 447.5,279.0 448.0,283.0 448.5,286.8 449.0,290.2 449.5,293.2 450.0,295.9 450.5,298.3 451.0,300.4 451.5,302.2 452.0,303.8 452.5,305.1 453.0,306.2 453.5,307.2 454.0,307.9 454.5,308.6 455.0,309.1 455.5,309.5 456.0,309.8 456.5,310.1 457.0,310.3 457.5,310.5 458.0,310.6 458.5,310.7 459.0,310.8 459.5,310.8 460.0,310.9 460.5,310.9 461.0,310.9 461.5,311.0 462.0,311.0 462.5,311.0 463.0,311.0 463.5,311.0 464.0,311.0 464.5,311.0 465.0,311.0" fill="none" stroke="#111" stroke-width="1.3" stroke-linejoin="round" />
<polyline points="411.0,310.0 411.5,309.9 412.0,309.7 412.5,309.5 413.0,309.3 413.5,309.0 414.0,308.8 414.5,308.4 415.0,308.0 415.5,307.6 416.0,307.1 416.5,306.6 417.0,306.0 417.5,305.4 418.0,304.6 418.5,303.8 419.0,303.0 419.5,302.0 420.0,301.0 420.5,299.9 421.0,298.8 421.5,297.5 422.0,296.2 422.5,294.8 423.0,293.4 423.5,291.9 424.0,290.3 424.5,288.7 425.0,287.1 425.5,285.5 426.0,283.8 426.5,282.2 427.0,280.6 427.5,279.0 428.0,277.5 428.5,276.0 429.0,274.6 429.5,273.3 430.0,272.1 430.5,271.0 431.0,270.0 431.5,269.2 432.0,268.5 432.5,268.0 433.0,267.7 433.5,267.5 434.0,267.5 434.5,267.6 435.0,267.9 435.5,268.4 436.0,269.1 436.5,269.9 437.0,270.8 437.5,271.9 438.0,273.1 438.5,274.4 439.0,275.8 439.5,277.2 440.0,278.8 440.5,280.4 441.0,282.0 441.5,283.6 442.0,285.3 442.5,286.9 443.0,288.5 443.5,290.1 444.0,291.7 444.5,293.2 445.0,294.7 445.5,296.1 446.0,297.4 446.5,298.7 447.0,299.8 447.5,301.0 448.0,302.0 448.5,303.0 449.0,303.8 449.5,304.7 450.0,305.4 450.5,306.1 451.0,306.7 451.5,307.2 452.0,307.7 452.5,308.2 453.0,308.6 453.5,308.9 454.0,309.2 454.5,309.5 455.0,309.7 455.5,309.9 456.0,310.1 456.5,310.2 457.0,310.4 457.5,310.5 458.0,310.6" fill="none" stroke="#1a1aee" stroke-width="1.3" stroke-linejoin="round" />
<polyline points="422.0,310.6 422.5,310.6 423.0,310.4 423.5,310.3 424.0,310.1 424.5,309.8 425.0,309.5 425.5,309.1 426.0,308.6 426.5,307.9 427.0,307.1 427.5,306.2 428.0,305.0 428.5,303.7 429.0,302.1 429.5,300.2 430.0,298.2 430.5,295.8 431.0,293.2 431.5,290.4 432.0,287.3 432.5,284.1 433.0,280.7 433.5,277.2 434.0,273.7 434.5,270.2 435.0,266.9 435.5,263.7 436.0,260.8 436.5,258.3 437.0,256.2 437.5,254.6 438.0,253.5 438.5,253.0 439.0,253.1 439.5,253.7 440.0,254.9 440.5,256.6 441.0,258.8 441.5,261.4 442.0,264.4 442.5,267.5 443.0,270.9 443.5,274.4 444.0,277.9 444.5,281.4 445.0,284.8 445.5,288.0 446.0,291.0 446.5,293.8 447.0,296.4 447.5,298.7 448.0,300.7 448.5,302.5 449.0,304.1 449.5,305.4 450.0,306.5 450.5,307.4 451.0,308.2 451.5,308.8 452.0,309.3 452.5,309.7 453.0,310.0 453.5,310.3 454.0,310.5 454.5,310.6 455.0,310.7 455.5,310.8 456.0,310.9" fill="none" stroke="#ee2020" stroke-width="1.2" stroke-linejoin="round" />
<text x="462.8" y="256.4" font-family='"Liberation Sans", sans-serif' font-size="7" font-weight="normal" fill="#222" text-anchor="start"  >531.6eV</text>
<text x="462.8" y="264.8" font-family='"Liberation Sans", sans-serif' font-size="7" font-weight="normal" fill="#222" text-anchor="start"  >C=O</text>
<text x="462.8" y="273.2" font-family='"Liberation Sans", sans-serif' font-size="7" font-weight="normal" fill="#222" text-anchor="start"  >44.67%</text>
<text x="375.7" y="270.0" font-family='"Liberation Sans", sans-serif' font-size="7" font-weight="normal" fill="#222" text-anchor="start"  >532.2eV</text>
<text x="375.7" y="278.0" font-family='"Liberation Sans", sans-serif' font-size="7" font-weight="normal" fill="#222" text-anchor="start"  >C-O-C</text>
<text x="375.7" y="286.0" font-family='"Liberation Sans", sans-serif' font-size="7" font-weight="normal" fill="#222" text-anchor="start"  >55.33%</text>
<line x1="439.5" y1="259.9" x2="459.8" y2="254.0" stroke="#222" stroke-width="0.6"/>
<polygon points="462.2,253.3 460.1,255.1 459.5,252.9" fill="#222"/>
<line x1="426.7" y1="279.6" x2="407.6" y2="275.9" stroke="#222" stroke-width="0.6"/>
<polygon points="405.1,275.4 407.8,274.8 407.3,277.0" fill="#222"/>
<rect x="337.7" y="361.0" width="184.90000000000003" height="124.39999999999998" fill="none" stroke="#444" stroke-width="1.0"/>
<line x1="336.7" y1="478.7" x2="339.5" y2="478.7" stroke="#444" stroke-width="0.7"/>
<line x1="336.7" y1="471.3" x2="340.2" y2="471.3" stroke="#444" stroke-width="0.7"/>
<line x1="336.7" y1="463.9" x2="339.5" y2="463.9" stroke="#444" stroke-width="0.7"/>
<line x1="336.7" y1="456.5" x2="340.2" y2="456.5" stroke="#444" stroke-width="0.7"/>
<line x1="336.7" y1="449.1" x2="339.5" y2="449.1" stroke="#444" stroke-width="0.7"/>
<line x1="336.7" y1="441.7" x2="340.2" y2="441.7" stroke="#444" stroke-width="0.7"/>
<line x1="336.7" y1="434.3" x2="339.5" y2="434.3" stroke="#444" stroke-width="0.7"/>
<line x1="336.7" y1="426.9" x2="340.2" y2="426.9" stroke="#444" stroke-width="0.7"/>
<line x1="336.7" y1="419.5" x2="339.5" y2="419.5" stroke="#444" stroke-width="0.7"/>
<line x1="336.7" y1="412.0" x2="340.2" y2="412.0" stroke="#444" stroke-width="0.7"/>
<line x1="336.7" y1="404.6" x2="339.5" y2="404.6" stroke="#444" stroke-width="0.7"/>
<line x1="336.7" y1="397.2" x2="340.2" y2="397.2" stroke="#444" stroke-width="0.7"/>
<line x1="336.7" y1="389.8" x2="339.5" y2="389.8" stroke="#444" stroke-width="0.7"/>
<line x1="336.7" y1="382.4" x2="340.2" y2="382.4" stroke="#444" stroke-width="0.7"/>
<line x1="336.7" y1="375.0" x2="339.5" y2="375.0" stroke="#444" stroke-width="0.7"/>
<line x1="336.7" y1="367.6" x2="340.2" y2="367.6" stroke="#444" stroke-width="0.7"/>
<text x="334.4" y="473.3" font-family='"Liberation Sans", sans-serif' font-size="5.7" font-weight="normal" fill="#333" text-anchor="end"  >10000</text>
<text x="334.4" y="458.5" font-family='"Liberation Sans", sans-serif' font-size="5.7" font-weight="normal" fill="#333" text-anchor="end"  >20000</text>
<text x="334.4" y="443.7" font-family='"Liberation Sans", sans-serif' font-size="5.7" font-weight="normal" fill="#333" text-anchor="end"  >30000</text>
<text x="334.4" y="428.9" font-family='"Liberation Sans", sans-serif' font-size="5.7" font-weight="normal" fill="#333" text-anchor="end"  >40000</text>
<text x="334.4" y="414.0" font-family='"Liberation Sans", sans-serif' font-size="5.7" font-weight="normal" fill="#333" text-anchor="end"  >50000</text>
<text x="334.4" y="399.2" font-family='"Liberation Sans", sans-serif' font-size="5.7" font-weight="normal" fill="#333" text-anchor="end"  >60000</text>
<text x="334.4" y="384.4" font-family='"Liberation Sans", sans-serif' font-size="5.7" font-weight="normal" fill="#333" text-anchor="end"  >70000</text>
<text x="334.4" y="369.6" font-family='"Liberation Sans", sans-serif' font-size="5.7" font-weight="normal" fill="#333" text-anchor="end"  >80000</text>
<line x1="351.0" y1="485.4" x2="351.0" y2="483.6" stroke="#444" stroke-width="0.7"/>
<line x1="371.9" y1="485.4" x2="371.9" y2="482.9" stroke="#444" stroke-width="0.7"/>
<line x1="392.8" y1="485.4" x2="392.8" y2="483.6" stroke="#444" stroke-width="0.7"/>
<line x1="413.7" y1="485.4" x2="413.7" y2="482.9" stroke="#444" stroke-width="0.7"/>
<line x1="434.6" y1="485.4" x2="434.6" y2="483.6" stroke="#444" stroke-width="0.7"/>
<line x1="455.5" y1="485.4" x2="455.5" y2="482.9" stroke="#444" stroke-width="0.7"/>
<line x1="476.4" y1="485.4" x2="476.4" y2="483.6" stroke="#444" stroke-width="0.7"/>
<line x1="497.3" y1="485.4" x2="497.3" y2="482.9" stroke="#444" stroke-width="0.7"/>
<line x1="518.2" y1="485.4" x2="518.2" y2="483.6" stroke="#444" stroke-width="0.7"/>
<text x="371.9" y="492.5" font-family='"Liberation Sans", sans-serif' font-size="5.7" font-weight="normal" fill="#333" text-anchor="middle"  >540</text>
<text x="413.7" y="492.5" font-family='"Liberation Sans", sans-serif' font-size="5.7" font-weight="normal" fill="#333" text-anchor="middle"  >535</text>
<text x="455.5" y="492.5" font-family='"Liberation Sans", sans-serif' font-size="5.7" font-weight="normal" fill="#333" text-anchor="middle"  >530</text>
<text x="497.3" y="492.5" font-family='"Liberation Sans", sans-serif' font-size="5.7" font-weight="normal" fill="#333" text-anchor="middle"  >525</text>
<text x="312.3" y="427.4" font-family='"Liberation Serif", serif' font-size="9" font-weight="bold" fill="#000" text-anchor="middle" dominant-baseline="central" transform="rotate(-90 312.3 427.4)">CPS</text>
<text x="392.5" y="503" font-family='"Liberation Serif", serif' font-size="9.5" font-weight="bold">Bonding energy (eV)</text>
<text x="358.5" y="379" font-family='"Liberation Serif", serif' font-size="9.5" font-weight="bold">SCS O <tspan font-style="italic">1s</tspan></text>
<polyline points="350.2,464.6 350.7,464.6 351.2,464.6 351.7,464.6 352.2,464.6 352.7,464.6 353.2,464.6 353.7,464.6 354.2,464.6 354.7,464.6 355.2,464.6 355.7,464.6 356.2,464.6 356.7,464.6 357.2,464.6 357.7,464.6 358.2,464.6 358.7,464.6 359.2,464.6 359.7,464.6 360.2,464.6 360.7,464.6 361.2,464.6 361.7,464.6 362.2,464.6 362.7,464.6 363.2,464.6 363.7,464.6 364.2,464.6 364.7,464.6 365.2,464.6 365.7,464.6 366.2,464.6 366.7,464.6 367.2,464.6 367.7,464.6 368.2,464.6 368.7,464.6 369.2,464.6 369.7,464.6 370.2,464.6 370.7,464.6 371.2,464.6 371.7,464.6 372.2,464.6 372.7,464.6 373.2,464.6 373.7,464.6 374.2,464.6 374.7,464.6 375.2,464.6 375.7,464.6 376.2,464.6 376.7,464.6 377.2,464.6 377.7,464.6 378.2,464.6 378.7,464.6 379.2,464.6 379.7,464.6 380.2,464.7 380.7,464.8 381.2,464.9 381.7,465.0 382.2,465.1 382.7,465.2 383.2,465.3 383.7,465.4 384.2,465.5 384.7,465.6 385.2,465.7 385.7,465.8 386.2,465.9 386.7,466.0 387.2,466.1 387.7,466.2 388.2,466.3 388.7,466.4 389.2,466.5 389.7,466.6 390.2,466.7 390.7,466.8 391.2,466.9 391.7,467.0 392.2,467.1 392.7,467.2 393.2,467.3 393.7,467.2 394.2,465.8 394.7,465.8 395.2,465.8 395.7,465.7 396.2,465.7 396.7,465.7 397.2,465.6 397.7,465.5 398.2,465.4 398.7,465.3 399.2,465.1 399.7,464.9 400.2,464.7 400.7,464.4 401.2,464.1 401.7,463.8 402.2,463.5 402.7,463.2 403.2,462.9 403.7,462.5 404.2,462.2 404.7,461.9 405.2,461.7 405.7,461.5 406.2,461.3 406.7,461.2 407.2,461.2 407.7,461.3 408.2,461.4 408.7,461.5 409.2,461.8 409.7,462.1 410.2,462.4 410.7,462.7 411.2,463.1 411.7,463.4 412.2,463.8 412.7,464.1 413.2,464.5 413.7,464.8 414.2,465.0 414.7,465.3 415.2,465.5 415.7,465.7 416.2,465.8 416.7,465.9 417.2,466.0 417.7,466.0 418.2,466.0 418.7,466.0 419.2,465.9 419.7,465.8 420.2,466.2 420.7,465.9 421.2,465.7 421.7,465.3 422.2,465.0 422.7,464.5 423.2,464.0 423.7,463.4 424.2,462.7 424.7,462.0 425.2,461.1 425.7,460.2 426.2,459.1 426.7,458.0 427.2,456.8 427.7,455.5 428.2,454.1 428.7,452.6 429.2,451.0 429.7,449.3 430.2,447.6 430.7,445.9 431.2,444.0 431.7,442.1 432.2,440.2 432.7,438.1 433.2,436.0 433.7,433.8 434.2,431.5 434.7,429.1 435.2,426.6 435.7,424.0 436.2,421.3 436.7,418.4 437.2,415.3 437.7,412.2 438.2,408.9 438.7,405.6 439.2,402.1 439.7,398.7 440.2,395.3 440.7,392.0 441.2,388.9 441.7,385.9 442.2,383.3 442.7,381.0 443.2,379.1 443.7,377.7 444.2,376.9 444.7,376.6 445.2,376.8 445.7,377.7 446.2,379.2 446.7,381.3 447.2,383.9 447.7,387.1 448.2,390.7 448.7,394.7 449.2,398.9 449.7,403.5 450.2,408.2 450.7,412.9 451.2,417.7 451.7,422.4 452.2,427.0 452.7,431.4 453.2,435.6 453.7,439.5 454.2,443.1 454.7,446.5 455.2,449.5 455.7,452.2 456.2,454.6 456.7,456.8 457.2,458.6 457.7,460.2 458.2,461.6 458.7,462.7 459.2,463.7 459.7,464.5 460.2,465.2 460.7,465.8 461.2,466.2 461.7,466.6 462.2,466.9 462.7,467.3 463.2,467.6 463.7,467.9 464.2,468.2 464.7,468.5 465.2,468.7 465.7,468.9 466.2,469.1 466.7,469.3 467.2,469.5 467.7,469.7 468.2,469.8 468.7,470.0 469.2,470.2 469.7,470.4 470.2,470.5 470.7,470.5 471.2,470.6 471.7,470.6 472.2,470.6 472.7,470.7 473.2,470.7 473.7,470.8 474.2,470.8 474.7,470.8 475.2,470.9 475.7,470.9 476.2,471.0 476.7,471.0 477.2,471.0 477.7,471.1 478.2,471.1 478.7,471.2 479.2,471.2 479.7,471.2 480.2,471.3 480.7,471.2 481.2,471.2 481.7,471.2 482.2,471.2 482.7,471.2 483.2,471.1 483.7,471.1 484.2,471.1 484.7,471.1 485.2,471.1 485.7,471.0 486.2,471.0 486.7,471.0 487.2,471.0 487.7,471.0 488.2,470.9 488.7,470.9 489.2,470.9 489.7,470.9 490.2,470.9 490.7,470.8 491.2,470.8 491.7,470.8 492.2,470.8 492.7,470.8 493.2,470.8 493.7,470.7 494.2,470.7 494.7,470.7 495.2,470.6 495.7,470.5 496.2,470.4 496.7,470.3 497.2,470.2 497.7,470.1 498.2,469.9 498.7,469.8 499.2,469.7 499.7,469.6 500.2,469.5 500.7,469.4 501.2,469.2 501.7,469.1 502.2,469.0 502.7,468.9" fill="none" stroke="#111" stroke-width="1.0" stroke-linejoin="round" />
<polyline points="350.2,464.6 355.2,464.7 360.2,464.9 365.2,465.0 370.2,465.2 375.2,465.3 380.2,465.4 385.2,465.6 390.2,465.7 395.2,465.9 400.2,466.0 405.2,466.2 410.2,466.3 415.2,466.4 420.2,466.6 425.2,466.7 430.2,466.9 435.2,467.0 440.2,467.1 445.2,467.3 450.2,467.4 455.2,467.6 460.2,467.7 465.2,467.8 470.2,468.0 475.2,468.1 480.2,468.3 485.2,468.4 490.2,468.5 495.2,468.7 500.2,468.8" fill="none" stroke="#2a9a2a" stroke-width="1.2" stroke-linejoin="round" />
<polyline points="415.0,466.4 415.5,466.4 416.0,466.4 416.5,466.3 417.0,466.3 417.5,466.3 418.0,466.2 418.5,466.1 419.0,466.0 419.5,465.9 420.0,465.8 420.5,465.6 421.0,465.3 421.5,465.1 422.0,464.7 422.5,464.3 423.0,463.9 423.5,463.4 424.0,462.8 424.5,462.1 425.0,461.3 425.5,460.5 426.0,459.6 426.5,458.6 427.0,457.6 427.5,456.4 428.0,455.3 428.5,454.0 429.0,452.8 429.5,451.6 430.0,450.4 430.5,449.2 431.0,448.1 431.5,447.0 432.0,446.1 432.5,445.3 433.0,444.6 433.5,444.1 434.0,443.7 434.5,443.5 435.0,443.5 435.5,443.7 436.0,444.0 436.5,444.6 437.0,445.2 437.5,446.1 438.0,447.0 438.5,448.1 439.0,449.2 439.5,450.4 440.0,451.6 440.5,452.9 441.0,454.2 441.5,455.4 442.0,456.6 442.5,457.8 443.0,458.9 443.5,459.9 444.0,460.9 444.5,461.7 445.0,462.5 445.5,463.3 446.0,463.9 446.5,464.5 447.0,465.0 447.5,465.4 448.0,465.7 448.5,466.1 449.0,466.3 449.5,466.6 450.0,466.7 450.5,466.9 451.0,467.0 451.5,467.1 452.0,467.2 452.5,467.3 453.0,467.4 453.5,467.4 454.0,467.4 454.5,467.5 455.0,467.5 455.5,467.5 456.0,467.6" fill="none" stroke="#1a1aee" stroke-width="1.2" stroke-linejoin="round" />
<polyline points="425.0,466.6 425.5,466.5 426.0,466.5 426.5,466.4 427.0,466.3 427.5,466.2 428.0,466.0 428.5,465.8 429.0,465.5 429.5,465.1 430.0,464.7 430.5,464.1 431.0,463.4 431.5,462.5 432.0,461.5 432.5,460.3 433.0,458.8 433.5,457.1 434.0,455.1 434.5,452.9 435.0,450.3 435.5,447.4 436.0,444.2 436.5,440.7 437.0,436.9 437.5,432.8 438.0,428.4 438.5,423.8 439.0,419.0 439.5,414.2 440.0,409.3 440.5,404.5 441.0,399.8 441.5,395.3 442.0,391.1 442.5,387.3 443.0,384.0 443.5,381.3 444.0,379.2 444.5,377.7 445.0,376.9 445.5,376.8 446.0,377.5 446.5,378.9 447.0,380.9 447.5,383.6 448.0,386.8 448.5,390.5 449.0,394.6 449.5,399.1 450.0,403.8 450.5,408.6 451.0,413.5 451.5,418.4 452.0,423.2 452.5,427.9 453.0,432.3 453.5,436.5 454.0,440.5 454.5,444.1 455.0,447.4 455.5,450.3 456.0,453.0 456.5,455.3 457.0,457.4 457.5,459.2 458.0,460.7 458.5,462.0 459.0,463.1 459.5,464.0 460.0,464.8 460.5,465.4 461.0,465.9 461.5,466.4 462.0,466.7 462.5,467.0 463.0,467.2 463.5,467.3 464.0,467.5 464.5,467.6 465.0,467.7 465.5,467.7 466.0,467.8" fill="none" stroke="#ee2020" stroke-width="1.2" stroke-linejoin="round" />
<text x="461.9" y="382.5" font-family='"Liberation Sans", sans-serif' font-size="7" font-weight="normal" fill="#222" text-anchor="start"  >C=O</text>
<text x="461.9" y="390.0" font-family='"Liberation Sans", sans-serif' font-size="7" font-weight="normal" fill="#222" text-anchor="start"  >77.37%</text>
<text x="461.9" y="397.5" font-family='"Liberation Sans", sans-serif' font-size="7" font-weight="normal" fill="#222" text-anchor="start"  >531.1eV</text>
<text x="397.9" y="423.4" font-family='"Liberation Sans", sans-serif' font-size="7" font-weight="normal" fill="#222" text-anchor="start"  >C-O-C</text>
<text x="397.9" y="430.4" font-family='"Liberation Sans", sans-serif' font-size="7" font-weight="normal" fill="#222" text-anchor="start"  >19.21%</text>
<text x="397.9" y="437.4" font-family='"Liberation Sans", sans-serif' font-size="7" font-weight="normal" fill="#222" text-anchor="start"  >532.5eV</text>
<line x1="448.5" y1="393.2" x2="457.9" y2="390.7" stroke="#222" stroke-width="0.6"/>
<polygon points="460.3,390.0 458.2,391.7 457.6,389.6" fill="#222"/>
<line x1="428.7" y1="439.8" x2="424.2" y2="435.3" stroke="#222" stroke-width="0.6"/>
<polygon points="422.4,433.5 424.9,434.5 423.4,436.0" fill="#222"/>
<line x1="591.5" y1="206.5" x2="591.5" y2="328.5" stroke="#555" stroke-width="1"/>
<line x1="591.0" y1="328.0" x2="758.1" y2="328.0" stroke="#555" stroke-width="1"/>
<line x1="591.5" y1="319.2" x2="593.3" y2="319.2" stroke="#555" stroke-width="0.7"/>
<line x1="589.0" y1="310.6" x2="591.5" y2="310.6" stroke="#555" stroke-width="0.7"/>
<line x1="591.5" y1="301.9" x2="593.3" y2="301.9" stroke="#555" stroke-width="0.7"/>
<line x1="589.0" y1="293.3" x2="591.5" y2="293.3" stroke="#555" stroke-width="0.7"/>
<line x1="591.5" y1="284.6" x2="593.3" y2="284.6" stroke="#555" stroke-width="0.7"/>
<line x1="589.0" y1="276.0" x2="591.5" y2="276.0" stroke="#555" stroke-width="0.7"/>
<line x1="591.5" y1="267.3" x2="593.3" y2="267.3" stroke="#555" stroke-width="0.7"/>
<line x1="589.0" y1="258.6" x2="591.5" y2="258.6" stroke="#555" stroke-width="0.7"/>
<line x1="591.5" y1="250.0" x2="593.3" y2="250.0" stroke="#555" stroke-width="0.7"/>
<line x1="589.0" y1="241.3" x2="591.5" y2="241.3" stroke="#555" stroke-width="0.7"/>
<line x1="591.5" y1="232.7" x2="593.3" y2="232.7" stroke="#555" stroke-width="0.7"/>
<line x1="589.0" y1="224.0" x2="591.5" y2="224.0" stroke="#555" stroke-width="0.7"/>
<line x1="591.5" y1="215.4" x2="593.3" y2="215.4" stroke="#555" stroke-width="0.7"/>
<line x1="589.0" y1="206.7" x2="591.5" y2="206.7" stroke="#555" stroke-width="0.7"/>
<text x="588.1" y="312.5" font-family='"Liberation Sans", sans-serif' font-size="5.5" font-weight="normal" fill="#333" text-anchor="end"  >5000</text>
<text x="588.1" y="295.2" font-family='"Liberation Sans", sans-serif' font-size="5.5" font-weight="normal" fill="#333" text-anchor="end"  >10000</text>
<text x="588.1" y="277.9" font-family='"Liberation Sans", sans-serif' font-size="5.5" font-weight="normal" fill="#333" text-anchor="end"  >15000</text>
<text x="588.1" y="260.5" font-family='"Liberation Sans", sans-serif' font-size="5.5" font-weight="normal" fill="#333" text-anchor="end"  >20000</text>
<text x="588.1" y="243.2" font-family='"Liberation Sans", sans-serif' font-size="5.5" font-weight="normal" fill="#333" text-anchor="end"  >25000</text>
<text x="588.1" y="225.9" font-family='"Liberation Sans", sans-serif' font-size="5.5" font-weight="normal" fill="#333" text-anchor="end"  >30000</text>
<text x="588.1" y="208.6" font-family='"Liberation Sans", sans-serif' font-size="5.5" font-weight="normal" fill="#333" text-anchor="end"  >35000</text>
<line x1="618.5" y1="328.0" x2="618.5" y2="325.0" stroke="#555" stroke-width="0.7"/>
<line x1="643.7" y1="328.0" x2="643.7" y2="326.0" stroke="#555" stroke-width="0.7"/>
<line x1="668.9" y1="328.0" x2="668.9" y2="325.0" stroke="#555" stroke-width="0.7"/>
<line x1="694.1" y1="328.0" x2="694.1" y2="326.0" stroke="#555" stroke-width="0.7"/>
<line x1="719.3" y1="328.0" x2="719.3" y2="325.0" stroke="#555" stroke-width="0.7"/>
<line x1="744.5" y1="328.0" x2="744.5" y2="326.0" stroke="#555" stroke-width="0.7"/>
<text x="618.5" y="337.4" font-family='"Liberation Sans", sans-serif' font-size="5.7" font-weight="normal" fill="#333" text-anchor="middle"  >1196</text>
<text x="668.9" y="337.4" font-family='"Liberation Sans", sans-serif' font-size="5.7" font-weight="normal" fill="#333" text-anchor="middle"  >1200</text>
<text x="719.3" y="337.4" font-family='"Liberation Sans", sans-serif' font-size="5.7" font-weight="normal" fill="#333" text-anchor="middle"  >1204</text>
<text x="600.4" y="215.9" font-family='"Liberation Serif", serif' font-size="9.4" font-weight="bold">DCS C <tspan font-style="italic">1s</tspan></text>
<polyline points="592.5,319.5 593.0,319.5 593.5,319.5 594.0,319.6 594.5,319.6 595.0,319.7 595.5,319.7 596.0,319.8 596.5,319.8 597.0,319.8 597.5,319.9 598.0,319.9 598.5,320.0 599.0,320.0 599.5,320.1 600.0,320.1 600.5,320.1 601.0,320.2 601.5,320.2 602.0,320.3 602.5,320.3 603.0,320.4 603.5,320.4 604.0,320.5 604.5,320.5 605.0,320.5 605.5,320.6 606.0,320.6 606.5,320.7 607.0,320.7 607.5,320.8 608.0,320.8 608.5,320.8 609.0,320.9 609.5,320.9 610.0,321.0 610.5,321.0 611.0,321.1 611.5,321.1 612.0,321.1 612.5,321.2 613.0,321.2 613.5,321.3 614.0,321.3 614.5,321.4 615.0,321.4 615.5,321.4 616.0,321.5 616.5,321.5 617.0,321.6 617.5,321.6 618.0,321.7 618.5,321.7 619.0,321.7 619.5,321.7 620.0,321.7 620.5,321.7 621.0,321.7 621.5,321.7 622.0,321.7 622.5,321.7 623.0,321.8 623.5,321.8 624.0,321.8 624.5,321.8 625.0,321.8 625.5,321.7 626.0,321.7 626.5,321.7 627.0,321.7 627.5,321.7 628.0,321.6 628.5,321.6 629.0,321.5 629.5,321.4 630.0,321.3 630.5,321.2 631.0,321.1 631.5,320.9 632.0,320.6 632.5,320.3 633.0,320.0 633.5,319.6 634.0,319.1 634.5,318.6 635.0,318.0 635.5,317.2 636.0,316.4 636.5,315.4 637.0,314.3 637.5,313.0 638.0,311.6 638.5,310.0 639.0,308.3 639.5,306.4 640.0,304.3 640.5,302.1 641.0,299.6 641.5,297.0 642.0,294.3 642.5,291.4 643.0,288.4 643.5,285.3 644.0,282.1 644.5,278.8 645.0,275.6 645.5,272.3 646.0,269.1 646.5,266.0 647.0,263.0 647.5,260.2 648.0,257.6 648.5,255.2 649.0,253.1 649.5,251.3 650.0,249.8 650.5,248.7 651.0,247.9 651.5,247.5 652.0,247.5 652.5,247.9 653.0,248.6 653.5,249.7 654.0,251.1 654.5,252.8 655.0,254.8 655.5,257.0 656.0,259.4 656.5,262.0 657.0,264.6 657.5,267.3 658.0,270.0 658.5,272.7 659.0,275.2 659.5,277.7 660.0,279.9 660.5,282.0 661.0,283.8 661.5,285.3 662.0,286.5 662.5,287.5 663.0,288.0 663.5,288.3 664.0,288.2 664.5,287.8 665.0,287.0 665.5,285.9 666.0,284.5 666.5,282.9 667.0,281.0 667.5,278.9 668.0,276.5 668.5,274.1 669.0,271.5 669.5,268.9 670.0,266.3 670.5,263.6 671.0,261.0 671.5,258.6 672.0,256.2 672.5,254.0 673.0,252.0 673.5,250.3 674.0,248.7 674.5,247.4 675.0,246.3 675.5,245.5 676.0,244.9 676.5,244.6 677.0,244.4 677.5,244.4 678.0,244.5 678.5,244.8 679.0,245.1 679.5,245.5 680.0,245.8 680.5,246.1 681.0,246.3 681.5,246.5 682.0,246.4 682.5,246.3 683.0,245.9 683.5,245.3 684.0,244.6 684.5,243.6 685.0,242.4 685.5,241.1 686.0,239.5 686.5,237.9 687.0,236.1 687.5,234.3 688.0,232.4 688.5,230.6 689.0,228.8 689.5,227.1 690.0,225.6 690.5,224.2 691.0,223.0 691.5,222.2 692.0,221.6 692.5,221.3 693.0,221.3 693.5,221.7 694.0,222.6 694.5,223.9 695.0,225.7 695.5,227.9 696.0,230.6 696.5,233.6 697.0,237.0 697.5,240.6 698.0,244.6 698.5,248.7 699.0,253.0 699.5,257.4 700.0,261.8 700.5,266.3 701.0,270.7 701.5,275.0 702.0,279.2 702.5,283.2 703.0,287.1 703.5,290.8 704.0,294.2 704.5,297.4 705.0,300.4 705.5,303.1 706.0,305.6 706.5,307.9 707.0,310.0 707.5,311.8 708.0,313.4 708.5,314.8 709.0,316.1 709.5,317.2 710.0,318.2 710.5,319.0 711.0,319.7 711.5,320.3 712.0,320.8 712.5,321.2 713.0,321.6 713.5,321.9 714.0,322.1 714.5,322.3 715.0,322.5 715.5,322.6 716.0,322.7 716.5,322.8 717.0,322.9 717.5,322.9 718.0,323.0 718.5,323.0 719.0,323.1 719.5,323.1 720.0,323.1 720.5,323.1 721.0,323.1 721.5,323.2 722.0,323.2 722.5,323.2 723.0,323.2 723.5,323.2 724.0,323.2 724.5,323.2 725.0,323.2 725.5,323.2 726.0,323.2 726.5,323.2 727.0,323.3 727.5,323.3 728.0,323.3 728.5,323.3 729.0,323.3 729.5,323.3 730.0,323.3 730.5,323.3 731.0,323.3 731.5,323.3 732.0,323.3 732.5,323.3 733.0,323.3 733.5,323.3 734.0,323.4 734.5,323.4 735.0,323.4 735.5,323.4 736.0,323.4 736.5,323.4 737.0,323.4 737.5,323.4 738.0,323.4 738.5,323.4 739.0,323.4 739.5,323.4 740.0,323.4 740.5,323.4 741.0,323.5 741.5,323.5 742.0,323.5 742.5,323.5 743.0,323.5 743.5,323.5 744.0,323.5 744.5,323.5 745.0,323.5 745.5,323.5 746.0,323.5 746.5,323.5 747.0,323.5 747.5,323.5 748.0,323.6 748.5,323.6 749.0,323.6 749.5,323.6 750.0,323.6 750.5,323.6 751.0,323.6 751.5,323.6 752.0,323.6 752.5,323.6 753.0,323.6 753.5,323.6 754.0,323.6 754.5,323.6 755.0,323.7 755.5,323.7 756.0,323.7 756.5,323.7 757.0,323.7" fill="none" stroke="#111" stroke-width="1.2" stroke-linejoin="round" />
<polyline points="622.7,321.8 623.2,321.8 623.7,321.8 624.2,321.8 624.7,321.8 625.2,321.8 625.7,321.7 626.2,321.7 626.7,321.7 627.2,321.7 627.7,321.7 628.2,321.6 628.7,321.6 629.2,321.5 629.7,321.4 630.2,321.3 630.7,321.1 631.2,321.0 631.7,320.8 632.2,320.5 632.7,320.2 633.2,319.8 633.7,319.4 634.2,318.9 634.7,318.3 635.2,317.6 635.7,316.8 636.2,315.9 636.7,314.9 637.2,313.7 637.7,312.4 638.2,310.9 638.7,309.3 639.2,307.5 639.7,305.5 640.2,303.3 640.7,301.0 641.2,298.5 641.7,295.9 642.2,293.0 642.7,290.1 643.2,287.0 643.7,283.9 644.2,280.7 644.7,277.4 645.2,274.1 645.7,270.9 646.2,267.7 646.7,264.7 647.2,261.8 647.7,259.0 648.2,256.5 648.7,254.3 649.2,252.3 649.7,250.7 650.2,249.3 650.7,248.4 651.2,247.8 651.7,247.7 652.2,247.9 652.7,248.5 653.2,249.5 653.7,250.8 654.2,252.5 654.7,254.5 655.2,256.8 655.7,259.4 656.2,262.1 656.7,265.1 657.2,268.2 657.7,271.3 658.2,274.6 658.7,277.9 659.2,281.1 659.7,284.4 660.2,287.5 660.7,290.6 661.2,293.6 661.7,296.4 662.2,299.0 662.7,301.5 663.2,303.9 663.7,306.0 664.2,308.0 664.7,309.8 665.2,311.4 665.7,312.9 666.2,314.2 666.7,315.4 667.2,316.5 667.7,317.4 668.2,318.2 668.7,318.9 669.2,319.5 669.7,320.0 670.2,320.4 670.7,320.8 671.2,321.1 671.7,321.4 672.2,321.6 672.7,321.8 673.2,321.9 673.7,322.0 674.2,322.1 674.7,322.2 675.2,322.3 675.7,322.3 676.2,322.4 676.7,322.4 677.2,322.5 677.7,322.5 678.2,322.5 678.7,322.5 679.2,322.5 679.7,322.6 680.2,322.6" fill="none" stroke="#22dd22" stroke-width="1.2" stroke-linejoin="round" />
<polyline points="646.2,322.1 646.7,322.1 647.2,322.1 647.7,322.1 648.2,322.1 648.7,322.1 649.2,322.1 649.7,322.1 650.2,322.1 650.7,322.0 651.2,322.0 651.7,322.0 652.2,321.9 652.7,321.8 653.2,321.8 653.7,321.7 654.2,321.5 654.7,321.4 655.2,321.2 655.7,320.9 656.2,320.6 656.7,320.3 657.2,319.9 657.7,319.4 658.2,318.9 658.7,318.2 659.2,317.5 659.7,316.6 660.2,315.6 660.7,314.5 661.2,313.3 661.7,311.9 662.2,310.3 662.7,308.6 663.2,306.7 663.7,304.7 664.2,302.5 664.7,300.1 665.2,297.6 665.7,294.9 666.2,292.2 666.7,289.3 667.2,286.3 667.7,283.2 668.2,280.1 668.7,277.1 669.2,274.0 669.7,271.0 670.2,268.1 670.7,265.3 671.2,262.8 671.7,260.4 672.2,258.2 672.7,256.4 673.2,254.8 673.7,253.6 674.2,252.7 674.7,252.2 675.2,252.0 675.7,252.2 676.2,252.8 676.7,253.7 677.2,255.0 677.7,256.6 678.2,258.5 678.7,260.7 679.2,263.1 679.7,265.7 680.2,268.5 680.7,271.4 681.2,274.4 681.7,277.5 682.2,280.6 682.7,283.7 683.2,286.7 683.7,289.7 684.2,292.6 684.7,295.4 685.2,298.1 685.7,300.6 686.2,303.0 686.7,305.2 687.2,307.2 687.7,309.1 688.2,310.8 688.7,312.4 689.2,313.8 689.7,315.0 690.2,316.1 690.7,317.1 691.2,318.0 691.7,318.7 692.2,319.4 692.7,320.0 693.2,320.4 693.7,320.9 694.2,321.2 694.7,321.5 695.2,321.7 695.7,322.0 696.2,322.1 696.7,322.3 697.2,322.4 697.7,322.5 698.2,322.6 698.7,322.6 699.2,322.7 699.7,322.7 700.2,322.8 700.7,322.8 701.2,322.8 701.7,322.8 702.2,322.9 702.7,322.9 703.2,322.9 703.7,322.9" fill="none" stroke="#2222ee" stroke-width="1.2" stroke-linejoin="round" />
<polyline points="661.4,322.3 661.9,322.3 662.4,322.3 662.9,322.3 663.4,322.3 663.9,322.3 664.4,322.3 664.9,322.3 665.4,322.3 665.9,322.2 666.4,322.2 666.9,322.2 667.4,322.1 667.9,322.0 668.4,322.0 668.9,321.9 669.4,321.7 669.9,321.6 670.4,321.4 670.9,321.2 671.4,320.9 671.9,320.6 672.4,320.2 672.9,319.8 673.4,319.3 673.9,318.7 674.4,318.0 674.9,317.3 675.4,316.4 675.9,315.4 676.4,314.2 676.9,312.9 677.4,311.5 677.9,309.9 678.4,308.1 678.9,306.2 679.4,304.1 679.9,301.8 680.4,299.2 680.9,296.5 681.4,293.7 681.9,290.6 682.4,287.4 682.9,283.9 683.4,280.4 683.9,276.7 684.4,272.9 684.9,269.1 685.4,265.1 685.9,261.2 686.4,257.3 686.9,253.4 687.4,249.6 687.9,245.9 688.4,242.4 688.9,239.1 689.4,236.0 689.9,233.3 690.4,230.8 690.9,228.6 691.4,226.9 691.9,225.5 692.4,224.5 692.9,223.9 693.4,223.8 693.9,224.1 694.4,225.0 694.9,226.4 695.4,228.3 695.9,230.7 696.4,233.5 696.9,236.6 697.4,240.1 697.9,243.9 698.4,247.9 698.9,252.2 699.4,256.5 699.9,260.9 700.4,265.3 700.9,269.7 701.4,274.0 701.9,278.2 702.4,282.3 702.9,286.2 703.4,289.9 703.9,293.4 704.4,296.7 704.9,299.7 705.4,302.5 705.9,305.1 706.4,307.4 706.9,309.5 707.4,311.4 707.9,313.0 708.4,314.5 708.9,315.8 709.4,317.0 709.9,317.9 710.4,318.8 710.9,319.5 711.4,320.1 711.9,320.7 712.4,321.1 712.9,321.5 713.4,321.8 713.9,322.0 714.4,322.3 714.9,322.4 715.4,322.6 715.9,322.7 716.4,322.8 716.9,322.9 717.4,322.9 717.9,323.0 718.4,323.0 718.9,323.1 719.4,323.1 719.9,323.1 720.4,323.1 720.9,323.1 721.4,323.2 721.9,323.2 722.4,323.2 722.9,323.2 723.4,323.2 723.9,323.2 724.4,323.2 724.9,323.2" fill="none" stroke="#ee2222" stroke-width="1.2" stroke-linejoin="round" />
<text x="642.1" y="235.9" font-family='"Liberation Sans", sans-serif' font-size="6.5" font-weight="normal" fill="#222" text-anchor="start"  >C-O/C-N</text>
<text x="708.0" y="247.0" font-family='"Liberation Sans", sans-serif' font-size="6.5" font-weight="normal" fill="#222" text-anchor="start"  >C=O</text>
<text x="628.3" y="258.0" font-family='"Liberation Sans", sans-serif' font-size="6.5" font-weight="normal" fill="#222" text-anchor="start"  >C-C</text>
<line x1="657.8" y1="239.0" x2="668.3" y2="251.3" stroke="#222" stroke-width="0.6"/>
<polygon points="670.1,253.4 667.4,252.1 669.2,250.5" fill="#222"/>
<line x1="712.1" y1="248.3" x2="706.3" y2="256.6" stroke="#222" stroke-width="0.6"/>
<polygon points="704.7,258.9 705.3,255.9 707.3,257.3" fill="#222"/>
<line x1="634.7" y1="259.9" x2="641.4" y2="265.0" stroke="#222" stroke-width="0.6"/>
<polygon points="643.6,266.7 640.6,266.0 642.1,264.0" fill="#222"/>
<text x="559.3" y="265.6" font-family='"Liberation Serif", serif' font-size="9.8" font-weight="bold" fill="#000" text-anchor="middle" dominant-baseline="central" transform="rotate(-90 559.3 265.6)">CPS</text>
<polyline points="592.5,319.5 595.5,319.7 598.5,320.0 601.5,320.2 604.5,320.5 607.5,320.8 610.5,321.0 613.5,321.3 616.5,321.5 619.5,321.7 622.5,321.8 625.5,321.8 628.5,321.8 631.5,321.9 634.5,321.9 637.5,322.0 640.5,322.0 643.5,322.1 646.5,322.1 649.5,322.1 652.5,322.2 655.5,322.2 658.5,322.3 661.5,322.3 664.5,322.4 667.5,322.4 670.5,322.4 673.5,322.5 676.5,322.5 679.5,322.6 682.5,322.6 685.5,322.7 688.5,322.7 691.5,322.7 694.5,322.8 697.5,322.8 700.5,322.9 703.5,322.9 706.5,323.0 709.5,323.0 712.5,323.0 715.5,323.1 718.5,323.1 721.5,323.2 724.5,323.2 727.5,323.3 730.5,323.3 733.5,323.3 736.5,323.4 739.5,323.4 742.5,323.5 745.5,323.5 748.5,323.6 751.5,323.6 754.5,323.6 757.5,323.7" fill="none" stroke="#ee2222" stroke-width="1.1" stroke-linejoin="round" />
<line x1="591.4" y1="364.7" x2="591.4" y2="486.3" stroke="#555" stroke-width="1"/>
<line x1="590.9" y1="485.8" x2="757.2" y2="485.8" stroke="#555" stroke-width="1"/>
<line x1="591.4" y1="477.1" x2="593.2" y2="477.1" stroke="#555" stroke-width="0.7"/>
<line x1="588.9" y1="468.5" x2="591.4" y2="468.5" stroke="#555" stroke-width="0.7"/>
<line x1="591.4" y1="459.8" x2="593.2" y2="459.8" stroke="#555" stroke-width="0.7"/>
<line x1="588.9" y1="451.2" x2="591.4" y2="451.2" stroke="#555" stroke-width="0.7"/>
<line x1="591.4" y1="442.5" x2="593.2" y2="442.5" stroke="#555" stroke-width="0.7"/>
<line x1="588.9" y1="433.9" x2="591.4" y2="433.9" stroke="#555" stroke-width="0.7"/>
<line x1="591.4" y1="425.2" x2="593.2" y2="425.2" stroke="#555" stroke-width="0.7"/>
<line x1="588.9" y1="416.5" x2="591.4" y2="416.5" stroke="#555" stroke-width="0.7"/>
<line x1="591.4" y1="407.9" x2="593.2" y2="407.9" stroke="#555" stroke-width="0.7"/>
<line x1="588.9" y1="399.2" x2="591.4" y2="399.2" stroke="#555" stroke-width="0.7"/>
<line x1="591.4" y1="390.6" x2="593.2" y2="390.6" stroke="#555" stroke-width="0.7"/>
<line x1="588.9" y1="381.9" x2="591.4" y2="381.9" stroke="#555" stroke-width="0.7"/>
<line x1="591.4" y1="373.3" x2="593.2" y2="373.3" stroke="#555" stroke-width="0.7"/>
<line x1="588.9" y1="364.6" x2="591.4" y2="364.6" stroke="#555" stroke-width="0.7"/>
<text x="588.0" y="470.4" font-family='"Liberation Sans", sans-serif' font-size="5.5" font-weight="normal" fill="#333" text-anchor="end"  >5000</text>
<text x="588.0" y="453.1" font-family='"Liberation Sans", sans-serif' font-size="5.5" font-weight="normal" fill="#333" text-anchor="end"  >10000</text>
<text x="588.0" y="435.8" font-family='"Liberation Sans", sans-serif' font-size="5.5" font-weight="normal" fill="#333" text-anchor="end"  >15000</text>
<text x="588.0" y="418.4" font-family='"Liberation Sans", sans-serif' font-size="5.5" font-weight="normal" fill="#333" text-anchor="end"  >20000</text>
<text x="588.0" y="401.1" font-family='"Liberation Sans", sans-serif' font-size="5.5" font-weight="normal" fill="#333" text-anchor="end"  >25000</text>
<text x="588.0" y="383.8" font-family='"Liberation Sans", sans-serif' font-size="5.5" font-weight="normal" fill="#333" text-anchor="end"  >30000</text>
<text x="588.0" y="366.5" font-family='"Liberation Sans", sans-serif' font-size="5.5" font-weight="normal" fill="#333" text-anchor="end"  >35000</text>
<line x1="616.6" y1="485.8" x2="616.6" y2="482.8" stroke="#555" stroke-width="0.7"/>
<line x1="642.3" y1="485.8" x2="642.3" y2="483.8" stroke="#555" stroke-width="0.7"/>
<line x1="668.0" y1="485.8" x2="668.0" y2="482.8" stroke="#555" stroke-width="0.7"/>
<line x1="693.7" y1="485.8" x2="693.7" y2="483.8" stroke="#555" stroke-width="0.7"/>
<line x1="719.3" y1="485.8" x2="719.3" y2="482.8" stroke="#555" stroke-width="0.7"/>
<line x1="745.0" y1="485.8" x2="745.0" y2="483.8" stroke="#555" stroke-width="0.7"/>
<text x="616.6" y="494.8" font-family='"Liberation Sans", sans-serif' font-size="5.7" font-weight="normal" fill="#333" text-anchor="middle"  >1198</text>
<text x="668.0" y="494.8" font-family='"Liberation Sans", sans-serif' font-size="5.7" font-weight="normal" fill="#333" text-anchor="middle"  >1200</text>
<text x="719.3" y="494.8" font-family='"Liberation Sans", sans-serif' font-size="5.7" font-weight="normal" fill="#333" text-anchor="middle"  >1204</text>
<text x="601" y="381.5" font-family='"Liberation Serif", serif' font-size="9.4" font-weight="bold">SCS C <tspan font-style="italic">1s</tspan></text>
<polyline points="592.4,476.8 592.9,476.8 593.4,476.8 593.9,476.9 594.4,476.9 594.9,476.9 595.4,476.9 595.9,476.9 596.4,476.9 596.9,477.0 597.4,477.0 597.9,477.0 598.4,477.0 598.9,477.0 599.4,477.0 599.9,477.0 600.4,477.1 600.9,477.1 601.4,477.1 601.9,477.1 602.4,477.1 602.9,477.1 603.4,477.2 603.9,477.2 604.4,477.2 604.9,477.2 605.4,477.2 605.9,477.2 606.4,477.3 606.9,477.3 607.4,477.3 607.9,477.3 608.4,477.3 608.9,477.3 609.4,477.3 609.9,477.4 610.4,477.4 610.9,477.4 611.4,477.4 611.9,477.4 612.4,477.4 612.9,477.4 613.4,477.5 613.9,477.5 614.4,477.5 614.9,477.5 615.4,477.5 615.9,477.5 616.4,477.5 616.9,477.5 617.4,477.5 617.9,477.5 618.4,477.5 618.9,477.5 619.4,477.5 619.9,477.5 620.4,477.5 620.9,477.5 621.4,477.4 621.9,477.4 622.4,477.4 622.9,477.3 623.4,477.2 623.9,477.2 624.4,477.1 624.9,477.0 625.4,476.8 625.9,476.7 626.4,476.5 626.9,476.3 627.4,476.1 627.9,475.8 628.4,475.6 628.9,475.2 629.4,474.9 629.9,474.5 630.4,474.0 630.9,473.5 631.4,472.9 631.9,472.3 632.4,471.7 632.9,470.9 633.4,470.1 633.9,469.3 634.4,468.3 634.9,467.3 635.4,466.3 635.9,465.1 636.4,463.9 636.9,462.6 637.4,461.2 637.9,459.8 638.4,458.3 638.9,456.7 639.4,455.1 639.9,453.4 640.4,451.6 640.9,449.8 641.4,448.0 641.9,446.1 642.4,444.2 642.9,442.3 643.4,440.4 643.9,438.5 644.4,436.5 644.9,434.7 645.4,432.8 645.9,431.0 646.4,429.2 646.9,427.5 647.4,425.9 647.9,424.3 648.4,422.8 648.9,421.4 649.4,420.1 649.9,418.9 650.4,417.8 650.9,416.8 651.4,415.9 651.9,415.1 652.4,414.3 652.9,413.7 653.4,413.2 653.9,412.7 654.4,412.3 654.9,412.0 655.4,411.8 655.9,411.5 656.4,411.3 656.9,411.2 657.4,411.0 657.9,410.9 658.4,410.7 658.9,410.6 659.4,410.4 659.9,410.1 660.4,409.8 660.9,409.5 661.4,409.1 661.9,408.7 662.4,408.2 662.9,407.6 663.4,406.9 663.9,406.2 664.4,405.5 664.9,404.7 665.4,403.8 665.9,402.9 666.4,401.9 666.9,400.9 667.4,399.9 667.9,398.8 668.4,397.8 668.9,396.8 669.4,395.7 669.9,394.7 670.4,393.7 670.9,392.8 671.4,391.9 671.9,391.0 672.4,390.2 672.9,389.4 673.4,388.7 673.9,388.0 674.4,387.4 674.9,386.8 675.4,386.3 675.9,385.8 676.4,385.4 676.9,385.0 677.4,384.7 677.9,384.3 678.4,384.0 678.9,383.8 679.4,383.5 679.9,383.3 680.4,383.0 680.9,382.8 681.4,382.6 681.9,382.4 682.4,382.2 682.9,382.0 683.4,381.8 683.9,381.6 684.4,381.5 684.9,381.3 685.4,381.2 685.9,381.2 686.4,381.1 686.9,381.2 687.4,381.3 687.9,381.5 688.4,381.7 688.9,382.1 689.4,382.6 689.9,383.1 690.4,383.8 690.9,384.7 691.4,385.6 691.9,386.7 692.4,387.9 692.9,389.3 693.4,390.8 693.9,392.4 694.4,394.2 694.9,396.1 695.4,398.1 695.9,400.3 696.4,402.6 696.9,404.9 697.4,407.4 697.9,409.9 698.4,412.5 698.9,415.2 699.4,417.9 699.9,420.7 700.4,423.4 700.9,426.2 701.4,429.0 701.9,431.7 702.4,434.5 702.9,437.1 703.4,439.8 703.9,442.3 704.4,444.8 704.9,447.3 705.4,449.6 705.9,451.8 706.4,454.0 706.9,456.1 707.4,458.0 707.9,459.9 708.4,461.7 708.9,463.3 709.4,464.9 709.9,466.3 710.4,467.7 710.9,468.9 711.4,470.1 711.9,471.2 712.4,472.2 712.9,473.1 713.4,473.9 713.9,474.7 714.4,475.4 714.9,476.0 715.4,476.6 715.9,477.1 716.4,477.6 716.9,478.0 717.4,478.3 717.9,478.7 718.4,479.0 718.9,479.2 719.4,479.5 719.9,479.7 720.4,479.8 720.9,480.0 721.4,480.1 721.9,480.3 722.4,480.4 722.9,480.5 723.4,480.6 723.9,480.6 724.4,480.7 724.9,480.8 725.4,480.8 725.9,480.9 726.4,480.9 726.9,480.9 727.4,481.0 727.9,481.0 728.4,481.0 728.9,481.1 729.4,481.1 729.9,481.1 730.4,481.1 730.9,481.2 731.4,481.2 731.9,481.2 732.4,481.2 732.9,481.2 733.4,481.2 733.9,481.3 734.4,481.3 734.9,481.3 735.4,481.3 735.9,481.3 736.4,481.3 736.9,481.4 737.4,481.4 737.9,481.4 738.4,481.4 738.9,481.4 739.4,481.4 739.9,481.5 740.4,481.5 740.9,481.5 741.4,481.5 741.9,481.5 742.4,481.5 742.9,481.6 743.4,481.6 743.9,481.6 744.4,481.6 744.9,481.6 745.4,481.6 745.9,481.7 746.4,481.7 746.9,481.7 747.4,481.7 747.9,481.7 748.4,481.7 748.9,481.7 749.4,481.8 749.9,481.8 750.4,481.8 750.9,481.8 751.4,481.8 751.9,481.8 752.4,481.9 752.9,481.9 753.4,481.9 753.9,481.9 754.4,481.9 754.9,481.9 755.4,481.9 755.9,482.0" fill="none" stroke="#111" stroke-width="1.2" stroke-linejoin="round" />
<polyline points="612.6,477.4 613.1,477.5 613.6,477.5 614.1,477.5 614.6,477.5 615.1,477.5 615.6,477.5 616.1,477.5 616.6,477.5 617.1,477.5 617.6,477.5 618.1,477.5 618.6,477.5 619.1,477.5 619.6,477.5 620.1,477.5 620.6,477.5 621.1,477.5 621.6,477.4 622.1,477.4 622.6,477.3 623.1,477.3 623.6,477.2 624.1,477.1 624.6,477.0 625.1,476.9 625.6,476.8 626.1,476.6 626.6,476.4 627.1,476.2 627.6,476.0 628.1,475.7 628.6,475.4 629.1,475.1 629.6,474.7 630.1,474.3 630.6,473.8 631.1,473.3 631.6,472.7 632.1,472.1 632.6,471.4 633.1,470.6 633.6,469.8 634.1,468.9 634.6,467.9 635.1,466.9 635.6,465.8 636.1,464.6 636.6,463.4 637.1,462.1 637.6,460.7 638.1,459.2 638.6,457.7 639.1,456.1 639.6,454.5 640.1,452.8 640.6,451.1 641.1,449.3 641.6,447.5 642.1,445.7 642.6,443.8 643.1,442.0 643.6,440.1 644.1,438.3 644.6,436.6 645.1,434.8 645.6,433.2 646.1,431.5 646.6,430.0 647.1,428.6 647.6,427.2 648.1,426.0 648.6,424.9 649.1,423.9 649.6,423.1 650.1,422.4 650.6,421.9 651.1,421.5 651.6,421.3 652.1,421.2 652.6,421.3 653.1,421.6 653.6,422.0 654.1,422.6 654.6,423.3 655.1,424.2 655.6,425.2 656.1,426.3 656.6,427.6 657.1,429.0 657.6,430.5 658.1,432.0 658.6,433.7 659.1,435.4 659.6,437.2 660.1,439.0 660.6,440.8 661.1,442.7 661.6,444.6 662.1,446.4 662.6,448.3 663.1,450.1 663.6,451.9 664.1,453.7 664.6,455.4 665.1,457.1 665.6,458.7 666.1,460.2 666.6,461.7 667.1,463.1 667.6,464.5 668.1,465.7 668.6,466.9 669.1,468.1 669.6,469.1 670.1,470.1 670.6,471.0 671.1,471.9 671.6,472.7 672.1,473.4 672.6,474.0 673.1,474.6 673.6,475.2 674.1,475.7 674.6,476.1 675.1,476.6 675.6,476.9 676.1,477.3 676.6,477.6 677.1,477.8 677.6,478.1 678.1,478.3 678.6,478.5 679.1,478.6 679.6,478.8 680.1,478.9 680.6,479.0 681.1,479.1 681.6,479.2 682.1,479.3 682.6,479.4 683.1,479.4 683.6,479.5 684.1,479.5 684.6,479.6 685.1,479.6 685.6,479.7 686.1,479.7 686.6,479.7 687.1,479.7 687.6,479.8 688.1,479.8 688.6,479.8 689.1,479.8 689.6,479.9 690.1,479.9 690.6,479.9 691.1,479.9" fill="none" stroke="#22dd22" stroke-width="1.2" stroke-linejoin="round" />
<polyline points="633.0,478.1 633.5,478.1 634.0,478.1 634.5,478.1 635.0,478.1 635.5,478.1 636.0,478.1 636.5,478.2 637.0,478.2 637.5,478.2 638.0,478.2 638.5,478.2 639.0,478.2 639.5,478.1 640.0,478.1 640.5,478.1 641.0,478.1 641.5,478.1 642.0,478.0 642.5,478.0 643.0,477.9 643.5,477.8 644.0,477.7 644.5,477.6 645.0,477.5 645.5,477.4 646.0,477.2 646.5,477.0 647.0,476.8 647.5,476.6 648.0,476.3 648.5,476.0 649.0,475.6 649.5,475.2 650.0,474.8 650.5,474.3 651.0,473.7 651.5,473.1 652.0,472.4 652.5,471.7 653.0,470.9 653.5,470.0 654.0,469.1 654.5,468.0 655.0,466.9 655.5,465.7 656.0,464.4 656.5,463.0 657.0,461.5 657.5,460.0 658.0,458.3 658.5,456.6 659.0,454.7 659.5,452.8 660.0,450.9 660.5,448.8 661.0,446.7 661.5,444.5 662.0,442.3 662.5,440.1 663.0,437.8 663.5,435.5 664.0,433.2 664.5,430.9 665.0,428.6 665.5,426.4 666.0,424.2 666.5,422.0 667.0,420.0 667.5,418.0 668.0,416.2 668.5,414.4 669.0,412.8 669.5,411.3 670.0,410.0 670.5,408.9 671.0,407.9 671.5,407.1 672.0,406.5 672.5,406.1 673.0,405.9 673.5,405.9 674.0,406.1 674.5,406.5 675.0,407.0 675.5,407.8 676.0,408.8 676.5,409.9 677.0,411.2 677.5,412.6 678.0,414.2 678.5,416.0 679.0,417.8 679.5,419.8 680.0,421.9 680.5,424.0 681.0,426.2 681.5,428.5 682.0,430.8 682.5,433.1 683.0,435.5 683.5,437.8 684.0,440.1 684.5,442.4 685.0,444.7 685.5,446.9 686.0,449.0 686.5,451.1 687.0,453.2 687.5,455.1 688.0,457.0 688.5,458.8 689.0,460.5 689.5,462.1 690.0,463.6 690.5,465.1 691.0,466.4 691.5,467.7 692.0,468.9 692.5,470.0 693.0,471.0 693.5,471.9 694.0,472.8 694.5,473.6 695.0,474.3 695.5,475.0 696.0,475.6 696.5,476.1 697.0,476.6 697.5,477.0 698.0,477.4 698.5,477.8 699.0,478.1 699.5,478.4 700.0,478.7 700.5,478.9 701.0,479.1 701.5,479.3 702.0,479.4 702.5,479.6 703.0,479.7 703.5,479.8 704.0,479.9 704.5,480.0 705.0,480.0 705.5,480.1 706.0,480.2 706.5,480.2 707.0,480.3 707.5,480.3 708.0,480.3 708.5,480.4 709.0,480.4 709.5,480.4 710.0,480.5 710.5,480.5 711.0,480.5 711.5,480.5 712.0,480.6 712.5,480.6 713.0,480.6 713.5,480.6" fill="none" stroke="#2222ee" stroke-width="1.2" stroke-linejoin="round" />
<polyline points="651.6,478.7 652.1,478.7 652.6,478.7 653.1,478.7 653.6,478.7 654.1,478.7 654.6,478.7 655.1,478.7 655.6,478.7 656.1,478.7 656.6,478.7 657.1,478.7 657.6,478.7 658.1,478.7 658.6,478.7 659.1,478.7 659.6,478.6 660.1,478.6 660.6,478.6 661.1,478.5 661.6,478.4 662.1,478.4 662.6,478.3 663.1,478.1 663.6,478.0 664.1,477.8 664.6,477.7 665.1,477.4 665.6,477.2 666.1,476.9 666.6,476.6 667.1,476.3 667.6,475.9 668.1,475.4 668.6,474.9 669.1,474.4 669.6,473.7 670.1,473.1 670.6,472.3 671.1,471.5 671.6,470.6 672.1,469.6 672.6,468.5 673.1,467.4 673.6,466.1 674.1,464.7 674.6,463.3 675.1,461.7 675.6,460.1 676.1,458.4 676.6,456.5 677.1,454.6 677.6,452.5 678.1,450.4 678.6,448.2 679.1,445.9 679.6,443.6 680.1,441.1 680.6,438.7 681.1,436.2 681.6,433.6 682.1,431.0 682.6,428.5 683.1,425.9 683.6,423.4 684.1,420.9 684.6,418.4 685.1,416.0 685.6,413.7 686.1,411.5 686.6,409.5 687.1,407.5 687.6,405.7 688.1,404.1 688.6,402.6 689.1,401.3 689.6,400.2 690.1,399.4 690.6,398.7 691.1,398.2 691.6,398.0 692.1,398.0 692.6,398.2 693.1,398.6 693.6,399.2 694.1,400.1 694.6,401.2 695.1,402.4 695.6,403.9 696.1,405.5 696.6,407.3 697.1,409.2 697.6,411.3 698.1,413.5 698.6,415.8 699.1,418.2 699.6,420.6 700.1,423.2 700.6,425.7 701.1,428.3 701.6,430.9 702.1,433.5 702.6,436.1 703.1,438.7 703.6,441.2 704.1,443.7 704.6,446.1 705.1,448.4 705.6,450.7 706.1,452.8 706.6,454.9 707.1,456.9 707.6,458.8 708.1,460.6 708.6,462.3 709.1,464.0 709.6,465.5 710.1,466.9 710.6,468.2 711.1,469.4 711.6,470.5 712.1,471.6 712.6,472.5 713.1,473.4 713.6,474.2 714.1,475.0 714.6,475.6 715.1,476.2 715.6,476.8 716.1,477.3 716.6,477.7 717.1,478.1 717.6,478.5 718.1,478.8 718.6,479.1 719.1,479.3 719.6,479.5 720.1,479.7 720.6,479.9 721.1,480.1 721.6,480.2 722.1,480.3 722.6,480.4 723.1,480.5 723.6,480.6 724.1,480.7 724.6,480.7 725.1,480.8 725.6,480.8 726.1,480.9 726.6,480.9 727.1,481.0 727.6,481.0 728.1,481.0 728.6,481.0 729.1,481.1 729.6,481.1 730.1,481.1 730.6,481.1 731.1,481.2 731.6,481.2 732.1,481.2" fill="none" stroke="#ee2222" stroke-width="1.2" stroke-linejoin="round" />
<text x="638.8" y="389.1" font-family='"Liberation Sans", sans-serif' font-size="6.5" font-weight="normal" fill="#222" text-anchor="start"  >C-O/C-N</text>
<text x="705.7" y="400.1" font-family='"Liberation Sans", sans-serif' font-size="6.5" font-weight="normal" fill="#222" text-anchor="start"  >C=O</text>
<text x="625.7" y="411.5" font-family='"Liberation Sans", sans-serif' font-size="6.5" font-weight="normal" fill="#222" text-anchor="start"  >C-C</text>
<line x1="655.6" y1="392.1" x2="665.7" y2="404.4" stroke="#222" stroke-width="0.6"/>
<polygon points="667.5,406.6 664.8,405.2 666.7,403.7" fill="#222"/>
<line x1="709.2" y1="401.3" x2="704.0" y2="409.6" stroke="#222" stroke-width="0.6"/>
<polygon points="702.5,412.0 703.0,409.0 705.0,410.3" fill="#222"/>
<line x1="632.4" y1="414.2" x2="638.8" y2="419.5" stroke="#222" stroke-width="0.6"/>
<polygon points="640.9,421.3 638.0,420.4 639.5,418.6" fill="#222"/>
<text x="635.4" y="505.7" font-family='"Liberation Serif", serif' font-size="9.5" font-weight="bold">Bonding energy (eV)</text>
<text x="555.0" y="430.3" font-family='"Liberation Serif", serif' font-size="9.8" font-weight="bold" fill="#000" text-anchor="middle" dominant-baseline="central" transform="rotate(-90 555.0 430.3)">CPS</text>
<polyline points="592.5,476.8 595.5,476.9 598.5,477.0 601.5,477.1 604.5,477.2 607.5,477.3 610.5,477.4 613.5,477.5 616.5,477.6 619.5,477.7 622.5,477.8 625.5,477.9 628.5,478.0 631.5,478.0 634.5,478.1 637.5,478.2 640.5,478.3 643.5,478.4 646.5,478.5 649.5,478.6 652.5,478.7 655.5,478.8 658.5,478.9 661.5,479.0 664.5,479.1 667.5,479.2 670.5,479.3 673.5,479.4 676.5,479.5 679.5,479.6 682.5,479.7 685.5,479.7 688.5,479.8 691.5,479.9 694.5,480.0 697.5,480.1 700.5,480.2 703.5,480.3 706.5,480.4 709.5,480.5 712.5,480.6 715.5,480.7 718.5,480.8 721.5,480.9 724.5,481.0 727.5,481.1 730.5,481.2 733.5,481.3 736.5,481.4 739.5,481.4 742.5,481.5 745.5,481.6 748.5,481.7 751.5,481.8 754.5,481.9" fill="none" stroke="#22dd22" stroke-width="1.1" stroke-linejoin="round" />
</svg>
</body></html>
